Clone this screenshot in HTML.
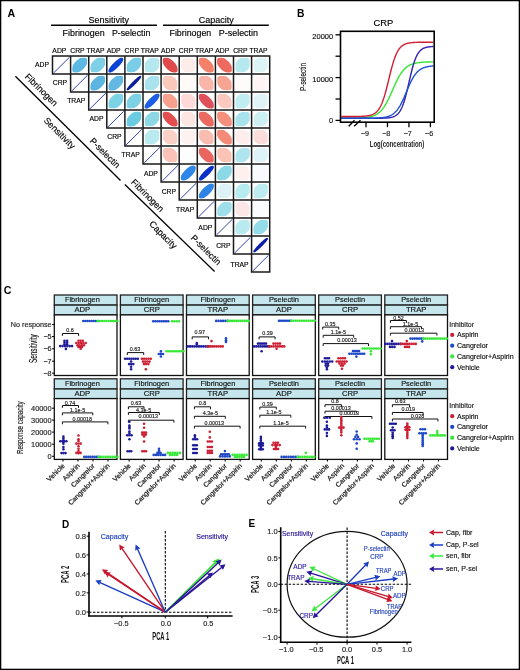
<!DOCTYPE html>
<html><head><meta charset="utf-8"><style>
html,body{margin:0;padding:0;background:#fff;}
svg{display:block;will-change:transform;}
text{font-family:"Liberation Sans", sans-serif;}
</style></head><body>
<svg width="520" height="670" viewBox="0 0 520 670">
<rect x="0" y="0" width="520" height="670" fill="#fff"/>
<text x="7.40" y="16.55" font-size="10.6" text-anchor="start" fill="#000" font-weight="bold">A</text>
<text x="88.50" y="22.80" font-size="9" text-anchor="start" fill="#000" stroke="#000" stroke-width="0.15" textLength="40.40" lengthAdjust="spacingAndGlyphs">Sensitivity</text>
<text x="198.75" y="22.50" font-size="9" text-anchor="start" fill="#000" stroke="#000" stroke-width="0.15" textLength="35.00" lengthAdjust="spacingAndGlyphs">Capacity</text>
<line x1="51.10" y1="25.30" x2="157.00" y2="25.30" stroke="#000" stroke-width="1.4"/>
<line x1="163.00" y1="25.20" x2="268.80" y2="25.20" stroke="#000" stroke-width="1.4"/>
<text x="62.60" y="36.20" font-size="9" text-anchor="start" fill="#000" stroke="#000" stroke-width="0.15" textLength="42.00" lengthAdjust="spacingAndGlyphs">Fibrinogen</text>
<text x="112.00" y="36.20" font-size="9" text-anchor="start" fill="#000" stroke="#000" stroke-width="0.15" textLength="38.30" lengthAdjust="spacingAndGlyphs">P-selectin</text>
<text x="169.50" y="36.20" font-size="9" text-anchor="start" fill="#000" stroke="#000" stroke-width="0.15" textLength="41.70" lengthAdjust="spacingAndGlyphs">Fibrinogen</text>
<text x="218.80" y="36.20" font-size="9" text-anchor="start" fill="#000" stroke="#000" stroke-width="0.15" textLength="39.20" lengthAdjust="spacingAndGlyphs">P-selectin</text>
<text x="59.35" y="53.10" font-size="6.8" text-anchor="middle" fill="#000" stroke="#000" stroke-width="0.15">ADP</text>
<text x="77.45" y="53.10" font-size="6.8" text-anchor="middle" fill="#000" stroke="#000" stroke-width="0.15">CRP</text>
<text x="95.55" y="53.10" font-size="6.8" text-anchor="middle" fill="#000" stroke="#000" stroke-width="0.15">TRAP</text>
<text x="113.65" y="53.10" font-size="6.8" text-anchor="middle" fill="#000" stroke="#000" stroke-width="0.15">ADP</text>
<text x="131.75" y="53.10" font-size="6.8" text-anchor="middle" fill="#000" stroke="#000" stroke-width="0.15">CRP</text>
<text x="149.85" y="53.10" font-size="6.8" text-anchor="middle" fill="#000" stroke="#000" stroke-width="0.15">TRAP</text>
<text x="167.95" y="53.10" font-size="6.8" text-anchor="middle" fill="#000" stroke="#000" stroke-width="0.15">ADP</text>
<text x="186.05" y="53.10" font-size="6.8" text-anchor="middle" fill="#000" stroke="#000" stroke-width="0.15">CRP</text>
<text x="204.15" y="53.10" font-size="6.8" text-anchor="middle" fill="#000" stroke="#000" stroke-width="0.15">TRAP</text>
<text x="222.25" y="53.10" font-size="6.8" text-anchor="middle" fill="#000" stroke="#000" stroke-width="0.15">ADP</text>
<text x="240.35" y="53.10" font-size="6.8" text-anchor="middle" fill="#000" stroke="#000" stroke-width="0.15">CRP</text>
<text x="258.45" y="53.10" font-size="6.8" text-anchor="middle" fill="#000" stroke="#000" stroke-width="0.15">TRAP</text>
<defs>
<clipPath id="cp0_1"><rect x="72.31" y="57.76" width="14.68" height="14.68" rx="2.0"/></clipPath>
<clipPath id="cp0_2"><rect x="90.49" y="57.84" width="14.52" height="14.52" rx="2.0"/></clipPath>
<clipPath id="cp0_3"><rect x="108.26" y="57.51" width="15.18" height="15.18" rx="2.0"/></clipPath>
<clipPath id="cp0_4"><rect x="126.69" y="57.84" width="14.52" height="14.52" rx="2.0"/></clipPath>
<clipPath id="cp0_5"><rect x="144.95" y="58.00" width="14.20" height="14.20" rx="2.0"/></clipPath>
<clipPath id="cp0_6"><rect x="162.75" y="57.70" width="14.79" height="14.79" rx="2.0"/></clipPath>
<clipPath id="cp0_7"><rect x="181.30" y="58.15" width="13.90" height="13.90" rx="2.0"/></clipPath>
<clipPath id="cp0_8"><rect x="199.01" y="57.76" width="14.68" height="14.68" rx="2.0"/></clipPath>
<clipPath id="cp0_9"><rect x="217.11" y="57.76" width="14.68" height="14.68" rx="2.0"/></clipPath>
<clipPath id="cp0_10"><rect x="235.45" y="58.00" width="14.20" height="14.20" rx="2.0"/></clipPath>
<clipPath id="cp0_11"><rect x="253.65" y="58.10" width="13.99" height="13.99" rx="2.0"/></clipPath>
<clipPath id="cp1_2"><rect x="90.41" y="75.76" width="14.68" height="14.68" rx="2.0"/></clipPath>
<clipPath id="cp1_3"><rect x="108.51" y="75.76" width="14.68" height="14.68" rx="2.0"/></clipPath>
<clipPath id="cp1_4"><rect x="126.29" y="75.44" width="15.32" height="15.32" rx="2.0"/></clipPath>
<clipPath id="cp1_5"><rect x="144.91" y="75.96" width="14.28" height="14.28" rx="2.0"/></clipPath>
<clipPath id="cp1_6"><rect x="163.05" y="76.00" width="14.20" height="14.20" rx="2.0"/></clipPath>
<clipPath id="cp1_7"><rect x="181.33" y="76.18" width="13.83" height="13.83" rx="2.0"/></clipPath>
<clipPath id="cp1_8"><rect x="199.21" y="75.96" width="14.28" height="14.28" rx="2.0"/></clipPath>
<clipPath id="cp1_9"><rect x="217.27" y="75.92" width="14.36" height="14.36" rx="2.0"/></clipPath>
<clipPath id="cp1_10"><rect x="235.64" y="76.19" width="13.82" height="13.82" rx="2.0"/></clipPath>
<clipPath id="cp1_11"><rect x="253.71" y="76.16" width="13.88" height="13.88" rx="2.0"/></clipPath>
<clipPath id="cp2_3"><rect x="108.59" y="93.84" width="14.52" height="14.52" rx="2.0"/></clipPath>
<clipPath id="cp2_4"><rect x="126.69" y="93.84" width="14.52" height="14.52" rx="2.0"/></clipPath>
<clipPath id="cp2_5"><rect x="144.49" y="93.54" width="15.13" height="15.13" rx="2.0"/></clipPath>
<clipPath id="cp2_6"><rect x="162.93" y="93.88" width="14.44" height="14.44" rx="2.0"/></clipPath>
<clipPath id="cp2_7"><rect x="181.23" y="94.08" width="14.04" height="14.04" rx="2.0"/></clipPath>
<clipPath id="cp2_8"><rect x="198.93" y="93.68" width="14.84" height="14.84" rx="2.0"/></clipPath>
<clipPath id="cp2_9"><rect x="217.35" y="94.00" width="14.20" height="14.20" rx="2.0"/></clipPath>
<clipPath id="cp2_10"><rect x="235.47" y="94.02" width="14.15" height="14.15" rx="2.0"/></clipPath>
<clipPath id="cp2_11"><rect x="253.67" y="94.12" width="13.96" height="13.96" rx="2.0"/></clipPath>
<clipPath id="cp3_4"><rect x="126.67" y="111.82" width="14.57" height="14.57" rx="2.0"/></clipPath>
<clipPath id="cp3_5"><rect x="144.83" y="111.88" width="14.44" height="14.44" rx="2.0"/></clipPath>
<clipPath id="cp3_6"><rect x="162.73" y="111.68" width="14.84" height="14.84" rx="2.0"/></clipPath>
<clipPath id="cp3_7"><rect x="181.27" y="112.12" width="13.96" height="13.96" rx="2.0"/></clipPath>
<clipPath id="cp3_8"><rect x="199.00" y="111.75" width="14.70" height="14.70" rx="2.0"/></clipPath>
<clipPath id="cp3_9"><rect x="217.15" y="111.80" width="14.60" height="14.60" rx="2.0"/></clipPath>
<clipPath id="cp3_10"><rect x="235.41" y="111.96" width="14.28" height="14.28" rx="2.0"/></clipPath>
<clipPath id="cp3_11"><rect x="253.61" y="112.06" width="14.09" height="14.09" rx="2.0"/></clipPath>
<clipPath id="cp4_5"><rect x="144.95" y="130.00" width="14.20" height="14.20" rx="2.0"/></clipPath>
<clipPath id="cp4_6"><rect x="163.09" y="130.04" width="14.12" height="14.12" rx="2.0"/></clipPath>
<clipPath id="cp4_7"><rect x="181.30" y="130.15" width="13.90" height="13.90" rx="2.0"/></clipPath>
<clipPath id="cp4_8"><rect x="199.21" y="129.96" width="14.28" height="14.28" rx="2.0"/></clipPath>
<clipPath id="cp4_9"><rect x="217.11" y="129.76" width="14.68" height="14.68" rx="2.0"/></clipPath>
<clipPath id="cp4_10"><rect x="235.59" y="130.14" width="13.91" height="13.91" rx="2.0"/></clipPath>
<clipPath id="cp4_11"><rect x="253.65" y="130.10" width="14.01" height="14.01" rx="2.0"/></clipPath>
<clipPath id="cp5_6"><rect x="163.03" y="147.98" width="14.23" height="14.23" rx="2.0"/></clipPath>
<clipPath id="cp5_7"><rect x="181.35" y="148.20" width="13.80" height="13.80" rx="2.0"/></clipPath>
<clipPath id="cp5_8"><rect x="198.99" y="147.74" width="14.73" height="14.73" rx="2.0"/></clipPath>
<clipPath id="cp5_9"><rect x="217.33" y="147.98" width="14.23" height="14.23" rx="2.0"/></clipPath>
<clipPath id="cp5_10"><rect x="235.41" y="147.96" width="14.28" height="14.28" rx="2.0"/></clipPath>
<clipPath id="cp5_11"><rect x="253.65" y="148.10" width="13.99" height="13.99" rx="2.0"/></clipPath>
<clipPath id="cp6_7"><rect x="180.77" y="165.62" width="14.95" height="14.95" rx="2.0"/></clipPath>
<clipPath id="cp6_8"><rect x="198.75" y="165.50" width="15.21" height="15.21" rx="2.0"/></clipPath>
<clipPath id="cp6_9"><rect x="217.21" y="165.86" width="14.47" height="14.47" rx="2.0"/></clipPath>
<clipPath id="cp6_10"><rect x="235.60" y="166.15" width="13.90" height="13.90" rx="2.0"/></clipPath>
<clipPath id="cp6_11"><rect x="253.73" y="166.18" width="13.85" height="13.85" rx="2.0"/></clipPath>
<clipPath id="cp7_8"><rect x="198.85" y="183.60" width="15.00" height="15.00" rx="2.0"/></clipPath>
<clipPath id="cp7_9"><rect x="217.45" y="184.10" width="14.01" height="14.01" rx="2.0"/></clipPath>
<clipPath id="cp7_10"><rect x="235.43" y="183.98" width="14.23" height="14.23" rx="2.0"/></clipPath>
<clipPath id="cp7_11"><rect x="253.54" y="183.99" width="14.22" height="14.22" rx="2.0"/></clipPath>
<clipPath id="cp8_9"><rect x="217.25" y="201.90" width="14.41" height="14.41" rx="2.0"/></clipPath>
<clipPath id="cp8_10"><rect x="235.57" y="202.12" width="13.96" height="13.96" rx="2.0"/></clipPath>
<clipPath id="cp8_11"><rect x="253.73" y="202.18" width="13.85" height="13.85" rx="2.0"/></clipPath>
<clipPath id="cp9_10"><rect x="235.43" y="219.98" width="14.23" height="14.23" rx="2.0"/></clipPath>
<clipPath id="cp9_11"><rect x="253.43" y="219.88" width="14.44" height="14.44" rx="2.0"/></clipPath>
<clipPath id="cp10_11"><rect x="252.99" y="237.44" width="15.32" height="15.32" rx="2.0"/></clipPath>
</defs>
<polygon points="86.65,58.10 86.95,58.46 87.20,58.86 87.39,59.32 87.52,59.81 87.59,60.35 87.60,60.92 87.55,61.53 87.44,62.16 87.27,62.82 87.04,63.49 86.75,64.17 86.42,64.87 86.03,65.56 85.59,66.25 85.10,66.93 84.58,67.60 84.02,68.25 83.42,68.87 82.80,69.47 82.15,70.03 81.48,70.55 80.80,71.04 80.11,71.48 79.42,71.87 78.72,72.20 78.04,72.49 77.37,72.72 76.71,72.89 76.08,73.00 75.47,73.05 74.90,73.04 74.36,72.97 73.87,72.84 73.41,72.65 73.01,72.40 72.65,72.10 72.35,71.74 72.10,71.34 71.91,70.88 71.78,70.39 71.71,69.85 71.70,69.28 71.75,68.67 71.86,68.04 72.03,67.38 72.26,66.71 72.55,66.03 72.88,65.33 73.27,64.64 73.71,63.95 74.20,63.27 74.72,62.60 75.28,61.95 75.88,61.33 76.50,60.73 77.15,60.17 77.82,59.65 78.50,59.16 79.19,58.72 79.88,58.33 80.58,58.00 81.26,57.71 81.93,57.48 82.59,57.31 83.22,57.20 83.83,57.15 84.40,57.16 84.94,57.23 85.43,57.36 85.89,57.55 86.29,57.80" fill="#5bb9e3" clip-path="url(#cp0_1)"/>
<polygon points="104.52,58.33 104.86,58.72 105.14,59.16 105.37,59.64 105.54,60.16 105.65,60.73 105.70,61.32 105.69,61.95 105.62,62.59 105.48,63.26 105.29,63.94 105.05,64.63 104.75,65.33 104.39,66.02 103.98,66.70 103.53,67.37 103.03,68.03 102.49,68.66 101.92,69.27 101.31,69.84 100.68,70.38 100.02,70.88 99.35,71.33 98.67,71.74 97.98,72.10 97.28,72.40 96.59,72.64 95.91,72.83 95.24,72.97 94.60,73.04 93.97,73.05 93.38,73.00 92.81,72.89 92.29,72.72 91.81,72.49 91.37,72.21 90.98,71.87 90.64,71.48 90.36,71.04 90.13,70.56 89.96,70.04 89.85,69.47 89.80,68.88 89.81,68.25 89.88,67.61 90.02,66.94 90.21,66.26 90.45,65.57 90.75,64.87 91.11,64.18 91.52,63.50 91.97,62.83 92.47,62.17 93.01,61.54 93.58,60.93 94.19,60.36 94.82,59.82 95.48,59.32 96.15,58.87 96.83,58.46 97.52,58.10 98.22,57.80 98.91,57.56 99.59,57.37 100.26,57.23 100.90,57.16 101.53,57.15 102.12,57.20 102.69,57.31 103.21,57.48 103.69,57.71 104.13,57.99" fill="#7dd0e6" clip-path="url(#cp0_2)"/>
<polygon points="123.52,57.43 123.67,57.65 123.77,57.92 123.80,58.24 123.77,58.62 123.69,59.04 123.54,59.51 123.34,60.03 123.08,60.58 122.76,61.17 122.39,61.78 121.97,62.43 121.50,63.09 121.00,63.77 120.45,64.45 119.87,65.15 119.25,65.84 118.61,66.53 117.95,67.20 117.28,67.86 116.59,68.50 115.90,69.12 115.20,69.70 114.52,70.25 113.84,70.75 113.18,71.22 112.53,71.64 111.92,72.01 111.33,72.33 110.78,72.59 110.26,72.79 109.79,72.94 109.37,73.02 108.99,73.05 108.67,73.02 108.40,72.92 108.18,72.77 108.03,72.55 107.93,72.28 107.90,71.96 107.93,71.58 108.01,71.16 108.16,70.69 108.36,70.17 108.62,69.62 108.94,69.03 109.31,68.42 109.73,67.77 110.20,67.11 110.70,66.43 111.25,65.75 111.83,65.05 112.45,64.36 113.09,63.67 113.75,63.00 114.42,62.34 115.11,61.70 115.80,61.08 116.50,60.50 117.18,59.95 117.86,59.45 118.52,58.98 119.17,58.56 119.78,58.19 120.37,57.87 120.92,57.61 121.44,57.41 121.91,57.26 122.33,57.18 122.71,57.15 123.03,57.18 123.30,57.28" fill="#0b43d6" clip-path="url(#cp0_3)"/>
<polygon points="140.72,58.33 141.06,58.72 141.34,59.16 141.57,59.64 141.74,60.16 141.85,60.73 141.90,61.32 141.89,61.95 141.82,62.59 141.68,63.26 141.49,63.94 141.25,64.63 140.95,65.33 140.59,66.02 140.18,66.70 139.73,67.37 139.23,68.03 138.69,68.66 138.12,69.27 137.51,69.84 136.88,70.38 136.22,70.88 135.55,71.33 134.87,71.74 134.18,72.10 133.48,72.40 132.79,72.64 132.11,72.83 131.44,72.97 130.80,73.04 130.17,73.05 129.58,73.00 129.01,72.89 128.49,72.72 128.01,72.49 127.57,72.21 127.18,71.87 126.84,71.48 126.56,71.04 126.33,70.56 126.16,70.04 126.05,69.47 126.00,68.88 126.01,68.25 126.08,67.61 126.22,66.94 126.41,66.26 126.65,65.57 126.95,64.87 127.31,64.18 127.72,63.50 128.17,62.83 128.67,62.17 129.21,61.54 129.78,60.93 130.39,60.36 131.02,59.82 131.68,59.32 132.35,58.87 133.03,58.46 133.72,58.10 134.42,57.80 135.11,57.56 135.79,57.37 136.46,57.23 137.10,57.16 137.73,57.15 138.32,57.20 138.89,57.31 139.41,57.48 139.89,57.71 140.33,57.99" fill="#79cde6" clip-path="url(#cp0_4)"/>
<polygon points="158.34,58.81 158.74,59.26 159.08,59.76 159.38,60.29 159.62,60.86 159.80,61.46 159.93,62.09 159.99,62.74 159.99,63.41 159.94,64.10 159.82,64.79 159.64,65.48 159.41,66.17 159.12,66.86 158.77,67.53 158.38,68.18 157.94,68.80 157.45,69.40 156.92,69.97 156.35,70.50 155.75,70.99 155.13,71.43 154.48,71.82 153.81,72.17 153.12,72.46 152.43,72.69 151.74,72.87 151.05,72.99 150.36,73.04 149.69,73.04 149.04,72.98 148.41,72.85 147.81,72.67 147.24,72.43 146.71,72.13 146.21,71.79 145.76,71.39 145.36,70.94 145.02,70.44 144.72,69.91 144.48,69.34 144.30,68.74 144.17,68.11 144.11,67.46 144.11,66.79 144.16,66.10 144.28,65.41 144.46,64.72 144.69,64.03 144.98,63.34 145.33,62.67 145.72,62.02 146.16,61.40 146.65,60.80 147.18,60.23 147.75,59.70 148.35,59.21 148.97,58.77 149.62,58.38 150.29,58.03 150.98,57.74 151.67,57.51 152.36,57.33 153.05,57.21 153.74,57.16 154.41,57.16 155.06,57.22 155.69,57.35 156.29,57.53 156.86,57.77 157.39,58.07 157.89,58.41" fill="#b5e8ee" clip-path="url(#cp0_5)"/>
<polygon points="173.62,61.63 174.23,62.27 174.81,62.93 175.35,63.60 175.85,64.29 176.31,64.98 176.73,65.68 177.09,66.37 177.40,67.04 177.66,67.71 177.86,68.35 178.00,68.97 178.08,69.56 178.10,70.12 178.06,70.64 177.96,71.11 177.80,71.54 177.58,71.93 177.31,72.25 176.98,72.53 176.59,72.75 176.16,72.91 175.69,73.01 175.17,73.05 174.61,73.03 174.02,72.95 173.40,72.81 172.76,72.61 172.09,72.35 171.42,72.04 170.73,71.68 170.03,71.26 169.34,70.80 168.65,70.30 167.98,69.76 167.32,69.18 166.68,68.57 166.07,67.93 165.49,67.27 164.95,66.60 164.45,65.91 163.99,65.22 163.57,64.52 163.21,63.83 162.90,63.16 162.64,62.49 162.44,61.85 162.30,61.23 162.22,60.64 162.20,60.08 162.24,59.56 162.34,59.09 162.50,58.66 162.72,58.27 163.00,57.94 163.32,57.67 163.71,57.45 164.14,57.29 164.61,57.19 165.13,57.15 165.69,57.17 166.28,57.25 166.90,57.39 167.54,57.59 168.21,57.85 168.88,58.16 169.57,58.52 170.27,58.94 170.96,59.40 171.65,59.90 172.32,60.44 172.98,61.02" fill="#e04a4a" clip-path="url(#cp0_6)"/>
<polygon points="193.70,59.65 194.18,60.17 194.62,60.74 195.01,61.33 195.35,61.96 195.64,62.61 195.86,63.27 196.03,63.96 196.15,64.65 196.20,65.34 196.19,66.03 196.12,66.71 195.99,67.39 195.80,68.04 195.55,68.67 195.25,69.28 194.90,69.85 194.49,70.39 194.04,70.89 193.54,71.34 193.00,71.75 192.43,72.10 191.82,72.40 191.19,72.65 190.54,72.84 189.86,72.97 189.18,73.04 188.49,73.05 187.80,73.00 187.11,72.88 186.42,72.71 185.76,72.49 185.11,72.20 184.48,71.86 183.89,71.47 183.32,71.03 182.80,70.55 182.32,70.03 181.88,69.46 181.49,68.87 181.15,68.24 180.86,67.59 180.64,66.93 180.47,66.24 180.35,65.55 180.30,64.86 180.31,64.17 180.38,63.49 180.51,62.81 180.70,62.16 180.95,61.53 181.25,60.92 181.60,60.35 182.01,59.81 182.46,59.31 182.96,58.86 183.50,58.45 184.07,58.10 184.68,57.80 185.31,57.55 185.96,57.36 186.64,57.23 187.32,57.16 188.01,57.15 188.70,57.20 189.39,57.32 190.08,57.49 190.74,57.71 191.39,58.00 192.02,58.34 192.61,58.73 193.18,59.17" fill="#fdecea" clip-path="url(#cp0_7)"/>
<polygon points="210.12,61.33 210.72,61.95 211.28,62.60 211.80,63.27 212.29,63.95 212.73,64.64 213.12,65.33 213.45,66.03 213.74,66.71 213.97,67.38 214.14,68.04 214.25,68.67 214.30,69.28 214.29,69.85 214.22,70.39 214.09,70.88 213.90,71.34 213.65,71.74 213.35,72.10 212.99,72.40 212.59,72.65 212.13,72.84 211.64,72.97 211.10,73.04 210.53,73.05 209.92,73.00 209.29,72.89 208.63,72.72 207.96,72.49 207.28,72.20 206.58,71.87 205.89,71.48 205.20,71.04 204.52,70.55 203.85,70.03 203.20,69.47 202.58,68.87 201.98,68.25 201.42,67.60 200.90,66.93 200.41,66.25 199.97,65.56 199.58,64.87 199.25,64.17 198.96,63.49 198.73,62.82 198.56,62.16 198.45,61.53 198.40,60.92 198.41,60.35 198.48,59.81 198.61,59.32 198.80,58.86 199.05,58.46 199.35,58.10 199.71,57.80 200.11,57.55 200.57,57.36 201.06,57.23 201.60,57.16 202.17,57.15 202.78,57.20 203.41,57.31 204.07,57.48 204.74,57.71 205.42,58.00 206.12,58.33 206.81,58.72 207.50,59.16 208.18,59.65 208.85,60.17 209.50,60.73" fill="#f4806a" clip-path="url(#cp0_8)"/>
<polygon points="228.22,61.33 228.82,61.95 229.38,62.60 229.90,63.27 230.39,63.95 230.83,64.64 231.22,65.33 231.55,66.03 231.84,66.71 232.07,67.38 232.24,68.04 232.35,68.67 232.40,69.28 232.39,69.85 232.32,70.39 232.19,70.88 232.00,71.34 231.75,71.74 231.45,72.10 231.09,72.40 230.69,72.65 230.23,72.84 229.74,72.97 229.20,73.04 228.63,73.05 228.02,73.00 227.39,72.89 226.73,72.72 226.06,72.49 225.38,72.20 224.68,71.87 223.99,71.48 223.30,71.04 222.62,70.55 221.95,70.03 221.30,69.47 220.68,68.87 220.08,68.25 219.52,67.60 219.00,66.93 218.51,66.25 218.07,65.56 217.68,64.87 217.35,64.17 217.06,63.49 216.83,62.82 216.66,62.16 216.55,61.53 216.50,60.92 216.51,60.35 216.58,59.81 216.71,59.32 216.90,58.86 217.15,58.46 217.45,58.10 217.81,57.80 218.21,57.55 218.67,57.36 219.16,57.23 219.70,57.16 220.27,57.15 220.88,57.20 221.51,57.31 222.17,57.48 222.84,57.71 223.52,58.00 224.22,58.33 224.91,58.72 225.60,59.16 226.28,59.65 226.95,60.17 227.60,60.73" fill="#ee6a5e" clip-path="url(#cp0_9)"/>
<polygon points="248.84,58.81 249.24,59.26 249.58,59.76 249.88,60.29 250.12,60.86 250.30,61.46 250.43,62.09 250.49,62.74 250.49,63.41 250.44,64.10 250.32,64.79 250.14,65.48 249.91,66.17 249.62,66.86 249.27,67.53 248.88,68.18 248.44,68.80 247.95,69.40 247.42,69.97 246.85,70.50 246.25,70.99 245.63,71.43 244.98,71.82 244.31,72.17 243.62,72.46 242.93,72.69 242.24,72.87 241.55,72.99 240.86,73.04 240.19,73.04 239.54,72.98 238.91,72.85 238.31,72.67 237.74,72.43 237.21,72.13 236.71,71.79 236.26,71.39 235.86,70.94 235.52,70.44 235.22,69.91 234.98,69.34 234.80,68.74 234.67,68.11 234.61,67.46 234.61,66.79 234.66,66.10 234.78,65.41 234.96,64.72 235.19,64.03 235.48,63.34 235.83,62.67 236.22,62.02 236.66,61.40 237.15,60.80 237.68,60.23 238.25,59.70 238.85,59.21 239.47,58.77 240.12,58.38 240.79,58.03 241.48,57.74 242.17,57.51 242.86,57.33 243.55,57.21 244.24,57.16 244.91,57.16 245.56,57.22 246.19,57.35 246.79,57.53 247.36,57.77 247.89,58.07 248.39,58.41" fill="#b6e8f0" clip-path="url(#cp0_10)"/>
<polygon points="266.60,59.15 267.04,59.63 267.42,60.16 267.76,60.72 268.04,61.31 268.27,61.94 268.44,62.58 268.55,63.25 268.60,63.93 268.59,64.62 268.51,65.32 268.38,66.01 268.19,66.69 267.94,67.37 267.64,68.02 267.28,68.65 266.88,69.26 266.42,69.83 265.92,70.37 265.38,70.87 264.81,71.33 264.20,71.73 263.57,72.09 262.92,72.39 262.24,72.64 261.56,72.83 260.87,72.96 260.17,73.04 259.48,73.05 258.80,73.00 258.13,72.89 257.49,72.72 256.86,72.49 256.27,72.21 255.71,71.87 255.18,71.49 254.70,71.05 254.26,70.57 253.88,70.04 253.54,69.48 253.26,68.89 253.03,68.26 252.86,67.62 252.75,66.95 252.70,66.27 252.71,65.58 252.79,64.88 252.92,64.19 253.11,63.51 253.36,62.83 253.66,62.18 254.02,61.55 254.42,60.94 254.88,60.37 255.38,59.83 255.92,59.33 256.49,58.87 257.10,58.47 257.73,58.11 258.38,57.81 259.06,57.56 259.74,57.37 260.43,57.24 261.13,57.16 261.82,57.15 262.50,57.20 263.17,57.31 263.81,57.48 264.44,57.71 265.03,57.99 265.59,58.33 266.12,58.71" fill="#ddf4f7" clip-path="url(#cp0_11)"/>
<polygon points="104.75,76.10 105.05,76.46 105.30,76.86 105.49,77.32 105.62,77.81 105.69,78.35 105.70,78.92 105.65,79.53 105.54,80.16 105.37,80.82 105.14,81.49 104.85,82.17 104.52,82.87 104.13,83.56 103.69,84.25 103.20,84.93 102.68,85.60 102.12,86.25 101.52,86.87 100.90,87.47 100.25,88.03 99.58,88.55 98.90,89.04 98.21,89.48 97.52,89.87 96.82,90.20 96.14,90.49 95.47,90.72 94.81,90.89 94.18,91.00 93.57,91.05 93.00,91.04 92.46,90.97 91.97,90.84 91.51,90.65 91.11,90.40 90.75,90.10 90.45,89.74 90.20,89.34 90.01,88.88 89.88,88.39 89.81,87.85 89.80,87.28 89.85,86.67 89.96,86.04 90.13,85.38 90.36,84.71 90.65,84.03 90.98,83.33 91.37,82.64 91.81,81.95 92.30,81.27 92.82,80.60 93.38,79.95 93.98,79.33 94.60,78.73 95.25,78.17 95.92,77.65 96.60,77.16 97.29,76.72 97.98,76.33 98.68,76.00 99.36,75.71 100.03,75.48 100.69,75.31 101.32,75.20 101.93,75.15 102.50,75.16 103.04,75.23 103.53,75.36 103.99,75.55 104.39,75.80" fill="#5bb5e0" clip-path="url(#cp1_2)"/>
<polygon points="122.85,76.10 123.15,76.46 123.40,76.86 123.59,77.32 123.72,77.81 123.79,78.35 123.80,78.92 123.75,79.53 123.64,80.16 123.47,80.82 123.24,81.49 122.95,82.17 122.62,82.87 122.23,83.56 121.79,84.25 121.30,84.93 120.78,85.60 120.22,86.25 119.62,86.87 119.00,87.47 118.35,88.03 117.68,88.55 117.00,89.04 116.31,89.48 115.62,89.87 114.92,90.20 114.24,90.49 113.57,90.72 112.91,90.89 112.28,91.00 111.67,91.05 111.10,91.04 110.56,90.97 110.07,90.84 109.61,90.65 109.21,90.40 108.85,90.10 108.55,89.74 108.30,89.34 108.11,88.88 107.98,88.39 107.91,87.85 107.90,87.28 107.95,86.67 108.06,86.04 108.23,85.38 108.46,84.71 108.75,84.03 109.08,83.33 109.47,82.64 109.91,81.95 110.40,81.27 110.92,80.60 111.48,79.95 112.08,79.33 112.70,78.73 113.35,78.17 114.02,77.65 114.70,77.16 115.39,76.72 116.08,76.33 116.78,76.00 117.46,75.71 118.13,75.48 118.79,75.31 119.42,75.20 120.03,75.15 120.60,75.16 121.14,75.23 121.63,75.36 122.09,75.55 122.49,75.80" fill="#62b8e2" clip-path="url(#cp1_3)"/>
<polygon points="141.80,75.25 141.88,75.39 141.90,75.59 141.86,75.84 141.76,76.15 141.60,76.52 141.38,76.93 141.10,77.39 140.77,77.89 140.39,78.44 139.96,79.02 139.48,79.63 138.96,80.26 138.41,80.92 137.82,81.60 137.20,82.28 136.55,82.97 135.89,83.67 135.21,84.36 134.52,85.04 133.82,85.70 133.13,86.35 132.45,86.97 131.77,87.56 131.11,88.11 130.48,88.63 129.87,89.11 129.29,89.54 128.74,89.92 128.24,90.25 127.78,90.53 127.37,90.75 127.00,90.91 126.69,91.01 126.44,91.05 126.24,91.03 126.10,90.95 126.02,90.81 126.00,90.61 126.04,90.36 126.14,90.05 126.30,89.68 126.52,89.27 126.80,88.81 127.13,88.31 127.51,87.76 127.94,87.18 128.42,86.57 128.94,85.94 129.49,85.28 130.08,84.60 130.70,83.92 131.35,83.23 132.01,82.53 132.69,81.84 133.38,81.16 134.08,80.50 134.77,79.85 135.45,79.23 136.13,78.64 136.79,78.09 137.42,77.57 138.03,77.09 138.61,76.66 139.16,76.28 139.66,75.95 140.12,75.67 140.53,75.45 140.90,75.29 141.21,75.19 141.46,75.15 141.66,75.17" fill="#0a1e9a" clip-path="url(#cp1_4)"/>
<polygon points="158.46,76.69 158.85,77.12 159.18,77.60 159.46,78.13 159.68,78.69 159.85,79.28 159.95,79.90 160.00,80.55 159.98,81.21 159.91,81.89 159.77,82.58 159.58,83.28 159.33,83.97 159.02,84.65 158.66,85.33 158.25,85.98 157.79,86.62 157.29,87.23 156.75,87.80 156.18,88.34 155.57,88.84 154.93,89.30 154.28,89.71 153.60,90.07 152.92,90.38 152.23,90.63 151.53,90.82 150.84,90.96 150.16,91.03 149.50,91.05 148.85,91.00 148.23,90.90 147.64,90.73 147.08,90.51 146.55,90.23 146.07,89.90 145.64,89.51 145.25,89.08 144.92,88.60 144.64,88.07 144.42,87.51 144.25,86.92 144.15,86.30 144.10,85.65 144.12,84.99 144.19,84.31 144.33,83.62 144.52,82.92 144.77,82.23 145.08,81.55 145.44,80.87 145.85,80.22 146.31,79.58 146.81,78.97 147.35,78.40 147.92,77.86 148.53,77.36 149.17,76.90 149.82,76.49 150.50,76.13 151.18,75.82 151.87,75.57 152.57,75.38 153.26,75.24 153.94,75.17 154.60,75.15 155.25,75.20 155.87,75.30 156.46,75.47 157.02,75.69 157.55,75.97 158.03,76.30" fill="#a8e2ec" clip-path="url(#cp1_5)"/>
<polygon points="175.02,78.23 175.55,78.80 176.04,79.40 176.48,80.02 176.87,80.67 177.22,81.34 177.51,82.03 177.74,82.72 177.92,83.41 178.04,84.10 178.09,84.79 178.09,85.46 178.03,86.11 177.90,86.74 177.72,87.34 177.48,87.91 177.18,88.44 176.84,88.94 176.44,89.39 175.99,89.79 175.49,90.13 174.96,90.43 174.39,90.67 173.79,90.85 173.16,90.98 172.51,91.04 171.84,91.04 171.15,90.99 170.46,90.87 169.77,90.69 169.08,90.46 168.39,90.17 167.72,89.82 167.07,89.43 166.45,88.99 165.85,88.50 165.28,87.97 164.75,87.40 164.26,86.80 163.82,86.18 163.43,85.53 163.08,84.86 162.79,84.17 162.56,83.48 162.38,82.79 162.26,82.10 162.21,81.41 162.21,80.74 162.27,80.09 162.40,79.46 162.58,78.86 162.82,78.29 163.12,77.76 163.46,77.26 163.86,76.81 164.31,76.41 164.81,76.07 165.34,75.77 165.91,75.53 166.51,75.35 167.14,75.22 167.79,75.16 168.46,75.16 169.15,75.21 169.84,75.33 170.53,75.51 171.22,75.74 171.91,76.03 172.58,76.38 173.23,76.77 173.85,77.21 174.45,77.70" fill="#fbc8bc" clip-path="url(#cp1_6)"/>
<polygon points="193.81,77.53 194.29,78.05 194.72,78.61 195.09,79.19 195.42,79.81 195.69,80.46 195.91,81.12 196.07,81.80 196.16,82.49 196.20,83.18 196.18,83.87 196.09,84.56 195.95,85.23 195.75,85.89 195.49,86.53 195.17,87.14 194.81,87.72 194.39,88.27 193.93,88.78 193.42,89.24 192.87,89.66 192.29,90.02 191.68,90.34 191.04,90.60 190.38,90.80 189.71,90.94 189.02,91.03 188.33,91.05 187.64,91.01 186.95,90.92 186.27,90.76 185.61,90.54 184.96,90.27 184.34,89.94 183.76,89.57 183.20,89.14 182.69,88.66 182.21,88.15 181.78,87.59 181.41,87.01 181.08,86.39 180.81,85.74 180.59,85.08 180.43,84.40 180.34,83.71 180.30,83.02 180.32,82.33 180.41,81.64 180.55,80.97 180.75,80.31 181.01,79.67 181.33,79.06 181.69,78.48 182.11,77.93 182.57,77.42 183.08,76.96 183.63,76.54 184.21,76.18 184.82,75.86 185.46,75.60 186.12,75.40 186.79,75.26 187.48,75.17 188.17,75.15 188.86,75.19 189.55,75.28 190.23,75.44 190.89,75.66 191.54,75.93 192.16,76.26 192.74,76.63 193.30,77.06" fill="#fefaf8" clip-path="url(#cp1_7)"/>
<polygon points="211.05,78.40 211.59,78.97 212.09,79.58 212.55,80.22 212.96,80.87 213.32,81.55 213.63,82.23 213.88,82.92 214.07,83.62 214.21,84.31 214.28,84.99 214.30,85.65 214.25,86.30 214.15,86.92 213.98,87.51 213.76,88.07 213.48,88.60 213.15,89.08 212.76,89.51 212.33,89.90 211.85,90.23 211.32,90.51 210.76,90.73 210.17,90.90 209.55,91.00 208.90,91.05 208.24,91.03 207.56,90.96 206.87,90.82 206.17,90.63 205.48,90.38 204.80,90.07 204.12,89.71 203.47,89.30 202.83,88.84 202.22,88.34 201.65,87.80 201.11,87.23 200.61,86.62 200.15,85.98 199.74,85.33 199.38,84.65 199.07,83.97 198.82,83.28 198.63,82.58 198.49,81.89 198.42,81.21 198.40,80.55 198.45,79.90 198.55,79.28 198.72,78.69 198.94,78.13 199.22,77.60 199.55,77.12 199.94,76.69 200.37,76.30 200.85,75.97 201.38,75.69 201.94,75.47 202.53,75.30 203.15,75.20 203.80,75.15 204.46,75.17 205.14,75.24 205.83,75.38 206.53,75.57 207.22,75.82 207.90,76.13 208.58,76.49 209.23,76.90 209.87,77.36 210.48,77.86" fill="#f9b5a8" clip-path="url(#cp1_8)"/>
<polygon points="228.98,78.57 229.53,79.15 230.05,79.77 230.52,80.41 230.94,81.08 231.32,81.75 231.64,82.44 231.91,83.13 232.12,83.83 232.27,84.51 232.37,85.19 232.40,85.85 232.37,86.49 232.29,87.10 232.14,87.69 231.93,88.24 231.67,88.75 231.35,89.21 230.98,89.63 230.56,90.00 230.10,90.32 229.59,90.58 229.04,90.79 228.45,90.94 227.84,91.02 227.20,91.05 226.54,91.02 225.86,90.92 225.18,90.77 224.48,90.56 223.79,90.29 223.10,89.97 222.43,89.59 221.76,89.17 221.12,88.70 220.50,88.18 219.92,87.63 219.37,87.05 218.85,86.43 218.38,85.79 217.96,85.12 217.58,84.45 217.26,83.76 216.99,83.07 216.78,82.37 216.63,81.69 216.53,81.01 216.50,80.35 216.53,79.71 216.61,79.10 216.76,78.51 216.97,77.96 217.23,77.45 217.55,76.99 217.92,76.57 218.34,76.20 218.80,75.88 219.31,75.62 219.86,75.41 220.45,75.26 221.06,75.18 221.70,75.15 222.36,75.18 223.04,75.28 223.72,75.43 224.42,75.64 225.11,75.91 225.80,76.23 226.47,76.61 227.14,77.03 227.78,77.50 228.40,78.02" fill="#f7a593" clip-path="url(#cp1_9)"/>
<polygon points="248.14,77.51 248.61,78.02 249.04,78.57 249.41,79.16 249.74,79.78 250.01,80.42 250.22,81.08 250.37,81.76 250.47,82.45 250.50,83.14 250.47,83.83 250.39,84.52 250.24,85.20 250.03,85.86 249.77,86.50 249.45,87.11 249.08,87.69 248.67,88.24 248.20,88.75 247.69,89.22 247.14,89.63 246.56,90.00 245.95,90.32 245.31,90.58 244.65,90.79 243.97,90.94 243.28,91.02 242.59,91.05 241.90,91.02 241.21,90.92 240.53,90.77 239.87,90.56 239.23,90.29 238.61,89.96 238.02,89.59 237.47,89.16 236.96,88.69 236.49,88.18 236.06,87.63 235.69,87.04 235.36,86.42 235.09,85.78 234.88,85.12 234.73,84.44 234.63,83.75 234.60,83.06 234.63,82.37 234.71,81.68 234.86,81.00 235.07,80.34 235.33,79.70 235.65,79.09 236.02,78.51 236.43,77.96 236.90,77.45 237.41,76.98 237.96,76.57 238.54,76.20 239.15,75.88 239.79,75.62 240.45,75.41 241.13,75.26 241.82,75.18 242.51,75.15 243.20,75.18 243.89,75.28 244.57,75.43 245.23,75.64 245.87,75.91 246.49,76.24 247.08,76.61 247.63,77.04" fill="#fefcfb" clip-path="url(#cp1_10)"/>
<polygon points="266.13,77.62 266.61,78.14 267.05,78.70 267.43,79.30 267.77,79.92 268.05,80.57 268.28,81.24 268.44,81.92 268.55,82.61 268.60,83.30 268.58,83.99 268.51,84.68 268.38,85.35 268.19,86.01 267.94,86.64 267.63,87.25 267.27,87.82 266.87,88.36 266.41,88.86 265.91,89.32 265.37,89.72 264.80,90.08 264.19,90.39 263.56,90.64 262.90,90.83 262.23,90.96 261.54,91.03 260.85,91.05 260.16,91.00 259.47,90.89 258.79,90.73 258.12,90.50 257.47,90.22 256.85,89.88 256.25,89.50 255.69,89.06 255.17,88.58 254.69,88.06 254.25,87.50 253.87,86.90 253.53,86.28 253.25,85.63 253.02,84.96 252.86,84.28 252.75,83.59 252.70,82.90 252.72,82.21 252.79,81.52 252.92,80.85 253.11,80.19 253.36,79.56 253.67,78.95 254.03,78.38 254.43,77.84 254.89,77.34 255.39,76.88 255.93,76.48 256.50,76.12 257.11,75.81 257.74,75.56 258.40,75.37 259.07,75.24 259.76,75.17 260.45,75.15 261.14,75.20 261.83,75.31 262.51,75.47 263.18,75.70 263.83,75.98 264.45,76.32 265.05,76.70 265.61,77.14" fill="#fdf5f5" clip-path="url(#cp1_11)"/>
<polygon points="122.62,94.33 122.96,94.72 123.24,95.16 123.47,95.64 123.64,96.16 123.75,96.73 123.80,97.32 123.79,97.95 123.72,98.59 123.58,99.26 123.39,99.94 123.15,100.63 122.85,101.33 122.49,102.02 122.08,102.70 121.63,103.37 121.13,104.03 120.59,104.66 120.02,105.27 119.41,105.84 118.78,106.38 118.12,106.88 117.45,107.33 116.77,107.74 116.08,108.10 115.38,108.40 114.69,108.64 114.01,108.83 113.34,108.97 112.70,109.04 112.07,109.05 111.48,109.00 110.91,108.89 110.39,108.72 109.91,108.49 109.47,108.21 109.08,107.87 108.74,107.48 108.46,107.04 108.23,106.56 108.06,106.04 107.95,105.47 107.90,104.88 107.91,104.25 107.98,103.61 108.12,102.94 108.31,102.26 108.55,101.57 108.85,100.87 109.21,100.18 109.62,99.50 110.07,98.83 110.57,98.17 111.11,97.54 111.68,96.93 112.29,96.36 112.92,95.82 113.58,95.32 114.25,94.87 114.93,94.46 115.62,94.10 116.32,93.80 117.01,93.56 117.69,93.37 118.36,93.23 119.00,93.16 119.63,93.15 120.22,93.20 120.79,93.31 121.31,93.48 121.79,93.71 122.23,93.99" fill="#7dd3e6" clip-path="url(#cp2_3)"/>
<polygon points="140.72,94.33 141.06,94.72 141.34,95.16 141.57,95.64 141.74,96.16 141.85,96.73 141.90,97.32 141.89,97.95 141.82,98.59 141.68,99.26 141.49,99.94 141.25,100.63 140.95,101.33 140.59,102.02 140.18,102.70 139.73,103.37 139.23,104.03 138.69,104.66 138.12,105.27 137.51,105.84 136.88,106.38 136.22,106.88 135.55,107.33 134.87,107.74 134.18,108.10 133.48,108.40 132.79,108.64 132.11,108.83 131.44,108.97 130.80,109.04 130.17,109.05 129.58,109.00 129.01,108.89 128.49,108.72 128.01,108.49 127.57,108.21 127.18,107.87 126.84,107.48 126.56,107.04 126.33,106.56 126.16,106.04 126.05,105.47 126.00,104.88 126.01,104.25 126.08,103.61 126.22,102.94 126.41,102.26 126.65,101.57 126.95,100.87 127.31,100.18 127.72,99.50 128.17,98.83 128.67,98.17 129.21,97.54 129.78,96.93 130.39,96.36 131.02,95.82 131.68,95.32 132.35,94.87 133.03,94.46 133.72,94.10 134.42,93.80 135.11,93.56 135.79,93.37 136.46,93.23 137.10,93.16 137.73,93.15 138.32,93.20 138.89,93.31 139.41,93.48 139.89,93.71 140.33,93.99" fill="#7ed0e5" clip-path="url(#cp2_4)"/>
<polygon points="159.65,93.50 159.83,93.73 159.94,94.01 160.00,94.35 159.99,94.75 159.92,95.19 159.79,95.67 159.61,96.20 159.37,96.76 159.07,97.36 158.71,97.99 158.31,98.64 157.86,99.30 157.36,99.99 156.83,100.68 156.26,101.37 155.65,102.06 155.02,102.75 154.37,103.42 153.70,104.07 153.01,104.70 152.32,105.31 151.63,105.88 150.94,106.41 150.25,106.91 149.59,107.36 148.94,107.76 148.31,108.12 147.71,108.42 147.15,108.66 146.62,108.84 146.14,108.97 145.70,109.04 145.30,109.05 144.96,108.99 144.68,108.88 144.45,108.70 144.27,108.47 144.16,108.19 144.10,107.85 144.11,107.45 144.18,107.01 144.31,106.53 144.49,106.00 144.73,105.44 145.03,104.84 145.39,104.21 145.79,103.56 146.24,102.90 146.74,102.21 147.27,101.52 147.84,100.83 148.45,100.14 149.08,99.45 149.73,98.78 150.40,98.13 151.09,97.50 151.78,96.89 152.47,96.32 153.16,95.79 153.85,95.29 154.51,94.84 155.16,94.44 155.79,94.08 156.39,93.78 156.95,93.54 157.48,93.36 157.96,93.23 158.40,93.16 158.80,93.15 159.14,93.21 159.42,93.32" fill="#1e5ee6" clip-path="url(#cp2_5)"/>
<polygon points="174.50,96.75 175.07,97.34 175.59,97.97 176.08,98.62 176.52,99.28 176.91,99.96 177.25,100.65 177.53,101.35 177.76,102.04 177.93,102.72 178.04,103.40 178.10,104.05 178.09,104.68 178.02,105.29 177.89,105.86 177.70,106.40 177.46,106.89 177.16,107.35 176.80,107.75 176.40,108.11 175.94,108.41 175.45,108.65 174.91,108.84 174.34,108.97 173.73,109.04 173.10,109.05 172.45,108.99 171.77,108.88 171.09,108.71 170.40,108.48 169.70,108.20 169.01,107.86 168.33,107.47 167.67,107.03 167.02,106.54 166.39,106.02 165.80,105.45 165.23,104.86 164.71,104.23 164.22,103.58 163.78,102.92 163.39,102.24 163.05,101.55 162.77,100.85 162.54,100.16 162.37,99.48 162.26,98.80 162.20,98.15 162.21,97.52 162.28,96.91 162.41,96.34 162.60,95.80 162.84,95.31 163.14,94.85 163.50,94.45 163.90,94.09 164.36,93.79 164.85,93.55 165.39,93.36 165.96,93.23 166.57,93.16 167.20,93.15 167.85,93.21 168.53,93.32 169.21,93.49 169.90,93.72 170.60,94.00 171.29,94.34 171.97,94.73 172.63,95.17 173.28,95.66 173.91,96.18" fill="#f7a08e" clip-path="url(#cp2_6)"/>
<polygon points="193.43,95.92 193.94,96.46 194.40,97.04 194.82,97.65 195.18,98.29 195.49,98.95 195.75,99.63 195.95,100.31 196.10,101.00 196.18,101.70 196.20,102.39 196.16,103.07 196.06,103.73 195.90,104.37 195.69,104.99 195.41,105.58 195.09,106.14 194.71,106.65 194.28,107.13 193.80,107.56 193.29,107.94 192.73,108.26 192.14,108.54 191.52,108.75 190.88,108.91 190.22,109.01 189.54,109.05 188.85,109.03 188.15,108.95 187.46,108.80 186.78,108.60 186.10,108.34 185.44,108.03 184.80,107.67 184.19,107.25 183.61,106.79 183.07,106.28 182.56,105.74 182.10,105.16 181.68,104.55 181.32,103.91 181.01,103.25 180.75,102.57 180.55,101.89 180.40,101.20 180.32,100.50 180.30,99.81 180.34,99.13 180.44,98.47 180.60,97.83 180.81,97.21 181.09,96.62 181.41,96.06 181.79,95.55 182.22,95.07 182.70,94.64 183.21,94.26 183.77,93.94 184.36,93.66 184.98,93.45 185.62,93.29 186.28,93.19 186.96,93.15 187.65,93.17 188.35,93.25 189.04,93.40 189.72,93.60 190.40,93.86 191.06,94.17 191.70,94.53 192.31,94.95 192.89,95.41" fill="#fddad8" clip-path="url(#cp2_7)"/>
<polygon points="209.68,97.77 210.29,98.42 210.88,99.08 211.43,99.76 211.94,100.44 212.42,101.14 212.84,101.83 213.22,102.52 213.54,103.19 213.81,103.85 214.02,104.49 214.17,105.11 214.27,105.69 214.30,106.24 214.27,106.75 214.19,107.21 214.04,107.63 213.83,108.00 213.57,108.32 213.25,108.58 212.88,108.79 212.46,108.94 212.00,109.02 211.49,109.05 210.94,109.02 210.36,108.92 209.74,108.77 209.10,108.56 208.44,108.29 207.77,107.97 207.08,107.59 206.39,107.17 205.69,106.69 205.01,106.18 204.33,105.63 203.67,105.04 203.02,104.43 202.41,103.78 201.82,103.12 201.27,102.44 200.76,101.76 200.28,101.06 199.86,100.37 199.48,99.68 199.16,99.01 198.89,98.35 198.68,97.71 198.53,97.09 198.43,96.51 198.40,95.96 198.43,95.45 198.51,94.99 198.66,94.57 198.87,94.20 199.13,93.88 199.45,93.62 199.82,93.41 200.24,93.26 200.70,93.18 201.21,93.15 201.76,93.18 202.34,93.28 202.96,93.43 203.60,93.64 204.26,93.91 204.93,94.23 205.62,94.61 206.31,95.03 207.01,95.51 207.69,96.02 208.37,96.57 209.03,97.16" fill="#e0505a" clip-path="url(#cp2_8)"/>
<polygon points="229.32,96.23 229.85,96.80 230.34,97.40 230.78,98.02 231.17,98.67 231.52,99.34 231.81,100.03 232.04,100.72 232.22,101.41 232.34,102.10 232.39,102.79 232.39,103.46 232.33,104.11 232.20,104.74 232.02,105.34 231.78,105.91 231.48,106.44 231.14,106.94 230.74,107.39 230.29,107.79 229.79,108.13 229.26,108.43 228.69,108.67 228.09,108.85 227.46,108.98 226.81,109.04 226.14,109.04 225.45,108.99 224.76,108.87 224.07,108.69 223.38,108.46 222.69,108.17 222.02,107.82 221.37,107.43 220.75,106.99 220.15,106.50 219.58,105.97 219.05,105.40 218.56,104.80 218.12,104.18 217.73,103.53 217.38,102.86 217.09,102.17 216.86,101.48 216.68,100.79 216.56,100.10 216.51,99.41 216.51,98.74 216.57,98.09 216.70,97.46 216.88,96.86 217.12,96.29 217.42,95.76 217.76,95.26 218.16,94.81 218.61,94.41 219.11,94.07 219.64,93.77 220.21,93.53 220.81,93.35 221.44,93.22 222.09,93.16 222.76,93.16 223.45,93.21 224.14,93.33 224.83,93.51 225.52,93.74 226.21,94.03 226.88,94.38 227.53,94.77 228.15,95.21 228.75,95.70" fill="#fbc9bf" clip-path="url(#cp2_9)"/>
<polygon points="248.76,94.89 249.17,95.35 249.53,95.85 249.83,96.39 250.08,96.96 250.28,97.57 250.41,98.21 250.48,98.86 250.50,99.53 250.45,100.22 250.34,100.91 250.18,101.61 249.95,102.30 249.67,102.98 249.34,103.64 248.95,104.29 248.52,104.91 248.04,105.50 247.51,106.06 246.95,106.59 246.36,107.07 245.74,107.50 245.09,107.89 244.43,108.22 243.75,108.50 243.06,108.73 242.36,108.89 241.67,109.00 240.98,109.05 240.31,109.03 239.66,108.96 239.02,108.83 238.41,108.63 237.84,108.38 237.30,108.08 236.80,107.72 236.34,107.31 235.93,106.85 235.57,106.35 235.27,105.81 235.02,105.24 234.82,104.63 234.69,103.99 234.62,103.34 234.60,102.67 234.65,101.98 234.76,101.29 234.92,100.59 235.15,99.90 235.43,99.22 235.76,98.56 236.15,97.91 236.58,97.29 237.06,96.70 237.59,96.14 238.15,95.61 238.74,95.13 239.36,94.70 240.01,94.31 240.67,93.98 241.35,93.70 242.04,93.47 242.74,93.31 243.43,93.20 244.12,93.15 244.79,93.17 245.44,93.24 246.08,93.37 246.69,93.57 247.26,93.82 247.80,94.12 248.30,94.48" fill="#c0edf2" clip-path="url(#cp2_10)"/>
<polygon points="266.55,95.20 266.99,95.69 267.38,96.22 267.73,96.79 268.01,97.38 268.25,98.01 268.42,98.66 268.54,99.33 268.59,100.01 268.59,100.70 268.53,101.40 268.40,102.09 268.22,102.77 267.98,103.44 267.68,104.09 267.33,104.73 266.93,105.33 266.48,105.90 265.98,106.43 265.45,106.93 264.88,107.38 264.28,107.78 263.64,108.13 262.99,108.43 262.32,108.67 261.64,108.85 260.95,108.98 260.25,109.04 259.56,109.04 258.88,108.99 258.21,108.87 257.56,108.70 256.93,108.46 256.34,108.18 255.77,107.83 255.24,107.44 254.75,107.00 254.31,106.51 253.92,105.98 253.57,105.41 253.29,104.82 253.05,104.19 252.88,103.54 252.76,102.87 252.71,102.19 252.71,101.50 252.77,100.80 252.90,100.11 253.08,99.43 253.32,98.76 253.62,98.11 253.97,97.47 254.37,96.87 254.82,96.30 255.32,95.77 255.85,95.27 256.42,94.82 257.02,94.42 257.66,94.07 258.31,93.77 258.98,93.53 259.66,93.35 260.35,93.22 261.05,93.16 261.74,93.16 262.42,93.21 263.09,93.33 263.74,93.50 264.37,93.74 264.96,94.02 265.53,94.37 266.06,94.76" fill="#e0f4f8" clip-path="url(#cp2_11)"/>
<polygon points="140.79,112.26 141.12,112.64 141.39,113.07 141.61,113.54 141.76,114.06 141.86,114.62 141.90,115.20 141.88,115.82 141.79,116.47 141.65,117.13 141.45,117.81 141.19,118.50 140.88,119.19 140.51,119.88 140.10,120.57 139.64,121.25 139.13,121.90 138.58,122.54 138.00,123.15 137.39,123.73 136.75,124.28 136.10,124.79 135.42,125.25 134.73,125.66 134.04,126.03 133.35,126.34 132.66,126.60 131.98,126.80 131.32,126.94 130.67,127.03 130.05,127.05 129.47,127.01 128.91,126.91 128.39,126.76 127.92,126.54 127.49,126.27 127.11,125.94 126.78,125.56 126.51,125.13 126.29,124.66 126.14,124.14 126.04,123.58 126.00,123.00 126.02,122.38 126.11,121.73 126.25,121.07 126.45,120.39 126.71,119.70 127.02,119.01 127.39,118.32 127.80,117.63 128.26,116.95 128.77,116.30 129.32,115.66 129.90,115.05 130.51,114.47 131.15,113.92 131.80,113.41 132.48,112.95 133.17,112.54 133.86,112.17 134.55,111.86 135.24,111.60 135.92,111.40 136.58,111.26 137.23,111.17 137.85,111.15 138.43,111.19 138.99,111.29 139.51,111.44 139.98,111.66 140.41,111.93" fill="#6bcbe0" clip-path="url(#cp3_4)"/>
<polygon points="158.70,112.45 159.06,112.85 159.36,113.31 159.60,113.80 159.79,114.34 159.92,114.91 159.99,115.52 160.00,116.15 159.94,116.80 159.83,117.48 159.66,118.16 159.43,118.85 159.15,119.55 158.81,120.24 158.42,120.92 157.98,121.58 157.49,122.23 156.97,122.86 156.40,123.45 155.81,124.02 155.18,124.54 154.53,125.03 153.87,125.47 153.19,125.86 152.50,126.20 151.80,126.48 151.11,126.71 150.43,126.88 149.75,126.99 149.10,127.05 148.47,127.04 147.86,126.97 147.29,126.84 146.75,126.65 146.26,126.41 145.80,126.11 145.40,125.75 145.04,125.35 144.74,124.89 144.50,124.40 144.31,123.86 144.18,123.29 144.11,122.68 144.10,122.05 144.16,121.40 144.27,120.72 144.44,120.04 144.67,119.35 144.95,118.65 145.29,117.96 145.68,117.28 146.12,116.62 146.61,115.97 147.13,115.34 147.70,114.75 148.29,114.18 148.92,113.66 149.57,113.17 150.23,112.73 150.91,112.34 151.60,112.00 152.30,111.72 152.99,111.49 153.67,111.32 154.35,111.21 155.00,111.15 155.63,111.16 156.24,111.23 156.81,111.36 157.35,111.55 157.84,111.79 158.30,112.09" fill="#8ed8e6" clip-path="url(#cp3_5)"/>
<polygon points="173.48,115.77 174.09,116.42 174.68,117.08 175.23,117.76 175.74,118.44 176.22,119.14 176.64,119.83 177.02,120.52 177.34,121.19 177.61,121.85 177.82,122.49 177.97,123.11 178.07,123.69 178.10,124.24 178.07,124.75 177.99,125.21 177.84,125.63 177.63,126.00 177.37,126.32 177.05,126.58 176.68,126.79 176.26,126.94 175.80,127.02 175.29,127.05 174.74,127.02 174.16,126.92 173.54,126.77 172.90,126.56 172.24,126.29 171.57,125.97 170.88,125.59 170.19,125.17 169.49,124.69 168.81,124.18 168.13,123.63 167.47,123.04 166.82,122.43 166.21,121.78 165.62,121.12 165.07,120.44 164.56,119.76 164.08,119.06 163.66,118.37 163.28,117.68 162.96,117.01 162.69,116.35 162.48,115.71 162.33,115.09 162.23,114.51 162.20,113.96 162.23,113.45 162.31,112.99 162.46,112.57 162.67,112.20 162.93,111.88 163.25,111.62 163.62,111.41 164.04,111.26 164.50,111.18 165.01,111.15 165.56,111.18 166.14,111.28 166.76,111.43 167.40,111.64 168.06,111.91 168.73,112.23 169.42,112.61 170.11,113.03 170.81,113.51 171.49,114.02 172.17,114.57 172.83,115.16" fill="#e34e4e" clip-path="url(#cp3_6)"/>
<polygon points="193.58,113.77 194.08,114.30 194.53,114.87 194.93,115.47 195.28,116.11 195.58,116.76 195.82,117.43 196.00,118.11 196.13,118.80 196.19,119.50 196.19,120.19 196.14,120.87 196.02,121.54 195.85,122.19 195.61,122.82 195.33,123.41 194.98,123.98 194.59,124.51 194.15,125.00 193.66,125.44 193.13,125.83 192.56,126.18 191.97,126.46 191.34,126.70 190.69,126.87 190.02,126.99 189.34,127.04 188.65,127.04 187.95,126.98 187.26,126.85 186.58,126.67 185.91,126.43 185.26,126.13 184.62,125.78 184.02,125.38 183.45,124.93 182.92,124.43 182.42,123.90 181.97,123.33 181.57,122.73 181.22,122.09 180.92,121.44 180.68,120.77 180.50,120.09 180.37,119.40 180.31,118.70 180.31,118.01 180.36,117.33 180.48,116.66 180.65,116.01 180.89,115.38 181.17,114.79 181.52,114.22 181.91,113.69 182.35,113.20 182.84,112.76 183.37,112.37 183.94,112.02 184.53,111.74 185.16,111.50 185.81,111.33 186.48,111.21 187.16,111.16 187.85,111.16 188.55,111.22 189.24,111.35 189.92,111.53 190.59,111.77 191.24,112.07 191.88,112.42 192.48,112.82 193.05,113.27" fill="#fde6e2" clip-path="url(#cp3_7)"/>
<polygon points="210.08,115.37 210.68,116.00 211.24,116.65 211.77,117.32 212.26,118.00 212.70,118.69 213.09,119.38 213.43,120.07 213.72,120.76 213.95,121.43 214.13,122.08 214.24,122.71 214.30,123.32 214.29,123.89 214.22,124.42 214.10,124.92 213.91,125.37 213.67,125.77 213.37,126.12 213.02,126.42 212.62,126.66 212.17,126.85 211.67,126.97 211.14,127.04 210.57,127.05 209.96,126.99 209.33,126.88 208.68,126.70 208.01,126.47 207.32,126.18 206.63,125.84 205.94,125.45 205.25,125.01 204.57,124.52 203.90,123.99 203.25,123.43 202.62,122.83 202.02,122.20 201.46,121.55 200.93,120.88 200.44,120.20 200.00,119.51 199.61,118.82 199.27,118.13 198.98,117.44 198.75,116.77 198.57,116.12 198.46,115.49 198.40,114.88 198.41,114.31 198.48,113.78 198.60,113.28 198.79,112.83 199.03,112.43 199.33,112.08 199.68,111.78 200.08,111.54 200.53,111.35 201.03,111.23 201.56,111.16 202.13,111.15 202.74,111.21 203.37,111.32 204.02,111.50 204.69,111.73 205.38,112.02 206.07,112.36 206.76,112.75 207.45,113.19 208.13,113.68 208.80,114.21 209.45,114.77" fill="#eb6a60" clip-path="url(#cp3_8)"/>
<polygon points="228.43,115.12 229.01,115.74 229.56,116.38 230.07,117.04 230.54,117.72 230.96,118.41 231.33,119.10 231.66,119.79 231.92,120.48 232.13,121.16 232.28,121.82 232.37,122.46 232.40,123.07 232.37,123.66 232.28,124.21 232.13,124.72 231.92,125.19 231.66,125.61 231.33,125.98 230.96,126.31 230.54,126.57 230.07,126.78 229.56,126.93 229.01,127.02 228.43,127.05 227.81,127.02 227.17,126.93 226.51,126.78 225.83,126.57 225.14,126.31 224.45,125.98 223.76,125.61 223.07,125.19 222.39,124.72 221.73,124.21 221.09,123.66 220.48,123.07 219.89,122.46 219.34,121.82 218.83,121.16 218.36,120.48 217.94,119.79 217.57,119.10 217.24,118.41 216.98,117.72 216.77,117.04 216.62,116.38 216.53,115.74 216.50,115.12 216.53,114.54 216.62,113.99 216.77,113.48 216.98,113.01 217.24,112.59 217.57,112.22 217.94,111.89 218.36,111.63 218.83,111.42 219.34,111.27 219.89,111.18 220.48,111.15 221.09,111.18 221.73,111.27 222.39,111.42 223.07,111.63 223.76,111.89 224.45,112.22 225.14,112.59 225.83,113.01 226.51,113.48 227.17,113.99 227.81,114.54" fill="#f4907c" clip-path="url(#cp3_9)"/>
<polygon points="248.96,112.69 249.35,113.12 249.68,113.60 249.96,114.13 250.18,114.69 250.35,115.28 250.45,115.90 250.50,116.55 250.48,117.21 250.41,117.89 250.27,118.58 250.08,119.28 249.83,119.97 249.52,120.65 249.16,121.33 248.75,121.98 248.29,122.62 247.79,123.23 247.25,123.80 246.68,124.34 246.07,124.84 245.43,125.30 244.78,125.71 244.10,126.07 243.42,126.38 242.73,126.63 242.03,126.82 241.34,126.96 240.66,127.03 240.00,127.05 239.35,127.00 238.73,126.90 238.14,126.73 237.58,126.51 237.05,126.23 236.57,125.90 236.14,125.51 235.75,125.08 235.42,124.60 235.14,124.07 234.92,123.51 234.75,122.92 234.65,122.30 234.60,121.65 234.62,120.99 234.69,120.31 234.83,119.62 235.02,118.92 235.27,118.23 235.58,117.55 235.94,116.87 236.35,116.22 236.81,115.58 237.31,114.97 237.85,114.40 238.42,113.86 239.03,113.36 239.67,112.90 240.32,112.49 241.00,112.13 241.68,111.82 242.37,111.57 243.07,111.38 243.76,111.24 244.44,111.17 245.10,111.15 245.75,111.20 246.37,111.30 246.96,111.47 247.52,111.69 248.05,111.97 248.53,112.30" fill="#a8e2ec" clip-path="url(#cp3_10)"/>
<polygon points="266.76,112.99 267.18,113.46 267.55,113.97 267.87,114.52 268.13,115.10 268.34,115.72 268.48,116.36 268.57,117.02 268.60,117.69 268.57,118.38 268.47,119.07 268.32,119.77 268.11,120.46 267.84,121.13 267.52,121.79 267.15,122.44 266.72,123.05 266.25,123.64 265.74,124.19 265.19,124.70 264.60,125.17 263.99,125.60 263.34,125.97 262.68,126.29 262.01,126.56 261.32,126.77 260.62,126.92 259.93,127.02 259.24,127.05 258.57,127.02 257.91,126.93 257.27,126.79 256.65,126.58 256.07,126.32 255.52,126.00 255.01,125.63 254.54,125.21 254.12,124.74 253.75,124.23 253.43,123.68 253.17,123.10 252.96,122.48 252.82,121.84 252.73,121.18 252.70,120.51 252.73,119.82 252.83,119.13 252.98,118.43 253.19,117.74 253.46,117.07 253.78,116.41 254.15,115.76 254.58,115.15 255.05,114.56 255.56,114.01 256.11,113.50 256.70,113.03 257.31,112.60 257.96,112.23 258.62,111.91 259.29,111.64 259.98,111.43 260.68,111.28 261.37,111.18 262.06,111.15 262.73,111.18 263.39,111.27 264.03,111.41 264.65,111.62 265.23,111.88 265.78,112.20 266.29,112.57" fill="#cdf0f3" clip-path="url(#cp3_11)"/>
<polygon points="158.34,130.81 158.74,131.26 159.08,131.76 159.38,132.29 159.62,132.86 159.80,133.46 159.93,134.09 159.99,134.74 159.99,135.41 159.94,136.10 159.82,136.79 159.64,137.48 159.41,138.17 159.12,138.86 158.77,139.53 158.38,140.18 157.94,140.80 157.45,141.40 156.92,141.97 156.35,142.50 155.75,142.99 155.13,143.43 154.48,143.82 153.81,144.17 153.12,144.46 152.43,144.69 151.74,144.87 151.05,144.99 150.36,145.04 149.69,145.04 149.04,144.98 148.41,144.85 147.81,144.67 147.24,144.43 146.71,144.13 146.21,143.79 145.76,143.39 145.36,142.94 145.02,142.44 144.72,141.91 144.48,141.34 144.30,140.74 144.17,140.11 144.11,139.46 144.11,138.79 144.16,138.10 144.28,137.41 144.46,136.72 144.69,136.03 144.98,135.34 145.33,134.67 145.72,134.02 146.16,133.40 146.65,132.80 147.18,132.23 147.75,131.70 148.35,131.21 148.97,130.77 149.62,130.38 150.29,130.03 150.98,129.74 151.67,129.51 152.36,129.33 153.05,129.21 153.74,129.16 154.41,129.16 155.06,129.22 155.69,129.35 156.29,129.53 156.86,129.77 157.39,130.07 157.89,130.41" fill="#b8eaf0" clip-path="url(#cp4_5)"/>
<polygon points="175.18,132.07 175.70,132.63 176.17,133.22 176.60,133.84 176.98,134.48 177.31,135.15 177.58,135.82 177.80,136.51 177.96,137.21 178.06,137.90 178.10,138.59 178.08,139.26 178.00,139.92 177.86,140.56 177.66,141.17 177.40,141.75 177.09,142.29 176.72,142.80 176.31,143.26 175.85,143.67 175.34,144.04 174.80,144.35 174.22,144.61 173.61,144.81 172.97,144.95 172.31,145.03 171.64,145.05 170.95,145.01 170.26,144.91 169.56,144.75 168.87,144.53 168.20,144.26 167.53,143.93 166.89,143.55 166.27,143.12 165.68,142.65 165.12,142.13 164.60,141.57 164.13,140.98 163.70,140.36 163.32,139.72 162.99,139.05 162.72,138.38 162.50,137.69 162.34,136.99 162.24,136.30 162.20,135.61 162.22,134.94 162.30,134.28 162.44,133.64 162.64,133.03 162.90,132.45 163.21,131.91 163.58,131.40 163.99,130.94 164.45,130.53 164.96,130.16 165.50,129.85 166.08,129.59 166.69,129.39 167.33,129.25 167.99,129.17 168.66,129.15 169.35,129.19 170.04,129.29 170.74,129.45 171.43,129.67 172.10,129.94 172.77,130.27 173.41,130.65 174.03,131.08 174.62,131.55" fill="#fbd0c6" clip-path="url(#cp4_6)"/>
<polygon points="193.70,131.65 194.18,132.17 194.62,132.74 195.01,133.33 195.35,133.96 195.64,134.61 195.86,135.27 196.03,135.96 196.15,136.65 196.20,137.34 196.19,138.03 196.12,138.71 195.99,139.39 195.80,140.04 195.55,140.67 195.25,141.28 194.90,141.85 194.49,142.39 194.04,142.89 193.54,143.34 193.00,143.75 192.43,144.10 191.82,144.40 191.19,144.65 190.54,144.84 189.86,144.97 189.18,145.04 188.49,145.05 187.80,145.00 187.11,144.88 186.42,144.71 185.76,144.49 185.11,144.20 184.48,143.86 183.89,143.47 183.32,143.03 182.80,142.55 182.32,142.03 181.88,141.46 181.49,140.87 181.15,140.24 180.86,139.59 180.64,138.93 180.47,138.24 180.35,137.55 180.30,136.86 180.31,136.17 180.38,135.49 180.51,134.81 180.70,134.16 180.95,133.53 181.25,132.92 181.60,132.35 182.01,131.81 182.46,131.31 182.96,130.86 183.50,130.45 184.07,130.10 184.68,129.80 185.31,129.55 185.96,129.36 186.64,129.23 187.32,129.16 188.01,129.15 188.70,129.20 189.39,129.32 190.08,129.49 190.74,129.71 191.39,130.00 192.02,130.34 192.61,130.73 193.18,131.17" fill="#fef2f0" clip-path="url(#cp4_7)"/>
<polygon points="211.05,132.40 211.59,132.97 212.09,133.58 212.55,134.22 212.96,134.87 213.32,135.55 213.63,136.23 213.88,136.92 214.07,137.62 214.21,138.31 214.28,138.99 214.30,139.65 214.25,140.30 214.15,140.92 213.98,141.51 213.76,142.07 213.48,142.60 213.15,143.08 212.76,143.51 212.33,143.90 211.85,144.23 211.32,144.51 210.76,144.73 210.17,144.90 209.55,145.00 208.90,145.05 208.24,145.03 207.56,144.96 206.87,144.82 206.17,144.63 205.48,144.38 204.80,144.07 204.12,143.71 203.47,143.30 202.83,142.84 202.22,142.34 201.65,141.80 201.11,141.23 200.61,140.62 200.15,139.98 199.74,139.33 199.38,138.65 199.07,137.97 198.82,137.28 198.63,136.58 198.49,135.89 198.42,135.21 198.40,134.55 198.45,133.90 198.55,133.28 198.72,132.69 198.94,132.13 199.22,131.60 199.55,131.12 199.94,130.69 200.37,130.30 200.85,129.97 201.38,129.69 201.94,129.47 202.53,129.30 203.15,129.20 203.80,129.15 204.46,129.17 205.14,129.24 205.83,129.38 206.53,129.57 207.22,129.82 207.90,130.13 208.58,130.49 209.23,130.90 209.87,131.36 210.48,131.86" fill="#f9bcb0" clip-path="url(#cp4_8)"/>
<polygon points="228.22,133.33 228.82,133.95 229.38,134.60 229.90,135.27 230.39,135.95 230.83,136.64 231.22,137.33 231.55,138.03 231.84,138.71 232.07,139.38 232.24,140.04 232.35,140.67 232.40,141.28 232.39,141.85 232.32,142.39 232.19,142.88 232.00,143.34 231.75,143.74 231.45,144.10 231.09,144.40 230.69,144.65 230.23,144.84 229.74,144.97 229.20,145.04 228.63,145.05 228.02,145.00 227.39,144.89 226.73,144.72 226.06,144.49 225.38,144.20 224.68,143.87 223.99,143.48 223.30,143.04 222.62,142.55 221.95,142.03 221.30,141.47 220.68,140.87 220.08,140.25 219.52,139.60 219.00,138.93 218.51,138.25 218.07,137.56 217.68,136.87 217.35,136.17 217.06,135.49 216.83,134.82 216.66,134.16 216.55,133.53 216.50,132.92 216.51,132.35 216.58,131.81 216.71,131.32 216.90,130.86 217.15,130.46 217.45,130.10 217.81,129.80 218.21,129.55 218.67,129.36 219.16,129.23 219.70,129.16 220.27,129.15 220.88,129.20 221.51,129.31 222.17,129.48 222.84,129.71 223.52,130.00 224.22,130.33 224.91,130.72 225.60,131.16 226.28,131.65 226.95,132.17 227.60,132.73" fill="#f58a78" clip-path="url(#cp4_9)"/>
<polygon points="247.97,131.68 248.46,132.21 248.90,132.77 249.29,133.37 249.63,133.99 249.92,134.64 250.15,135.31 250.33,135.99 250.44,136.68 250.50,137.38 250.49,138.07 250.42,138.75 250.30,139.43 250.11,140.08 249.87,140.71 249.57,141.31 249.22,141.89 248.82,142.42 248.36,142.91 247.87,143.37 247.34,143.77 246.76,144.12 246.16,144.42 245.53,144.66 244.88,144.85 244.20,144.97 243.52,145.04 242.83,145.05 242.13,144.99 241.44,144.88 240.76,144.70 240.09,144.47 239.44,144.18 238.82,143.84 238.22,143.45 237.66,143.01 237.13,142.52 236.64,141.99 236.20,141.43 235.81,140.83 235.47,140.21 235.18,139.56 234.95,138.89 234.77,138.21 234.66,137.52 234.60,136.82 234.61,136.13 234.68,135.45 234.80,134.77 234.99,134.12 235.23,133.49 235.53,132.89 235.88,132.31 236.28,131.78 236.74,131.29 237.23,130.83 237.76,130.43 238.34,130.08 238.94,129.78 239.57,129.54 240.22,129.35 240.90,129.23 241.58,129.16 242.27,129.15 242.97,129.21 243.66,129.32 244.34,129.50 245.01,129.73 245.66,130.02 246.28,130.36 246.88,130.75 247.44,131.19" fill="#fdeded" clip-path="url(#cp4_10)"/>
<polygon points="265.89,131.86 266.39,132.40 266.85,132.97 267.26,133.58 267.62,134.22 267.93,134.87 268.18,135.55 268.37,136.23 268.51,136.92 268.58,137.62 268.60,138.31 268.55,138.99 268.45,139.65 268.28,140.30 268.06,140.92 267.78,141.52 267.45,142.07 267.06,142.60 266.63,143.08 266.15,143.51 265.62,143.90 265.07,144.23 264.47,144.51 263.85,144.73 263.20,144.90 262.54,145.00 261.86,145.05 261.17,145.03 260.47,144.96 259.78,144.82 259.10,144.63 258.42,144.38 257.77,144.07 257.13,143.71 256.52,143.30 255.95,142.84 255.41,142.34 254.91,141.80 254.45,141.23 254.04,140.62 253.68,139.98 253.37,139.33 253.12,138.65 252.93,137.97 252.79,137.28 252.72,136.58 252.70,135.89 252.75,135.21 252.85,134.55 253.02,133.90 253.24,133.28 253.52,132.68 253.85,132.13 254.24,131.60 254.67,131.12 255.15,130.69 255.68,130.30 256.23,129.97 256.83,129.69 257.45,129.47 258.10,129.30 258.76,129.20 259.44,129.15 260.13,129.17 260.83,129.24 261.52,129.38 262.20,129.57 262.88,129.82 263.53,130.13 264.17,130.49 264.78,130.90 265.35,131.36" fill="#fbdedb" clip-path="url(#cp4_11)"/>
<polygon points="174.95,150.30 175.49,150.87 175.98,151.47 176.43,152.10 176.83,152.75 177.18,153.42 177.48,154.11 177.72,154.80 177.90,155.49 178.03,156.18 178.09,156.87 178.09,157.53 178.04,158.18 177.92,158.81 177.75,159.41 177.51,159.98 177.22,160.50 176.88,160.99 176.49,161.44 176.04,161.83 175.55,162.17 175.03,162.46 174.46,162.70 173.86,162.87 173.23,162.99 172.58,163.04 171.92,163.04 171.23,162.98 170.54,162.85 169.85,162.67 169.16,162.43 168.47,162.13 167.80,161.78 167.15,161.38 166.52,160.93 165.92,160.44 165.35,159.90 164.81,159.33 164.32,158.73 163.87,158.10 163.47,157.45 163.12,156.78 162.82,156.09 162.58,155.40 162.40,154.71 162.27,154.02 162.21,153.33 162.21,152.67 162.26,152.02 162.38,151.39 162.55,150.79 162.79,150.22 163.08,149.70 163.42,149.21 163.81,148.76 164.26,148.37 164.75,148.03 165.27,147.74 165.84,147.50 166.44,147.33 167.07,147.21 167.72,147.16 168.38,147.16 169.07,147.22 169.76,147.35 170.45,147.53 171.14,147.77 171.83,148.07 172.50,148.42 173.15,148.82 173.78,149.27 174.38,149.76" fill="#fac2b8" clip-path="url(#cp5_6)"/>
<polygon points="193.87,149.48 194.34,149.99 194.76,150.54 195.13,151.12 195.46,151.74 195.72,152.38 195.93,153.04 196.08,153.72 196.17,154.41 196.20,155.10 196.17,155.79 196.08,156.48 195.93,157.16 195.72,157.82 195.46,158.46 195.13,159.07 194.76,159.66 194.34,160.21 193.87,160.72 193.36,161.19 192.81,161.61 192.22,161.98 191.61,162.31 190.97,162.57 190.31,162.78 189.63,162.93 188.94,163.02 188.25,163.05 187.56,163.02 186.87,162.93 186.19,162.78 185.53,162.57 184.89,162.31 184.28,161.98 183.69,161.61 183.14,161.19 182.63,160.72 182.16,160.21 181.74,159.66 181.37,159.07 181.04,158.46 180.78,157.82 180.57,157.16 180.42,156.48 180.33,155.79 180.30,155.10 180.33,154.41 180.42,153.72 180.57,153.04 180.78,152.38 181.04,151.74 181.37,151.12 181.74,150.54 182.16,149.99 182.63,149.48 183.14,149.01 183.69,148.59 184.28,148.22 184.89,147.89 185.53,147.63 186.19,147.42 186.87,147.27 187.56,147.18 188.25,147.15 188.94,147.18 189.63,147.27 190.31,147.42 190.97,147.63 191.61,147.89 192.22,148.22 192.81,148.59 193.36,149.01" fill="#fefefe" clip-path="url(#cp5_7)"/>
<polygon points="209.99,151.46 210.60,152.09 211.16,152.74 211.70,153.41 212.19,154.09 212.64,154.78 213.04,155.48 213.39,156.17 213.68,156.85 213.92,157.52 214.10,158.17 214.23,158.80 214.29,159.40 214.29,159.96 214.24,160.49 214.12,160.98 213.94,161.43 213.71,161.82 213.42,162.17 213.07,162.46 212.68,162.69 212.23,162.87 211.74,162.99 211.21,163.04 210.65,163.04 210.05,162.98 209.42,162.85 208.77,162.67 208.10,162.43 207.42,162.14 206.73,161.79 206.03,161.39 205.34,160.94 204.66,160.45 203.99,159.91 203.34,159.35 202.71,158.74 202.10,158.11 201.54,157.46 201.00,156.79 200.51,156.11 200.06,155.42 199.66,154.72 199.31,154.03 199.02,153.35 198.78,152.68 198.60,152.03 198.47,151.40 198.41,150.80 198.41,150.24 198.46,149.71 198.58,149.22 198.76,148.77 198.99,148.38 199.28,148.03 199.63,147.74 200.02,147.51 200.47,147.33 200.96,147.21 201.49,147.16 202.05,147.16 202.65,147.22 203.28,147.35 203.93,147.53 204.60,147.77 205.28,148.06 205.97,148.41 206.67,148.81 207.36,149.26 208.04,149.75 208.71,150.29 209.36,150.85" fill="#ea6460" clip-path="url(#cp5_8)"/>
<polygon points="229.25,150.30 229.79,150.87 230.28,151.47 230.73,152.10 231.13,152.75 231.48,153.42 231.78,154.11 232.02,154.80 232.20,155.49 232.33,156.18 232.39,156.87 232.39,157.53 232.34,158.18 232.22,158.81 232.05,159.41 231.81,159.98 231.52,160.50 231.18,160.99 230.79,161.44 230.34,161.83 229.85,162.17 229.33,162.46 228.76,162.70 228.16,162.87 227.53,162.99 226.88,163.04 226.22,163.04 225.53,162.98 224.84,162.85 224.15,162.67 223.46,162.43 222.77,162.13 222.10,161.78 221.45,161.38 220.82,160.93 220.22,160.44 219.65,159.90 219.11,159.33 218.62,158.73 218.17,158.10 217.77,157.45 217.42,156.78 217.12,156.09 216.88,155.40 216.70,154.71 216.57,154.02 216.51,153.33 216.51,152.67 216.56,152.02 216.68,151.39 216.85,150.79 217.09,150.22 217.38,149.70 217.72,149.21 218.11,148.76 218.56,148.37 219.05,148.03 219.57,147.74 220.14,147.50 220.74,147.33 221.37,147.21 222.02,147.16 222.68,147.16 223.37,147.22 224.06,147.35 224.75,147.53 225.44,147.77 226.13,148.07 226.80,148.42 227.45,148.82 228.08,149.27 228.68,149.76" fill="#fbc3b6" clip-path="url(#cp5_9)"/>
<polygon points="248.96,148.69 249.35,149.12 249.68,149.60 249.96,150.13 250.18,150.69 250.35,151.28 250.45,151.90 250.50,152.55 250.48,153.21 250.41,153.89 250.27,154.58 250.08,155.28 249.83,155.97 249.52,156.65 249.16,157.33 248.75,157.98 248.29,158.62 247.79,159.23 247.25,159.80 246.68,160.34 246.07,160.84 245.43,161.30 244.78,161.71 244.10,162.07 243.42,162.38 242.73,162.63 242.03,162.82 241.34,162.96 240.66,163.03 240.00,163.05 239.35,163.00 238.73,162.90 238.14,162.73 237.58,162.51 237.05,162.23 236.57,161.90 236.14,161.51 235.75,161.08 235.42,160.60 235.14,160.07 234.92,159.51 234.75,158.92 234.65,158.30 234.60,157.65 234.62,156.99 234.69,156.31 234.83,155.62 235.02,154.92 235.27,154.23 235.58,153.55 235.94,152.87 236.35,152.22 236.81,151.58 237.31,150.97 237.85,150.40 238.42,149.86 239.03,149.36 239.67,148.90 240.32,148.49 241.00,148.13 241.68,147.82 242.37,147.57 243.07,147.38 243.76,147.24 244.44,147.17 245.10,147.15 245.75,147.20 246.37,147.30 246.96,147.47 247.52,147.69 248.05,147.97 248.53,148.30" fill="#aee5ee" clip-path="url(#cp5_10)"/>
<polygon points="266.60,149.15 267.04,149.63 267.42,150.16 267.76,150.72 268.04,151.31 268.27,151.94 268.44,152.58 268.55,153.25 268.60,153.93 268.59,154.62 268.51,155.32 268.38,156.01 268.19,156.69 267.94,157.37 267.64,158.02 267.28,158.65 266.88,159.26 266.42,159.83 265.92,160.37 265.38,160.87 264.81,161.33 264.20,161.73 263.57,162.09 262.92,162.39 262.24,162.64 261.56,162.83 260.87,162.96 260.17,163.04 259.48,163.05 258.80,163.00 258.13,162.89 257.49,162.72 256.86,162.49 256.27,162.21 255.71,161.87 255.18,161.49 254.70,161.05 254.26,160.57 253.88,160.04 253.54,159.48 253.26,158.89 253.03,158.26 252.86,157.62 252.75,156.95 252.70,156.27 252.71,155.58 252.79,154.88 252.92,154.19 253.11,153.51 253.36,152.83 253.66,152.18 254.02,151.55 254.42,150.94 254.88,150.37 255.38,149.83 255.92,149.33 256.49,148.87 257.10,148.47 257.73,148.11 258.38,147.81 259.06,147.56 259.74,147.37 260.43,147.24 261.13,147.16 261.82,147.15 262.50,147.20 263.17,147.31 263.81,147.48 264.44,147.71 265.03,147.99 265.59,148.33 266.12,148.71" fill="#ddf3f8" clip-path="url(#cp5_11)"/>
<polygon points="195.62,165.73 195.85,166.01 196.03,166.36 196.14,166.75 196.20,167.19 196.19,167.68 196.12,168.20 196.00,168.77 195.81,169.36 195.57,169.99 195.27,170.64 194.92,171.31 194.51,171.99 194.06,172.68 193.57,173.37 193.03,174.07 192.46,174.75 191.86,175.42 191.22,176.07 190.57,176.71 189.90,177.31 189.22,177.88 188.52,178.42 187.83,178.91 187.14,179.36 186.46,179.77 185.79,180.12 185.14,180.42 184.51,180.66 183.92,180.85 183.35,180.97 182.83,181.04 182.34,181.05 181.90,180.99 181.51,180.88 181.16,180.70 180.88,180.47 180.65,180.19 180.47,179.84 180.36,179.45 180.30,179.01 180.31,178.52 180.38,178.00 180.50,177.43 180.69,176.84 180.93,176.21 181.23,175.56 181.58,174.89 181.99,174.21 182.44,173.52 182.93,172.83 183.47,172.13 184.04,171.45 184.64,170.78 185.28,170.13 185.93,169.49 186.60,168.89 187.28,168.32 187.98,167.78 188.67,167.29 189.36,166.84 190.04,166.43 190.71,166.08 191.36,165.78 191.99,165.54 192.58,165.35 193.15,165.23 193.67,165.16 194.16,165.15 194.60,165.21 194.99,165.32 195.34,165.50" fill="#2e86e8" clip-path="url(#cp6_7)"/>
<polygon points="214.06,165.39 214.20,165.59 214.28,165.85 214.30,166.16 214.26,166.52 214.16,166.94 214.00,167.40 213.78,167.90 213.51,168.45 213.18,169.03 212.80,169.64 212.37,170.27 211.89,170.93 211.37,171.61 210.82,172.29 210.23,172.99 209.61,173.68 208.96,174.37 208.30,175.05 207.62,175.71 206.93,176.36 206.24,176.98 205.54,177.57 204.86,178.12 204.18,178.64 203.52,179.12 202.89,179.55 202.28,179.93 201.70,180.26 201.15,180.53 200.65,180.75 200.19,180.91 199.77,181.01 199.41,181.05 199.10,181.03 198.84,180.95 198.64,180.81 198.50,180.61 198.42,180.35 198.40,180.04 198.44,179.68 198.54,179.26 198.70,178.80 198.92,178.30 199.19,177.75 199.52,177.17 199.90,176.56 200.33,175.93 200.81,175.27 201.33,174.59 201.88,173.91 202.47,173.21 203.09,172.52 203.74,171.83 204.40,171.15 205.08,170.49 205.77,169.84 206.46,169.22 207.16,168.63 207.84,168.08 208.52,167.56 209.18,167.08 209.81,166.65 210.42,166.27 211.00,165.94 211.55,165.67 212.05,165.45 212.51,165.29 212.93,165.19 213.29,165.15 213.60,165.17 213.86,165.25" fill="#0a32c8" clip-path="url(#cp6_8)"/>
<polygon points="231.15,166.40 231.50,166.80 231.79,167.25 232.03,167.74 232.21,168.27 232.33,168.84 232.39,169.44 232.39,170.07 232.33,170.72 232.21,171.39 232.04,172.07 231.80,172.76 231.51,173.46 231.16,174.15 230.76,174.83 230.32,175.50 229.83,176.15 229.30,176.78 228.73,177.38 228.13,177.95 227.50,178.48 226.85,178.97 226.18,179.41 225.50,179.81 224.81,180.16 224.11,180.45 223.42,180.69 222.74,180.86 222.07,180.98 221.42,181.04 220.79,181.04 220.19,180.98 219.62,180.86 219.09,180.68 218.60,180.44 218.15,180.15 217.75,179.80 217.40,179.40 217.11,178.95 216.87,178.46 216.69,177.93 216.57,177.36 216.51,176.76 216.51,176.13 216.57,175.48 216.69,174.81 216.86,174.13 217.10,173.44 217.39,172.74 217.74,172.05 218.14,171.37 218.58,170.70 219.07,170.05 219.60,169.42 220.17,168.82 220.77,168.25 221.40,167.72 222.05,167.23 222.72,166.79 223.40,166.39 224.09,166.04 224.79,165.75 225.48,165.51 226.16,165.34 226.83,165.22 227.48,165.16 228.11,165.16 228.71,165.22 229.28,165.34 229.81,165.52 230.30,165.76 230.75,166.05" fill="#8bd9e6" clip-path="url(#cp6_9)"/>
<polygon points="248.00,167.65 248.48,168.17 248.92,168.74 249.31,169.33 249.65,169.96 249.94,170.61 250.16,171.27 250.33,171.96 250.45,172.65 250.50,173.34 250.49,174.03 250.42,174.71 250.29,175.39 250.10,176.04 249.85,176.67 249.55,177.28 249.20,177.85 248.79,178.39 248.34,178.89 247.84,179.34 247.30,179.75 246.73,180.10 246.12,180.40 245.49,180.65 244.84,180.84 244.16,180.97 243.48,181.04 242.79,181.05 242.10,181.00 241.41,180.88 240.72,180.71 240.06,180.49 239.41,180.20 238.78,179.86 238.19,179.47 237.62,179.03 237.10,178.55 236.62,178.03 236.18,177.46 235.79,176.87 235.45,176.24 235.16,175.59 234.94,174.93 234.77,174.24 234.65,173.55 234.60,172.86 234.61,172.17 234.68,171.49 234.81,170.81 235.00,170.16 235.25,169.53 235.55,168.92 235.90,168.35 236.31,167.81 236.76,167.31 237.26,166.86 237.80,166.45 238.37,166.10 238.98,165.80 239.61,165.55 240.26,165.36 240.94,165.23 241.62,165.16 242.31,165.15 243.00,165.20 243.69,165.32 244.38,165.49 245.04,165.71 245.69,166.00 246.32,166.34 246.91,166.73 247.48,167.17" fill="#fdf0ee" clip-path="url(#cp6_10)"/>
<polygon points="266.36,167.39 266.82,167.90 267.23,168.44 267.59,169.02 267.90,169.63 268.16,170.27 268.36,170.93 268.50,171.60 268.58,172.29 268.60,172.98 268.56,173.67 268.46,174.36 268.30,175.04 268.08,175.71 267.80,176.35 267.47,176.97 267.09,177.56 266.66,178.12 266.19,178.64 265.67,179.11 265.11,179.54 264.52,179.92 263.90,180.25 263.26,180.53 262.59,180.75 261.91,180.91 261.22,181.01 260.53,181.05 259.84,181.03 259.15,180.95 258.48,180.81 257.82,180.61 257.18,180.35 256.57,180.04 255.99,179.68 255.45,179.27 254.94,178.81 254.48,178.30 254.07,177.76 253.71,177.18 253.40,176.57 253.14,175.93 252.94,175.27 252.80,174.60 252.72,173.91 252.70,173.22 252.74,172.53 252.84,171.84 253.00,171.16 253.22,170.49 253.50,169.85 253.83,169.23 254.21,168.64 254.64,168.08 255.11,167.56 255.63,167.09 256.19,166.66 256.78,166.28 257.40,165.95 258.04,165.67 258.71,165.45 259.39,165.29 260.08,165.19 260.77,165.15 261.46,165.17 262.15,165.25 262.82,165.39 263.48,165.59 264.12,165.85 264.73,166.16 265.31,166.52 265.85,166.93" fill="#f8fafd" clip-path="url(#cp6_11)"/>
<polygon points="213.79,183.66 214.00,183.94 214.16,184.26 214.26,184.64 214.30,185.07 214.28,185.55 214.20,186.07 214.05,186.62 213.85,187.21 213.60,187.83 213.28,188.47 212.92,189.14 212.50,189.82 212.04,190.50 211.53,191.20 210.99,191.89 210.41,192.58 209.80,193.25 209.16,193.91 208.50,194.55 207.83,195.16 207.14,195.74 206.45,196.28 205.75,196.79 205.07,197.25 204.39,197.67 203.72,198.03 203.08,198.35 202.46,198.60 201.87,198.80 201.32,198.95 200.80,199.03 200.32,199.05 199.89,199.01 199.51,198.91 199.19,198.75 198.91,198.54 198.70,198.26 198.54,197.94 198.44,197.56 198.40,197.13 198.42,196.65 198.50,196.13 198.65,195.58 198.85,194.99 199.10,194.37 199.42,193.73 199.78,193.06 200.20,192.38 200.66,191.70 201.17,191.00 201.71,190.31 202.29,189.62 202.90,188.95 203.54,188.29 204.20,187.65 204.87,187.04 205.56,186.46 206.25,185.92 206.95,185.41 207.63,184.95 208.31,184.53 208.98,184.17 209.62,183.85 210.24,183.60 210.83,183.40 211.38,183.25 211.90,183.17 212.38,183.15 212.81,183.19 213.19,183.29 213.51,183.45" fill="#2e84e6" clip-path="url(#cp7_8)"/>
<polygon points="230.43,185.12 230.86,185.60 231.25,186.13 231.58,186.68 231.86,187.28 232.08,187.90 232.25,188.55 232.35,189.21 232.40,189.89 232.38,190.58 232.31,191.28 232.17,191.97 231.98,192.65 231.73,193.33 231.42,193.98 231.06,194.62 230.65,195.23 230.19,195.80 229.69,196.34 229.15,196.84 228.58,197.30 227.97,197.71 227.33,198.07 226.68,198.38 226.00,198.63 225.32,198.82 224.63,198.96 223.93,199.03 223.24,199.05 222.56,199.00 221.90,198.90 221.25,198.73 220.63,198.51 220.03,198.23 219.48,197.90 218.95,197.51 218.47,197.08 218.04,196.60 217.65,196.07 217.32,195.52 217.04,194.92 216.82,194.30 216.65,193.65 216.55,192.99 216.50,192.31 216.52,191.62 216.59,190.92 216.73,190.23 216.92,189.55 217.17,188.87 217.48,188.22 217.84,187.58 218.25,186.97 218.71,186.40 219.21,185.86 219.75,185.36 220.32,184.90 220.93,184.49 221.57,184.13 222.22,183.82 222.90,183.57 223.58,183.38 224.27,183.24 224.97,183.17 225.66,183.15 226.34,183.20 227.00,183.30 227.65,183.47 228.27,183.69 228.87,183.97 229.42,184.30 229.95,184.69" fill="#dcf2f7" clip-path="url(#cp7_9)"/>
<polygon points="248.89,184.76 249.28,185.21 249.62,185.70 249.91,186.22 250.15,186.79 250.32,187.39 250.44,188.02 250.49,188.67 250.49,189.33 250.43,190.02 250.30,190.71 250.12,191.40 249.88,192.09 249.58,192.78 249.23,193.45 248.83,194.10 248.38,194.73 247.89,195.33 247.35,195.90 246.78,196.44 246.18,196.93 245.55,197.38 244.90,197.78 244.23,198.13 243.54,198.43 242.85,198.67 242.16,198.85 241.47,198.98 240.78,199.04 240.12,199.04 239.47,198.99 238.84,198.87 238.24,198.70 237.67,198.46 237.15,198.17 236.66,197.83 236.21,197.44 235.82,196.99 235.48,196.50 235.19,195.98 234.95,195.41 234.78,194.81 234.66,194.18 234.61,193.53 234.61,192.87 234.67,192.18 234.80,191.49 234.98,190.80 235.22,190.11 235.52,189.42 235.87,188.75 236.27,188.10 236.72,187.47 237.21,186.87 237.75,186.30 238.32,185.76 238.92,185.27 239.55,184.82 240.20,184.42 240.87,184.07 241.56,183.77 242.25,183.53 242.94,183.35 243.63,183.22 244.32,183.16 244.98,183.16 245.63,183.21 246.26,183.33 246.86,183.50 247.43,183.74 247.95,184.03 248.44,184.37" fill="#b6ebf0" clip-path="url(#cp7_10)"/>
<polygon points="266.96,184.79 267.36,185.24 267.70,185.73 268.00,186.26 268.23,186.82 268.41,187.42 268.53,188.05 268.59,188.70 268.59,189.37 268.53,190.06 268.41,190.75 268.23,191.44 267.99,192.13 267.70,192.82 267.35,193.49 266.95,194.14 266.51,194.77 266.02,195.37 265.49,195.94 264.92,196.47 264.32,196.96 263.69,197.40 263.04,197.80 262.37,198.15 261.68,198.44 260.99,198.68 260.30,198.86 259.61,198.98 258.92,199.04 258.25,199.04 257.60,198.98 256.97,198.86 256.37,198.68 255.81,198.45 255.28,198.15 254.79,197.81 254.34,197.41 253.94,196.96 253.60,196.47 253.30,195.94 253.07,195.38 252.89,194.78 252.77,194.15 252.71,193.50 252.71,192.83 252.77,192.14 252.89,191.45 253.07,190.76 253.31,190.07 253.60,189.38 253.95,188.71 254.35,188.06 254.79,187.43 255.28,186.83 255.81,186.26 256.38,185.73 256.98,185.24 257.61,184.80 258.26,184.40 258.93,184.05 259.62,183.76 260.31,183.52 261.00,183.34 261.69,183.22 262.38,183.16 263.05,183.16 263.70,183.22 264.33,183.34 264.93,183.52 265.49,183.75 266.02,184.05 266.51,184.39" fill="#bcebf0" clip-path="url(#cp7_11)"/>
<polygon points="231.05,202.50 231.41,202.91 231.72,203.37 231.97,203.87 232.17,204.41 232.31,204.99 232.38,205.59 232.40,206.23 232.35,206.89 232.25,207.56 232.09,208.25 231.86,208.94 231.59,209.63 231.25,210.32 230.87,211.00 230.43,211.67 229.96,212.31 229.44,212.93 228.88,213.53 228.28,214.09 227.66,214.61 227.02,215.08 226.35,215.52 225.67,215.90 224.98,216.24 224.29,216.51 223.60,216.74 222.91,216.90 222.24,217.00 221.58,217.05 220.94,217.03 220.34,216.96 219.76,216.82 219.22,216.62 218.72,216.37 218.26,216.06 217.85,215.70 217.49,215.29 217.18,214.83 216.93,214.33 216.73,213.79 216.59,213.21 216.52,212.61 216.50,211.97 216.55,211.31 216.65,210.64 216.81,209.95 217.04,209.26 217.31,208.57 217.65,207.88 218.03,207.20 218.47,206.53 218.94,205.89 219.46,205.27 220.02,204.67 220.62,204.11 221.24,203.59 221.88,203.12 222.55,202.68 223.23,202.30 223.92,201.96 224.61,201.69 225.30,201.46 225.99,201.30 226.66,201.20 227.32,201.15 227.96,201.17 228.56,201.24 229.14,201.38 229.68,201.58 230.18,201.83 230.64,202.14" fill="#9edfea" clip-path="url(#cp8_9)"/>
<polygon points="247.88,203.77 248.38,204.30 248.83,204.87 249.23,205.47 249.58,206.11 249.88,206.76 250.12,207.43 250.30,208.11 250.43,208.80 250.49,209.50 250.49,210.19 250.44,210.87 250.32,211.54 250.15,212.19 249.91,212.82 249.63,213.41 249.28,213.98 248.89,214.51 248.45,215.00 247.96,215.44 247.43,215.83 246.86,216.18 246.27,216.46 245.64,216.70 244.99,216.87 244.32,216.99 243.64,217.04 242.95,217.04 242.25,216.98 241.56,216.85 240.88,216.67 240.21,216.43 239.56,216.13 238.92,215.78 238.32,215.38 237.75,214.93 237.22,214.43 236.72,213.90 236.27,213.33 235.87,212.73 235.52,212.09 235.22,211.44 234.98,210.77 234.80,210.09 234.67,209.40 234.61,208.70 234.61,208.01 234.66,207.33 234.78,206.66 234.95,206.01 235.19,205.38 235.47,204.79 235.82,204.22 236.21,203.69 236.65,203.20 237.14,202.76 237.67,202.37 238.24,202.02 238.83,201.74 239.46,201.50 240.11,201.33 240.78,201.21 241.46,201.16 242.15,201.16 242.85,201.22 243.54,201.35 244.22,201.53 244.89,201.77 245.54,202.07 246.18,202.42 246.78,202.82 247.35,203.27" fill="#fde7e6" clip-path="url(#cp8_10)"/>
<polygon points="266.36,203.39 266.82,203.90 267.23,204.44 267.59,205.02 267.90,205.63 268.16,206.27 268.36,206.93 268.50,207.60 268.58,208.29 268.60,208.98 268.56,209.67 268.46,210.36 268.30,211.04 268.08,211.71 267.80,212.35 267.47,212.97 267.09,213.56 266.66,214.12 266.19,214.64 265.67,215.11 265.11,215.54 264.52,215.92 263.90,216.25 263.26,216.53 262.59,216.75 261.91,216.91 261.22,217.01 260.53,217.05 259.84,217.03 259.15,216.95 258.48,216.81 257.82,216.61 257.18,216.35 256.57,216.04 255.99,215.68 255.45,215.27 254.94,214.81 254.48,214.30 254.07,213.76 253.71,213.18 253.40,212.57 253.14,211.93 252.94,211.27 252.80,210.60 252.72,209.91 252.70,209.22 252.74,208.53 252.84,207.84 253.00,207.16 253.22,206.49 253.50,205.85 253.83,205.23 254.21,204.64 254.64,204.08 255.11,203.56 255.63,203.09 256.19,202.66 256.78,202.28 257.40,201.95 258.04,201.67 258.71,201.45 259.39,201.29 260.08,201.19 260.77,201.15 261.46,201.17 262.15,201.25 262.82,201.39 263.48,201.59 264.12,201.85 264.73,202.16 265.31,202.52 265.85,202.93" fill="#fafcfe" clip-path="url(#cp8_11)"/>
<polygon points="248.89,220.76 249.28,221.21 249.62,221.70 249.91,222.22 250.15,222.79 250.32,223.39 250.44,224.02 250.49,224.67 250.49,225.33 250.43,226.02 250.30,226.71 250.12,227.40 249.88,228.09 249.58,228.78 249.23,229.45 248.83,230.10 248.38,230.73 247.89,231.33 247.35,231.90 246.78,232.44 246.18,232.93 245.55,233.38 244.90,233.78 244.23,234.13 243.54,234.43 242.85,234.67 242.16,234.85 241.47,234.98 240.78,235.04 240.12,235.04 239.47,234.99 238.84,234.87 238.24,234.70 237.67,234.46 237.15,234.17 236.66,233.83 236.21,233.44 235.82,232.99 235.48,232.50 235.19,231.98 234.95,231.41 234.78,230.81 234.66,230.18 234.61,229.53 234.61,228.87 234.67,228.18 234.80,227.49 234.98,226.80 235.22,226.11 235.52,225.42 235.87,224.75 236.27,224.10 236.72,223.47 237.21,222.87 237.75,222.30 238.32,221.76 238.92,221.27 239.55,220.82 240.20,220.42 240.87,220.07 241.56,219.77 242.25,219.53 242.94,219.35 243.63,219.22 244.32,219.16 244.98,219.16 245.63,219.21 246.26,219.33 246.86,219.50 247.43,219.74 247.95,220.03 248.44,220.37" fill="#b8eaf0" clip-path="url(#cp9_10)"/>
<polygon points="267.30,220.45 267.66,220.85 267.96,221.31 268.20,221.80 268.39,222.34 268.52,222.91 268.59,223.52 268.60,224.15 268.54,224.80 268.43,225.48 268.26,226.16 268.03,226.85 267.75,227.55 267.41,228.24 267.02,228.92 266.58,229.58 266.09,230.23 265.57,230.86 265.00,231.45 264.41,232.02 263.78,232.54 263.13,233.03 262.47,233.47 261.79,233.86 261.10,234.20 260.40,234.48 259.71,234.71 259.03,234.88 258.35,234.99 257.70,235.05 257.07,235.04 256.46,234.97 255.89,234.84 255.35,234.65 254.86,234.41 254.40,234.11 254.00,233.75 253.64,233.35 253.34,232.89 253.10,232.40 252.91,231.86 252.78,231.29 252.71,230.68 252.70,230.05 252.76,229.40 252.87,228.72 253.04,228.04 253.27,227.35 253.55,226.65 253.89,225.96 254.28,225.28 254.72,224.62 255.21,223.97 255.73,223.34 256.30,222.75 256.89,222.18 257.52,221.66 258.17,221.17 258.83,220.73 259.51,220.34 260.20,220.00 260.90,219.72 261.59,219.49 262.27,219.32 262.95,219.21 263.60,219.15 264.23,219.16 264.84,219.23 265.41,219.36 265.95,219.55 266.44,219.79 266.90,220.09" fill="#94dce8" clip-path="url(#cp9_11)"/>
<polygon points="268.50,237.25 268.58,237.39 268.60,237.59 268.56,237.84 268.46,238.15 268.30,238.52 268.08,238.93 267.80,239.39 267.47,239.89 267.09,240.44 266.66,241.02 266.18,241.63 265.66,242.26 265.11,242.92 264.52,243.60 263.90,244.28 263.25,244.97 262.59,245.67 261.91,246.36 261.22,247.04 260.52,247.70 259.83,248.35 259.15,248.97 258.47,249.56 257.81,250.11 257.18,250.63 256.57,251.11 255.99,251.54 255.44,251.92 254.94,252.25 254.48,252.53 254.07,252.75 253.70,252.91 253.39,253.01 253.14,253.05 252.94,253.03 252.80,252.95 252.72,252.81 252.70,252.61 252.74,252.36 252.84,252.05 253.00,251.68 253.22,251.27 253.50,250.81 253.83,250.31 254.21,249.76 254.64,249.18 255.12,248.57 255.64,247.94 256.19,247.28 256.78,246.60 257.40,245.92 258.05,245.23 258.71,244.53 259.39,243.84 260.08,243.16 260.78,242.50 261.47,241.85 262.15,241.23 262.83,240.64 263.49,240.09 264.12,239.57 264.73,239.09 265.31,238.66 265.86,238.28 266.36,237.95 266.82,237.67 267.23,237.45 267.60,237.29 267.91,237.19 268.16,237.15 268.36,237.17" fill="#0a1ea8" clip-path="url(#cp10_11)"/>
<line x1="53.70" y1="72.90" x2="69.40" y2="57.30" stroke="#3444b0" stroke-width="1.0"/>
<line x1="71.80" y1="90.90" x2="87.50" y2="75.30" stroke="#3444b0" stroke-width="1.0"/>
<line x1="89.90" y1="108.90" x2="105.60" y2="93.30" stroke="#3444b0" stroke-width="1.0"/>
<line x1="108.00" y1="126.90" x2="123.70" y2="111.30" stroke="#3444b0" stroke-width="1.0"/>
<line x1="126.10" y1="144.90" x2="141.80" y2="129.30" stroke="#3444b0" stroke-width="1.0"/>
<line x1="144.20" y1="162.90" x2="159.90" y2="147.30" stroke="#3444b0" stroke-width="1.0"/>
<line x1="162.30" y1="180.90" x2="178.00" y2="165.30" stroke="#3444b0" stroke-width="1.0"/>
<line x1="180.40" y1="198.90" x2="196.10" y2="183.30" stroke="#3444b0" stroke-width="1.0"/>
<line x1="198.50" y1="216.90" x2="214.20" y2="201.30" stroke="#3444b0" stroke-width="1.0"/>
<line x1="216.60" y1="234.90" x2="232.30" y2="219.30" stroke="#3444b0" stroke-width="1.0"/>
<line x1="234.70" y1="252.90" x2="250.40" y2="237.30" stroke="#3444b0" stroke-width="1.0"/>
<line x1="252.80" y1="270.90" x2="268.50" y2="255.30" stroke="#3444b0" stroke-width="1.0"/>
<path d="M52.50,56.10h18.1v18.0h-18.1zM70.60,56.10h18.1v18.0h-18.1zM88.70,56.10h18.1v18.0h-18.1zM106.80,56.10h18.1v18.0h-18.1zM124.90,56.10h18.1v18.0h-18.1zM143.00,56.10h18.1v18.0h-18.1zM161.10,56.10h18.1v18.0h-18.1zM179.20,56.10h18.1v18.0h-18.1zM197.30,56.10h18.1v18.0h-18.1zM215.40,56.10h18.1v18.0h-18.1zM233.50,56.10h18.1v18.0h-18.1zM251.60,56.10h18.1v18.0h-18.1zM70.60,74.10h18.1v18.0h-18.1zM88.70,74.10h18.1v18.0h-18.1zM106.80,74.10h18.1v18.0h-18.1zM124.90,74.10h18.1v18.0h-18.1zM143.00,74.10h18.1v18.0h-18.1zM161.10,74.10h18.1v18.0h-18.1zM179.20,74.10h18.1v18.0h-18.1zM197.30,74.10h18.1v18.0h-18.1zM215.40,74.10h18.1v18.0h-18.1zM233.50,74.10h18.1v18.0h-18.1zM251.60,74.10h18.1v18.0h-18.1zM88.70,92.10h18.1v18.0h-18.1zM106.80,92.10h18.1v18.0h-18.1zM124.90,92.10h18.1v18.0h-18.1zM143.00,92.10h18.1v18.0h-18.1zM161.10,92.10h18.1v18.0h-18.1zM179.20,92.10h18.1v18.0h-18.1zM197.30,92.10h18.1v18.0h-18.1zM215.40,92.10h18.1v18.0h-18.1zM233.50,92.10h18.1v18.0h-18.1zM251.60,92.10h18.1v18.0h-18.1zM106.80,110.10h18.1v18.0h-18.1zM124.90,110.10h18.1v18.0h-18.1zM143.00,110.10h18.1v18.0h-18.1zM161.10,110.10h18.1v18.0h-18.1zM179.20,110.10h18.1v18.0h-18.1zM197.30,110.10h18.1v18.0h-18.1zM215.40,110.10h18.1v18.0h-18.1zM233.50,110.10h18.1v18.0h-18.1zM251.60,110.10h18.1v18.0h-18.1zM124.90,128.10h18.1v18.0h-18.1zM143.00,128.10h18.1v18.0h-18.1zM161.10,128.10h18.1v18.0h-18.1zM179.20,128.10h18.1v18.0h-18.1zM197.30,128.10h18.1v18.0h-18.1zM215.40,128.10h18.1v18.0h-18.1zM233.50,128.10h18.1v18.0h-18.1zM251.60,128.10h18.1v18.0h-18.1zM143.00,146.10h18.1v18.0h-18.1zM161.10,146.10h18.1v18.0h-18.1zM179.20,146.10h18.1v18.0h-18.1zM197.30,146.10h18.1v18.0h-18.1zM215.40,146.10h18.1v18.0h-18.1zM233.50,146.10h18.1v18.0h-18.1zM251.60,146.10h18.1v18.0h-18.1zM161.10,164.10h18.1v18.0h-18.1zM179.20,164.10h18.1v18.0h-18.1zM197.30,164.10h18.1v18.0h-18.1zM215.40,164.10h18.1v18.0h-18.1zM233.50,164.10h18.1v18.0h-18.1zM251.60,164.10h18.1v18.0h-18.1zM179.20,182.10h18.1v18.0h-18.1zM197.30,182.10h18.1v18.0h-18.1zM215.40,182.10h18.1v18.0h-18.1zM233.50,182.10h18.1v18.0h-18.1zM251.60,182.10h18.1v18.0h-18.1zM197.30,200.10h18.1v18.0h-18.1zM215.40,200.10h18.1v18.0h-18.1zM233.50,200.10h18.1v18.0h-18.1zM251.60,200.10h18.1v18.0h-18.1zM215.40,218.10h18.1v18.0h-18.1zM233.50,218.10h18.1v18.0h-18.1zM251.60,218.10h18.1v18.0h-18.1zM233.50,236.10h18.1v18.0h-18.1zM251.60,236.10h18.1v18.0h-18.1zM251.60,254.10h18.1v18.0h-18.1z" fill="none" stroke="#1a1a1a" stroke-width="1.5"/>
<text x="49.00" y="66.64" font-size="6.8" text-anchor="end" fill="#000" stroke="#000" stroke-width="0.15">ADP</text>
<text x="67.15" y="84.81" font-size="6.8" text-anchor="end" fill="#000" stroke="#000" stroke-width="0.15">CRP</text>
<text x="85.30" y="102.98" font-size="6.8" text-anchor="end" fill="#000" stroke="#000" stroke-width="0.15">TRAP</text>
<text x="103.45" y="121.15" font-size="6.8" text-anchor="end" fill="#000" stroke="#000" stroke-width="0.15">ADP</text>
<text x="121.60" y="139.32" font-size="6.8" text-anchor="end" fill="#000" stroke="#000" stroke-width="0.15">CRP</text>
<text x="139.75" y="157.49" font-size="6.8" text-anchor="end" fill="#000" stroke="#000" stroke-width="0.15">TRAP</text>
<text x="157.90" y="175.66" font-size="6.8" text-anchor="end" fill="#000" stroke="#000" stroke-width="0.15">ADP</text>
<text x="176.05" y="193.83" font-size="6.8" text-anchor="end" fill="#000" stroke="#000" stroke-width="0.15">CRP</text>
<text x="194.20" y="212.00" font-size="6.8" text-anchor="end" fill="#000" stroke="#000" stroke-width="0.15">TRAP</text>
<text x="212.35" y="230.17" font-size="6.8" text-anchor="end" fill="#000" stroke="#000" stroke-width="0.15">ADP</text>
<text x="230.50" y="248.34" font-size="6.8" text-anchor="end" fill="#000" stroke="#000" stroke-width="0.15">CRP</text>
<text x="248.65" y="266.51" font-size="6.8" text-anchor="end" fill="#000" stroke="#000" stroke-width="0.15">TRAP</text>
<line x1="15.40" y1="76.30" x2="120.50" y2="180.50" stroke="#000" stroke-width="1.3"/>
<line x1="124.80" y1="184.50" x2="214.60" y2="271.50" stroke="#000" stroke-width="1.3"/>
<text x="41.30" y="92.90" font-size="9" text-anchor="middle" fill="#000" stroke="#000" stroke-width="0.15" textLength="42.00" lengthAdjust="spacingAndGlyphs" transform="rotate(45 41.30 89.80)">Fibrinogen</text>
<text x="59.60" y="136.20" font-size="9" text-anchor="middle" fill="#000" stroke="#000" stroke-width="0.15" textLength="40.40" lengthAdjust="spacingAndGlyphs" transform="rotate(45 59.60 133.10)">Sensitivity</text>
<text x="105.00" y="156.10" font-size="9" text-anchor="middle" fill="#000" stroke="#000" stroke-width="0.15" textLength="38.50" lengthAdjust="spacingAndGlyphs" transform="rotate(45 105.00 153.00)">P-selectin</text>
<text x="147.50" y="198.50" font-size="9" text-anchor="middle" fill="#000" stroke="#000" stroke-width="0.15" textLength="42.00" lengthAdjust="spacingAndGlyphs" transform="rotate(45 147.50 195.40)">Fibrinogen</text>
<text x="163.20" y="237.90" font-size="9" text-anchor="middle" fill="#000" stroke="#000" stroke-width="0.15" textLength="35.00" lengthAdjust="spacingAndGlyphs" transform="rotate(45 163.20 234.80)">Capacity</text>
<text x="206.10" y="253.10" font-size="9" text-anchor="middle" fill="#000" stroke="#000" stroke-width="0.15" textLength="38.50" lengthAdjust="spacingAndGlyphs" transform="rotate(45 206.10 250.00)">P-selectin</text>
<text x="296.90" y="17.04" font-size="10.3" text-anchor="start" fill="#000" font-weight="bold">B</text>
<text x="383.30" y="25.58" font-size="9.4" text-anchor="middle" fill="#000" stroke="#000" stroke-width="0.15">CRP</text>
<polyline points="341.30,118.29 341.80,118.28 342.30,118.28 342.80,118.28 343.30,118.28 343.80,118.28 344.30,118.28 344.80,118.27 345.30,118.27 345.80,118.27 346.30,118.27 346.80,118.27 347.30,118.26 347.80,118.26 348.30,118.26 348.80,118.25 349.30,118.25 349.80,118.24 350.30,118.24 350.80,118.23 351.30,118.23 351.80,118.22 352.30,118.22 352.80,118.21 353.30,118.20 353.80,118.19 354.30,118.18 354.80,118.17 355.30,118.16 355.80,118.15 356.30,118.14 356.80,118.13 357.30,118.11 357.80,118.09 358.30,118.08 358.80,118.06 359.30,118.04 359.80,118.02 360.30,117.99 360.80,117.97 361.30,117.94 361.80,117.91 362.30,117.88 362.80,117.84 363.30,117.80 363.80,117.76 364.30,117.72 364.80,117.67 365.30,117.62 365.80,117.56 366.30,117.50 366.80,117.43 367.30,117.36 367.80,117.28 368.30,117.20 368.80,117.11 369.30,117.01 369.80,116.91 370.30,116.79 370.80,116.67 371.30,116.54 371.80,116.39 372.30,116.24 372.80,116.07 373.30,115.89 373.80,115.70 374.30,115.49 374.80,115.27 375.30,115.03 375.80,114.77 376.30,114.50 376.80,114.20 377.30,113.88 377.80,113.54 378.30,113.18 378.80,112.79 379.30,112.38 379.80,111.94 380.30,111.47 380.80,110.97 381.30,110.44 381.80,109.88 382.30,109.28 382.80,108.66 383.30,107.99 383.80,107.30 384.30,106.56 384.80,105.80 385.30,104.99 385.80,104.16 386.30,103.28 386.80,102.38 387.30,101.44 387.80,100.47 388.30,99.47 388.80,98.45 389.30,97.40 389.80,96.32 390.30,95.23 390.80,94.12 391.30,93.00 391.80,91.87 392.30,90.73 392.80,89.59 393.30,88.46 393.80,87.32 394.30,86.20 394.80,85.09 395.30,83.99 395.80,82.92 396.30,81.86 396.80,80.83 397.30,79.83 397.80,78.85 398.30,77.91 398.80,77.00 399.30,76.12 399.80,75.27 400.30,74.46 400.80,73.69 401.30,72.95 401.80,72.24 402.30,71.57 402.80,70.94 403.30,70.34 403.80,69.77 404.30,69.23 404.80,68.73 405.30,68.25 405.80,67.81 406.30,67.39 406.80,66.99 407.30,66.63 407.80,66.28 408.30,65.96 408.80,65.66 409.30,65.38 409.80,65.12 410.30,64.88 410.80,64.65 411.30,64.44 411.80,64.24 412.30,64.06 412.80,63.89 413.30,63.74 413.80,63.59 414.30,63.46 414.80,63.33 415.30,63.22 415.80,63.11 416.30,63.01 416.80,62.92 417.30,62.83 417.80,62.75 418.30,62.68 418.80,62.61 419.30,62.55 419.80,62.49 420.30,62.44 420.80,62.39 421.30,62.35 421.80,62.30 422.30,62.27 422.80,62.23 423.30,62.20 423.80,62.17 424.30,62.14 424.80,62.11 425.30,62.09 425.80,62.07 426.30,62.05 426.80,62.03 427.30,62.01 427.80,61.99 428.30,61.98 428.80,61.96 429.30,61.95 429.80,61.94 430.30,61.93 430.80,61.92 431.30,61.91 431.80,61.90 432.30,61.89 432.80,61.89 433.30,61.88" fill="none" stroke="#33e633" stroke-width="1.4"/>
<polyline points="341.30,118.30 341.80,118.30 342.30,118.30 342.80,118.30 343.30,118.30 343.80,118.30 344.30,118.30 344.80,118.30 345.30,118.30 345.80,118.30 346.30,118.30 346.80,118.30 347.30,118.30 347.80,118.30 348.30,118.30 348.80,118.30 349.30,118.30 349.80,118.30 350.30,118.30 350.80,118.30 351.30,118.30 351.80,118.30 352.30,118.30 352.80,118.30 353.30,118.30 353.80,118.30 354.30,118.30 354.80,118.30 355.30,118.30 355.80,118.30 356.30,118.30 356.80,118.30 357.30,118.30 357.80,118.30 358.30,118.30 358.80,118.30 359.30,118.30 359.80,118.30 360.30,118.30 360.80,118.30 361.30,118.30 361.80,118.30 362.30,118.30 362.80,118.30 363.30,118.30 363.80,118.30 364.30,118.30 364.80,118.30 365.30,118.30 365.80,118.30 366.30,118.30 366.80,118.30 367.30,118.30 367.80,118.30 368.30,118.30 368.80,118.30 369.30,118.30 369.80,118.29 370.30,118.29 370.80,118.29 371.30,118.29 371.80,118.29 372.30,118.29 372.80,118.29 373.30,118.29 373.80,118.29 374.30,118.28 374.80,118.28 375.30,118.28 375.80,118.28 376.30,118.28 376.80,118.27 377.30,118.27 377.80,118.26 378.30,118.26 378.80,118.25 379.30,118.25 379.80,118.24 380.30,118.23 380.80,118.23 381.30,118.22 381.80,118.21 382.30,118.19 382.80,118.18 383.30,118.16 383.80,118.15 384.30,118.13 384.80,118.10 385.30,118.08 385.80,118.05 386.30,118.02 386.80,117.98 387.30,117.94 387.80,117.89 388.30,117.84 388.80,117.78 389.30,117.72 389.80,117.64 390.30,117.56 390.80,117.46 391.30,117.35 391.80,117.23 392.30,117.09 392.80,116.94 393.30,116.77 393.80,116.58 394.30,116.36 394.80,116.11 395.30,115.84 395.80,115.53 396.30,115.19 396.80,114.81 397.30,114.38 397.80,113.90 398.30,113.37 398.80,112.78 399.30,112.12 399.80,111.40 400.30,110.60 400.80,109.72 401.30,108.75 401.80,107.70 402.30,106.55 402.80,105.30 403.30,103.95 403.80,102.49 404.30,100.94 404.80,99.28 405.30,97.52 405.80,95.68 406.30,93.74 406.80,91.73 407.30,89.66 407.80,87.53 408.30,85.37 408.80,83.18 409.30,80.98 409.80,78.80 410.30,76.64 410.80,74.52 411.30,72.46 411.80,70.46 412.30,68.55 412.80,66.72 413.30,64.98 413.80,63.34 414.30,61.81 414.80,60.38 415.30,59.05 415.80,57.82 416.30,56.69 416.80,55.65 417.30,54.70 417.80,53.84 418.30,53.05 418.80,52.34 419.30,51.70 419.80,51.12 420.30,50.60 420.80,50.13 421.30,49.71 421.80,49.34 422.30,49.00 422.80,48.70 423.30,48.44 423.80,48.20 424.30,47.98 424.80,47.79 425.30,47.63 425.80,47.48 426.30,47.34 426.80,47.23 427.30,47.12 427.80,47.03 428.30,46.94 428.80,46.87 429.30,46.81 429.80,46.75 430.30,46.70 430.80,46.65 431.30,46.61 431.80,46.58 432.30,46.54 432.80,46.52 433.30,46.49" fill="none" stroke="#3322b4" stroke-width="1.4"/>
<polyline points="341.30,118.30 341.80,118.30 342.30,118.30 342.80,118.30 343.30,118.30 343.80,118.30 344.30,118.30 344.80,118.30 345.30,118.30 345.80,118.30 346.30,118.30 346.80,118.30 347.30,118.30 347.80,118.30 348.30,118.30 348.80,118.30 349.30,118.30 349.80,118.30 350.30,118.30 350.80,118.30 351.30,118.30 351.80,118.30 352.30,118.30 352.80,118.30 353.30,118.30 353.80,118.30 354.30,118.30 354.80,118.30 355.30,118.30 355.80,118.29 356.30,118.29 356.80,118.29 357.30,118.29 357.80,118.29 358.30,118.29 358.80,118.29 359.30,118.29 359.80,118.29 360.30,118.29 360.80,118.29 361.30,118.29 361.80,118.28 362.30,118.28 362.80,118.28 363.30,118.28 363.80,118.28 364.30,118.28 364.80,118.27 365.30,118.27 365.80,118.27 366.30,118.26 366.80,118.26 367.30,118.26 367.80,118.25 368.30,118.25 368.80,118.24 369.30,118.24 369.80,118.23 370.30,118.23 370.80,118.22 371.30,118.21 371.80,118.20 372.30,118.19 372.80,118.18 373.30,118.17 373.80,118.16 374.30,118.15 374.80,118.13 375.30,118.12 375.80,118.10 376.30,118.08 376.80,118.06 377.30,118.04 377.80,118.01 378.30,117.98 378.80,117.95 379.30,117.92 379.80,117.89 380.30,117.85 380.80,117.80 381.30,117.76 381.80,117.71 382.30,117.65 382.80,117.59 383.30,117.52 383.80,117.45 384.30,117.37 384.80,117.28 385.30,117.19 385.80,117.08 386.30,116.97 386.80,116.85 387.30,116.71 387.80,116.57 388.30,116.41 388.80,116.24 389.30,116.05 389.80,115.84 390.30,115.62 390.80,115.38 391.30,115.12 391.80,114.84 392.30,114.53 392.80,114.20 393.30,113.84 393.80,113.46 394.30,113.04 394.80,112.60 395.30,112.12 395.80,111.60 396.30,111.05 396.80,110.47 397.30,109.84 397.80,109.18 398.30,108.47 398.80,107.72 399.30,106.93 399.80,106.10 400.30,105.23 400.80,104.31 401.30,103.36 401.80,102.37 402.30,101.34 402.80,100.28 403.30,99.19 403.80,98.06 404.30,96.92 404.80,95.76 405.30,94.58 405.80,93.39 406.30,92.19 406.80,90.99 407.30,89.80 407.80,88.61 408.30,87.44 408.80,86.29 409.30,85.16 409.80,84.06 410.30,82.98 410.80,81.94 411.30,80.93 411.80,79.96 412.30,79.03 412.80,78.14 413.30,77.29 413.80,76.49 414.30,75.72 414.80,75.00 415.30,74.32 415.80,73.68 416.30,73.08 416.80,72.51 417.30,71.98 417.80,71.49 418.30,71.03 418.80,70.60 419.30,70.21 419.80,69.84 420.30,69.50 420.80,69.18 421.30,68.89 421.80,68.62 422.30,68.37 422.80,68.14 423.30,67.93 423.80,67.74 424.30,67.56 424.80,67.39 425.30,67.24 425.80,67.10 426.30,66.98 426.80,66.86 427.30,66.75 427.80,66.65 428.30,66.56 428.80,66.48 429.30,66.41 429.80,66.34 430.30,66.27 430.80,66.22 431.30,66.16 431.80,66.12 432.30,66.07 432.80,66.03 433.30,65.99" fill="none" stroke="#1f50d0" stroke-width="1.4"/>
<polyline points="341.30,116.50 341.80,116.50 342.30,116.50 342.80,116.50 343.30,116.50 343.80,116.50 344.30,116.50 344.80,116.50 345.30,116.50 345.80,116.49 346.30,116.49 346.80,116.49 347.30,116.49 347.80,116.49 348.30,116.49 348.80,116.49 349.30,116.49 349.80,116.49 350.30,116.49 350.80,116.48 351.30,116.48 351.80,116.48 352.30,116.48 352.80,116.48 353.30,116.47 353.80,116.47 354.30,116.47 354.80,116.46 355.30,116.46 355.80,116.45 356.30,116.45 356.80,116.44 357.30,116.43 357.80,116.42 358.30,116.42 358.80,116.41 359.30,116.39 359.80,116.38 360.30,116.37 360.80,116.35 361.30,116.34 361.80,116.32 362.30,116.29 362.80,116.27 363.30,116.24 363.80,116.21 364.30,116.18 364.80,116.14 365.30,116.10 365.80,116.05 366.30,116.00 366.80,115.94 367.30,115.88 367.80,115.81 368.30,115.73 368.80,115.64 369.30,115.54 369.80,115.43 370.30,115.30 370.80,115.16 371.30,115.01 371.80,114.84 372.30,114.65 372.80,114.44 373.30,114.20 373.80,113.94 374.30,113.65 374.80,113.33 375.30,112.98 375.80,112.58 376.30,112.15 376.80,111.67 377.30,111.15 377.80,110.57 378.30,109.93 378.80,109.24 379.30,108.47 379.80,107.64 380.30,106.74 380.80,105.76 381.30,104.70 381.80,103.55 382.30,102.32 382.80,101.00 383.30,99.59 383.80,98.10 384.30,96.52 384.80,94.85 385.30,93.11 385.80,91.29 386.30,89.41 386.80,87.47 387.30,85.48 387.80,83.46 388.30,81.41 388.80,79.35 389.30,77.29 389.80,75.24 390.30,73.22 390.80,71.23 391.30,69.29 391.80,67.41 392.30,65.59 392.80,63.85 393.30,62.18 393.80,60.60 394.30,59.11 394.80,57.70 395.30,56.38 395.80,55.15 396.30,54.00 396.80,52.94 397.30,51.96 397.80,51.06 398.30,50.23 398.80,49.46 399.30,48.77 399.80,48.13 400.30,47.55 400.80,47.03 401.30,46.55 401.80,46.12 402.30,45.72 402.80,45.37 403.30,45.05 403.80,44.76 404.30,44.50 404.80,44.26 405.30,44.05 405.80,43.86 406.30,43.69 406.80,43.54 407.30,43.40 407.80,43.27 408.30,43.16 408.80,43.06 409.30,42.97 409.80,42.89 410.30,42.82 410.80,42.76 411.30,42.70 411.80,42.65 412.30,42.60 412.80,42.56 413.30,42.52 413.80,42.49 414.30,42.46 414.80,42.43 415.30,42.41 415.80,42.38 416.30,42.36 416.80,42.35 417.30,42.33 417.80,42.32 418.30,42.31 418.80,42.29 419.30,42.28 419.80,42.28 420.30,42.27 420.80,42.26 421.30,42.25 421.80,42.25 422.30,42.24 422.80,42.24 423.30,42.23 423.80,42.23 424.30,42.23 424.80,42.22 425.30,42.22 425.80,42.22 426.30,42.22 426.80,42.22 427.30,42.21 427.80,42.21 428.30,42.21 428.80,42.21 429.30,42.21 429.80,42.21 430.30,42.21 430.80,42.21 431.30,42.21 431.80,42.21 432.30,42.20 432.80,42.20 433.30,42.20" fill="none" stroke="#d21f34" stroke-width="1.4"/>
<rect x="340.5" y="31.3" width="93.69999999999999" height="90.9" fill="none" stroke="#000" stroke-width="1.6"/>
<line x1="335.50" y1="120.40" x2="340.50" y2="120.40" stroke="#000" stroke-width="1.3"/>
<line x1="335.50" y1="99.00" x2="340.50" y2="99.00" stroke="#000" stroke-width="1.3"/>
<line x1="335.50" y1="77.60" x2="340.50" y2="77.60" stroke="#000" stroke-width="1.3"/>
<line x1="335.50" y1="56.20" x2="340.50" y2="56.20" stroke="#000" stroke-width="1.3"/>
<line x1="335.50" y1="34.80" x2="340.50" y2="34.80" stroke="#000" stroke-width="1.3"/>
<text x="333.20" y="123.18" font-size="7.5" text-anchor="end" fill="#111" stroke="#111" stroke-width="0.15">0</text>
<text x="333.20" y="81.78" font-size="7.5" text-anchor="end" fill="#111" stroke="#111" stroke-width="0.15">10000</text>
<text x="333.20" y="38.78" font-size="7.5" text-anchor="end" fill="#111" stroke="#111" stroke-width="0.15">20000</text>
<line x1="366.00" y1="122.20" x2="366.00" y2="127.20" stroke="#000" stroke-width="1.3"/>
<text x="364.80" y="136.48" font-size="7.2" text-anchor="middle" fill="#222" stroke="#222" stroke-width="0.15">−9</text>
<line x1="387.47" y1="122.20" x2="387.47" y2="127.20" stroke="#000" stroke-width="1.3"/>
<text x="386.27" y="136.48" font-size="7.2" text-anchor="middle" fill="#222" stroke="#222" stroke-width="0.15">−8</text>
<line x1="408.94" y1="122.20" x2="408.94" y2="127.20" stroke="#000" stroke-width="1.3"/>
<text x="407.74" y="136.48" font-size="7.2" text-anchor="middle" fill="#222" stroke="#222" stroke-width="0.15">−7</text>
<line x1="430.41" y1="122.20" x2="430.41" y2="127.20" stroke="#000" stroke-width="1.3"/>
<text x="429.21" y="136.48" font-size="7.2" text-anchor="middle" fill="#222" stroke="#222" stroke-width="0.15">−6</text>
<line x1="348.70" y1="126.30" x2="354.50" y2="120.30" stroke="#000" stroke-width="1.4"/>
<line x1="354.10" y1="126.30" x2="360.50" y2="120.30" stroke="#000" stroke-width="1.4"/>
<text x="302.60" y="80.16" font-size="9.2" text-anchor="middle" fill="#111" stroke="#111" stroke-width="0.15" textLength="27.90" lengthAdjust="spacingAndGlyphs" transform="rotate(-90 302.60 77.00)">P-selectin</text>
<text x="397.00" y="147.20" font-size="8.8" text-anchor="middle" fill="#222" font-weight="bold" textLength="54.40" lengthAdjust="spacingAndGlyphs">Log(concentration)</text>
<text x="3.80" y="293.55" font-size="10.6" text-anchor="start" fill="#000" font-weight="bold">C</text>
<rect x="54.30" y="295" width="62.7" height="10.10" fill="#c4e6ec" stroke="#222" stroke-width="1.3"/>
<rect x="54.30" y="305.1" width="62.7" height="9.80" fill="#c4e6ec" stroke="#222" stroke-width="1.3"/>
<rect x="54.30" y="314.9" width="62.7" height="60.60" fill="#fff" stroke="#111" stroke-width="1.3"/>
<text x="82.35" y="301.70" font-size="7.4" text-anchor="middle" fill="#111" stroke="#111" stroke-width="0.15">Fibrinogen</text>
<text x="82.35" y="312.35" font-size="7.7" text-anchor="middle" fill="#111" stroke="#111" stroke-width="0.15">ADP</text>
<rect x="120.40" y="295" width="62.7" height="10.10" fill="#c4e6ec" stroke="#222" stroke-width="1.3"/>
<rect x="120.40" y="305.1" width="62.7" height="9.80" fill="#c4e6ec" stroke="#222" stroke-width="1.3"/>
<rect x="120.40" y="314.9" width="62.7" height="60.60" fill="#fff" stroke="#111" stroke-width="1.3"/>
<text x="151.75" y="301.70" font-size="7.4" text-anchor="middle" fill="#111" stroke="#111" stroke-width="0.15">Fibrinogen</text>
<text x="151.75" y="312.35" font-size="7.7" text-anchor="middle" fill="#111" stroke="#111" stroke-width="0.15">CRP</text>
<rect x="186.50" y="295" width="62.7" height="10.10" fill="#c4e6ec" stroke="#222" stroke-width="1.3"/>
<rect x="186.50" y="305.1" width="62.7" height="9.80" fill="#c4e6ec" stroke="#222" stroke-width="1.3"/>
<rect x="186.50" y="314.9" width="62.7" height="60.60" fill="#fff" stroke="#111" stroke-width="1.3"/>
<text x="217.85" y="301.70" font-size="7.4" text-anchor="middle" fill="#111" stroke="#111" stroke-width="0.15">Fibrinogen</text>
<text x="217.85" y="312.35" font-size="7.7" text-anchor="middle" fill="#111" stroke="#111" stroke-width="0.15">TRAP</text>
<rect x="252.60" y="295" width="62.7" height="10.10" fill="#c4e6ec" stroke="#222" stroke-width="1.3"/>
<rect x="252.60" y="305.1" width="62.7" height="9.80" fill="#c4e6ec" stroke="#222" stroke-width="1.3"/>
<rect x="252.60" y="314.9" width="62.7" height="60.60" fill="#fff" stroke="#111" stroke-width="1.3"/>
<text x="283.95" y="301.70" font-size="7.4" text-anchor="middle" fill="#111" stroke="#111" stroke-width="0.15">Pselectin</text>
<text x="283.95" y="312.35" font-size="7.7" text-anchor="middle" fill="#111" stroke="#111" stroke-width="0.15">ADP</text>
<rect x="318.70" y="295" width="62.7" height="10.10" fill="#c4e6ec" stroke="#222" stroke-width="1.3"/>
<rect x="318.70" y="305.1" width="62.7" height="9.80" fill="#c4e6ec" stroke="#222" stroke-width="1.3"/>
<rect x="318.70" y="314.9" width="62.7" height="60.60" fill="#fff" stroke="#111" stroke-width="1.3"/>
<text x="350.05" y="301.70" font-size="7.4" text-anchor="middle" fill="#111" stroke="#111" stroke-width="0.15">Pselectin</text>
<text x="350.05" y="312.35" font-size="7.7" text-anchor="middle" fill="#111" stroke="#111" stroke-width="0.15">CRP</text>
<rect x="384.80" y="295" width="62.7" height="10.10" fill="#c4e6ec" stroke="#222" stroke-width="1.3"/>
<rect x="384.80" y="305.1" width="62.7" height="9.80" fill="#c4e6ec" stroke="#222" stroke-width="1.3"/>
<rect x="384.80" y="314.9" width="62.7" height="60.60" fill="#fff" stroke="#111" stroke-width="1.3"/>
<text x="416.15" y="301.70" font-size="7.4" text-anchor="middle" fill="#111" stroke="#111" stroke-width="0.15">Pselectin</text>
<text x="416.15" y="312.35" font-size="7.7" text-anchor="middle" fill="#111" stroke="#111" stroke-width="0.15">TRAP</text>
<rect x="54.30" y="378.8" width="62.7" height="10.20" fill="#c4e6ec" stroke="#222" stroke-width="1.3"/>
<rect x="54.30" y="389" width="62.7" height="9.60" fill="#c4e6ec" stroke="#222" stroke-width="1.3"/>
<rect x="54.30" y="398.6" width="62.7" height="60.80" fill="#fff" stroke="#111" stroke-width="1.3"/>
<text x="82.35" y="385.55" font-size="7.4" text-anchor="middle" fill="#111" stroke="#111" stroke-width="0.15">Fibrinogen</text>
<text x="82.35" y="396.15" font-size="7.7" text-anchor="middle" fill="#111" stroke="#111" stroke-width="0.15">ADP</text>
<rect x="120.40" y="378.8" width="62.7" height="10.20" fill="#c4e6ec" stroke="#222" stroke-width="1.3"/>
<rect x="120.40" y="389" width="62.7" height="9.60" fill="#c4e6ec" stroke="#222" stroke-width="1.3"/>
<rect x="120.40" y="398.6" width="62.7" height="60.80" fill="#fff" stroke="#111" stroke-width="1.3"/>
<text x="151.75" y="385.55" font-size="7.4" text-anchor="middle" fill="#111" stroke="#111" stroke-width="0.15">Fibrinogen</text>
<text x="151.75" y="396.15" font-size="7.7" text-anchor="middle" fill="#111" stroke="#111" stroke-width="0.15">CRP</text>
<rect x="186.50" y="378.8" width="62.7" height="10.20" fill="#c4e6ec" stroke="#222" stroke-width="1.3"/>
<rect x="186.50" y="389" width="62.7" height="9.60" fill="#c4e6ec" stroke="#222" stroke-width="1.3"/>
<rect x="186.50" y="398.6" width="62.7" height="60.80" fill="#fff" stroke="#111" stroke-width="1.3"/>
<text x="217.85" y="385.55" font-size="7.4" text-anchor="middle" fill="#111" stroke="#111" stroke-width="0.15">Fibrinogen</text>
<text x="217.85" y="396.15" font-size="7.7" text-anchor="middle" fill="#111" stroke="#111" stroke-width="0.15">TRAP</text>
<rect x="252.60" y="378.8" width="62.7" height="10.20" fill="#c4e6ec" stroke="#222" stroke-width="1.3"/>
<rect x="252.60" y="389" width="62.7" height="9.60" fill="#c4e6ec" stroke="#222" stroke-width="1.3"/>
<rect x="252.60" y="398.6" width="62.7" height="60.80" fill="#fff" stroke="#111" stroke-width="1.3"/>
<text x="283.95" y="385.55" font-size="7.4" text-anchor="middle" fill="#111" stroke="#111" stroke-width="0.15">Pselectin</text>
<text x="283.95" y="396.15" font-size="7.7" text-anchor="middle" fill="#111" stroke="#111" stroke-width="0.15">ADP</text>
<rect x="318.70" y="378.8" width="62.7" height="10.20" fill="#c4e6ec" stroke="#222" stroke-width="1.3"/>
<rect x="318.70" y="389" width="62.7" height="9.60" fill="#c4e6ec" stroke="#222" stroke-width="1.3"/>
<rect x="318.70" y="398.6" width="62.7" height="60.80" fill="#fff" stroke="#111" stroke-width="1.3"/>
<text x="350.05" y="385.55" font-size="7.4" text-anchor="middle" fill="#111" stroke="#111" stroke-width="0.15">Pselectin</text>
<text x="350.05" y="396.15" font-size="7.7" text-anchor="middle" fill="#111" stroke="#111" stroke-width="0.15">CRP</text>
<rect x="384.80" y="378.8" width="62.7" height="10.20" fill="#c4e6ec" stroke="#222" stroke-width="1.3"/>
<rect x="384.80" y="389" width="62.7" height="9.60" fill="#c4e6ec" stroke="#222" stroke-width="1.3"/>
<rect x="384.80" y="398.6" width="62.7" height="60.80" fill="#fff" stroke="#111" stroke-width="1.3"/>
<text x="416.15" y="385.55" font-size="7.4" text-anchor="middle" fill="#111" stroke="#111" stroke-width="0.15">Pselectin</text>
<text x="416.15" y="396.15" font-size="7.7" text-anchor="middle" fill="#111" stroke="#111" stroke-width="0.15">TRAP</text>
<path d="M62.40,335.90V333.50H78.60V335.90" fill="none" stroke="#111" stroke-width="1"/>
<text x="70.00" y="331.66" font-size="5.4" text-anchor="middle" fill="#222" stroke="#222" stroke-width="0.15">0.6</text>
<path d="M127.30,355.00V352.60H143.70V355.00" fill="none" stroke="#111" stroke-width="1"/>
<text x="135.10" y="350.96" font-size="5.4" text-anchor="middle" fill="#222" stroke="#222" stroke-width="0.15">0.63</text>
<path d="M192.20,339.30V336.90H208.50V339.30" fill="none" stroke="#111" stroke-width="1"/>
<text x="199.80" y="334.36" font-size="5.4" text-anchor="middle" fill="#222" stroke="#222" stroke-width="0.15">0.97</text>
<path d="M259.10,339.30V336.90H275.10V339.30" fill="none" stroke="#111" stroke-width="1"/>
<text x="267.40" y="335.06" font-size="5.4" text-anchor="middle" fill="#222" stroke="#222" stroke-width="0.15">0.39</text>
<path d="M322.70,329.50V327.10H338.70V329.50" fill="none" stroke="#111" stroke-width="1"/>
<text x="330.30" y="325.76" font-size="5.4" text-anchor="middle" fill="#222" stroke="#222" stroke-width="0.15">0.35</text>
<path d="M323.20,337.70V335.30H353.70V337.70" fill="none" stroke="#111" stroke-width="1"/>
<text x="338.30" y="334.46" font-size="5.4" text-anchor="middle" fill="#222" stroke="#222" stroke-width="0.15">1.1e-5</text>
<path d="M323.20,346.00V343.60H368.50V346.00" fill="none" stroke="#111" stroke-width="1"/>
<text x="346.90" y="342.26" font-size="5.4" text-anchor="middle" fill="#222" stroke="#222" stroke-width="0.15">0.00013</text>
<path d="M390.40,322.90V320.50H406.40V322.90" fill="none" stroke="#111" stroke-width="1"/>
<text x="398.50" y="319.56" font-size="5.4" text-anchor="middle" fill="#222" stroke="#222" stroke-width="0.15">0.52</text>
<path d="M390.40,329.10V326.70H421.50V329.10" fill="none" stroke="#111" stroke-width="1"/>
<text x="410.50" y="325.76" font-size="5.4" text-anchor="middle" fill="#222" stroke="#222" stroke-width="0.15">1.1e-5</text>
<path d="M390.40,335.60V333.20H436.90V335.60" fill="none" stroke="#111" stroke-width="1"/>
<text x="414.20" y="331.86" font-size="5.4" text-anchor="middle" fill="#222" stroke="#222" stroke-width="0.15">0.00013</text>
<path d="M62.40,407.90V405.50H78.50V407.90" fill="none" stroke="#111" stroke-width="1"/>
<text x="69.90" y="404.66" font-size="5.4" text-anchor="middle" fill="#222" stroke="#222" stroke-width="0.15">0.74</text>
<path d="M62.40,415.30V412.90H92.80V415.30" fill="none" stroke="#111" stroke-width="1"/>
<text x="77.60" y="411.96" font-size="5.4" text-anchor="middle" fill="#222" stroke="#222" stroke-width="0.15">1.1e-5</text>
<path d="M62.40,424.30V421.90H107.90V424.30" fill="none" stroke="#111" stroke-width="1"/>
<text x="82.30" y="420.86" font-size="5.4" text-anchor="middle" fill="#222" stroke="#222" stroke-width="0.15">0.00018</text>
<path d="M128.40,409.20V406.80H144.00V409.20" fill="none" stroke="#111" stroke-width="1"/>
<text x="135.90" y="404.96" font-size="5.4" text-anchor="middle" fill="#222" stroke="#222" stroke-width="0.15">0.63</text>
<path d="M128.40,414.90V412.50H159.30V414.90" fill="none" stroke="#111" stroke-width="1"/>
<text x="143.60" y="411.96" font-size="5.4" text-anchor="middle" fill="#222" stroke="#222" stroke-width="0.15">4.3e-5</text>
<path d="M128.40,422.60V420.20H173.90V422.60" fill="none" stroke="#111" stroke-width="1"/>
<text x="148.30" y="418.36" font-size="5.4" text-anchor="middle" fill="#222" stroke="#222" stroke-width="0.15">0.00013</text>
<path d="M194.40,409.20V406.80H210.50V409.20" fill="none" stroke="#111" stroke-width="1"/>
<text x="202.50" y="405.16" font-size="5.4" text-anchor="middle" fill="#222" stroke="#222" stroke-width="0.15">0.8</text>
<path d="M194.40,418.70V416.30H225.30V418.70" fill="none" stroke="#111" stroke-width="1"/>
<text x="210.30" y="415.46" font-size="5.4" text-anchor="middle" fill="#222" stroke="#222" stroke-width="0.15">4.3e-5</text>
<path d="M194.40,428.60V426.20H240.10V428.60" fill="none" stroke="#111" stroke-width="1"/>
<text x="214.30" y="424.86" font-size="5.4" text-anchor="middle" fill="#222" stroke="#222" stroke-width="0.15">0.00013</text>
<path d="M259.80,409.50V407.10H276.30V409.50" fill="none" stroke="#111" stroke-width="1"/>
<text x="267.50" y="406.06" font-size="5.4" text-anchor="middle" fill="#222" stroke="#222" stroke-width="0.15">0.39</text>
<path d="M259.80,417.60V415.20H290.80V417.60" fill="none" stroke="#111" stroke-width="1"/>
<text x="273.80" y="414.06" font-size="5.4" text-anchor="middle" fill="#222" stroke="#222" stroke-width="0.15">1.1e-5</text>
<path d="M259.80,428.60V426.20H305.60V428.60" fill="none" stroke="#111" stroke-width="1"/>
<text x="281.00" y="424.56" font-size="5.4" text-anchor="middle" fill="#222" stroke="#222" stroke-width="0.15">1.1e-5</text>
<path d="M325.00,407.10V404.70H341.60V407.10" fill="none" stroke="#111" stroke-width="1"/>
<text x="334.90" y="403.36" font-size="5.4" text-anchor="middle" fill="#222" stroke="#222" stroke-width="0.15">0.8</text>
<path d="M325.00,413.60V411.20H356.40V413.60" fill="none" stroke="#111" stroke-width="1"/>
<text x="340.90" y="409.66" font-size="5.4" text-anchor="middle" fill="#222" stroke="#222" stroke-width="0.15">0.00013</text>
<path d="M325.00,418.90V416.50H371.90V418.90" fill="none" stroke="#111" stroke-width="1"/>
<text x="349.30" y="415.06" font-size="5.4" text-anchor="middle" fill="#222" stroke="#222" stroke-width="0.15">0.00013</text>
<path d="M392.40,407.10V404.70H409.60V407.10" fill="none" stroke="#111" stroke-width="1"/>
<text x="400.20" y="403.36" font-size="5.4" text-anchor="middle" fill="#222" stroke="#222" stroke-width="0.15">0.63</text>
<path d="M392.40,414.90V412.50H423.10V414.90" fill="none" stroke="#111" stroke-width="1"/>
<text x="408.30" y="410.96" font-size="5.4" text-anchor="middle" fill="#222" stroke="#222" stroke-width="0.15">0.019</text>
<path d="M392.40,421.40V419.00H437.90V421.40" fill="none" stroke="#111" stroke-width="1"/>
<text x="417.40" y="417.76" font-size="5.4" text-anchor="middle" fill="#222" stroke="#222" stroke-width="0.15">0.028</text>
<circle cx="64.50" cy="340.70" r="1.3" fill="#1e1a98"/>
<circle cx="67.10" cy="340.70" r="1.3" fill="#1e1a98"/>
<circle cx="64.50" cy="344.20" r="1.3" fill="#1e1a98"/>
<circle cx="67.10" cy="344.20" r="1.3" fill="#1e1a98"/>
<circle cx="60.20" cy="346.10" r="1.3" fill="#1e1a98"/>
<circle cx="62.56" cy="346.10" r="1.3" fill="#1e1a98"/>
<circle cx="64.92" cy="346.10" r="1.3" fill="#1e1a98"/>
<circle cx="67.28" cy="346.10" r="1.3" fill="#1e1a98"/>
<circle cx="69.64" cy="346.10" r="1.3" fill="#1e1a98"/>
<circle cx="72.00" cy="346.10" r="1.3" fill="#1e1a98"/>
<circle cx="64.50" cy="342.50" r="1.3" fill="#1e1a98"/>
<circle cx="67.10" cy="342.50" r="1.3" fill="#1e1a98"/>
<circle cx="65.90" cy="348.90" r="1.3" fill="#1e1a98"/>
<circle cx="78.50" cy="340.70" r="1.3" fill="#cc1f33"/>
<circle cx="80.65" cy="340.70" r="1.3" fill="#cc1f33"/>
<circle cx="82.80" cy="340.70" r="1.3" fill="#cc1f33"/>
<circle cx="76.30" cy="343.00" r="1.3" fill="#cc1f33"/>
<circle cx="78.65" cy="343.00" r="1.3" fill="#cc1f33"/>
<circle cx="81.00" cy="343.00" r="1.3" fill="#cc1f33"/>
<circle cx="83.35" cy="343.00" r="1.3" fill="#cc1f33"/>
<circle cx="85.70" cy="343.00" r="1.3" fill="#cc1f33"/>
<circle cx="77.50" cy="345.30" r="1.3" fill="#cc1f33"/>
<circle cx="79.67" cy="345.30" r="1.3" fill="#cc1f33"/>
<circle cx="81.83" cy="345.30" r="1.3" fill="#cc1f33"/>
<circle cx="84.00" cy="345.30" r="1.3" fill="#cc1f33"/>
<circle cx="78.50" cy="347.00" r="1.3" fill="#cc1f33"/>
<circle cx="80.25" cy="347.00" r="1.3" fill="#cc1f33"/>
<circle cx="82.00" cy="347.00" r="1.3" fill="#cc1f33"/>
<circle cx="80.70" cy="348.80" r="1.3" fill="#cc1f33"/>
<circle cx="83.30" cy="321.00" r="1.3" fill="#1d47c6"/>
<circle cx="85.36" cy="321.00" r="1.3" fill="#1d47c6"/>
<circle cx="87.41" cy="321.00" r="1.3" fill="#1d47c6"/>
<circle cx="89.47" cy="321.00" r="1.3" fill="#1d47c6"/>
<circle cx="91.53" cy="321.00" r="1.3" fill="#1d47c6"/>
<circle cx="93.59" cy="321.00" r="1.3" fill="#1d47c6"/>
<circle cx="95.64" cy="321.00" r="1.3" fill="#1d47c6"/>
<circle cx="97.70" cy="321.00" r="1.3" fill="#1d47c6"/>
<circle cx="97.70" cy="321.00" r="1.3" fill="#38e838"/>
<circle cx="99.89" cy="321.00" r="1.3" fill="#38e838"/>
<circle cx="102.08" cy="321.00" r="1.3" fill="#38e838"/>
<circle cx="104.27" cy="321.00" r="1.3" fill="#38e838"/>
<circle cx="106.46" cy="321.00" r="1.3" fill="#38e838"/>
<circle cx="108.64" cy="321.00" r="1.3" fill="#38e838"/>
<circle cx="110.83" cy="321.00" r="1.3" fill="#38e838"/>
<circle cx="113.02" cy="321.00" r="1.3" fill="#38e838"/>
<circle cx="115.21" cy="321.00" r="1.3" fill="#38e838"/>
<circle cx="117.40" cy="321.00" r="1.3" fill="#38e838"/>
<circle cx="125.10" cy="358.80" r="1.3" fill="#1e1a98"/>
<circle cx="127.22" cy="358.80" r="1.3" fill="#1e1a98"/>
<circle cx="129.33" cy="358.80" r="1.3" fill="#1e1a98"/>
<circle cx="131.45" cy="358.80" r="1.3" fill="#1e1a98"/>
<circle cx="133.57" cy="358.80" r="1.3" fill="#1e1a98"/>
<circle cx="135.68" cy="358.80" r="1.3" fill="#1e1a98"/>
<circle cx="137.80" cy="358.80" r="1.3" fill="#1e1a98"/>
<circle cx="131.10" cy="361.50" r="1.3" fill="#1e1a98"/>
<circle cx="129.10" cy="364.10" r="1.3" fill="#1e1a98"/>
<circle cx="131.20" cy="364.10" r="1.3" fill="#1e1a98"/>
<circle cx="133.30" cy="364.10" r="1.3" fill="#1e1a98"/>
<circle cx="131.10" cy="366.80" r="1.3" fill="#1e1a98"/>
<circle cx="131.10" cy="369.20" r="1.3" fill="#1e1a98"/>
<circle cx="141.90" cy="358.80" r="1.3" fill="#cc1f33"/>
<circle cx="144.12" cy="358.80" r="1.3" fill="#cc1f33"/>
<circle cx="146.35" cy="358.80" r="1.3" fill="#cc1f33"/>
<circle cx="148.58" cy="358.80" r="1.3" fill="#cc1f33"/>
<circle cx="150.80" cy="358.80" r="1.3" fill="#cc1f33"/>
<circle cx="143.00" cy="361.60" r="1.3" fill="#cc1f33"/>
<circle cx="145.17" cy="361.60" r="1.3" fill="#cc1f33"/>
<circle cx="147.33" cy="361.60" r="1.3" fill="#cc1f33"/>
<circle cx="149.50" cy="361.60" r="1.3" fill="#cc1f33"/>
<circle cx="144.00" cy="364.10" r="1.3" fill="#cc1f33"/>
<circle cx="146.20" cy="364.10" r="1.3" fill="#cc1f33"/>
<circle cx="148.40" cy="364.10" r="1.3" fill="#cc1f33"/>
<circle cx="145.90" cy="369.20" r="1.3" fill="#cc1f33"/>
<circle cx="160.90" cy="351.40" r="1.3" fill="#1d47c6"/>
<circle cx="158.80" cy="354.00" r="1.3" fill="#1d47c6"/>
<circle cx="163.00" cy="354.00" r="1.3" fill="#1d47c6"/>
<circle cx="160.90" cy="356.50" r="1.3" fill="#1d47c6"/>
<circle cx="160.90" cy="354.00" r="1.3" fill="#1d47c6"/>
<circle cx="153.20" cy="321.20" r="1.3" fill="#1d47c6"/>
<circle cx="155.34" cy="321.20" r="1.3" fill="#1d47c6"/>
<circle cx="157.49" cy="321.20" r="1.3" fill="#1d47c6"/>
<circle cx="159.63" cy="321.20" r="1.3" fill="#1d47c6"/>
<circle cx="161.77" cy="321.20" r="1.3" fill="#1d47c6"/>
<circle cx="163.91" cy="321.20" r="1.3" fill="#1d47c6"/>
<circle cx="166.06" cy="321.20" r="1.3" fill="#1d47c6"/>
<circle cx="168.20" cy="321.20" r="1.3" fill="#1d47c6"/>
<circle cx="172.00" cy="321.20" r="1.3" fill="#38e838"/>
<circle cx="174.33" cy="321.20" r="1.3" fill="#38e838"/>
<circle cx="176.67" cy="321.20" r="1.3" fill="#38e838"/>
<circle cx="179.00" cy="321.20" r="1.3" fill="#38e838"/>
<circle cx="166.50" cy="351.30" r="1.3" fill="#38e838"/>
<circle cx="168.61" cy="351.30" r="1.3" fill="#38e838"/>
<circle cx="170.72" cy="351.30" r="1.3" fill="#38e838"/>
<circle cx="172.84" cy="351.30" r="1.3" fill="#38e838"/>
<circle cx="174.95" cy="351.30" r="1.3" fill="#38e838"/>
<circle cx="177.06" cy="351.30" r="1.3" fill="#38e838"/>
<circle cx="179.18" cy="351.30" r="1.3" fill="#38e838"/>
<circle cx="181.29" cy="351.30" r="1.3" fill="#38e838"/>
<circle cx="183.40" cy="351.30" r="1.3" fill="#38e838"/>
<circle cx="187.80" cy="346.40" r="1.3" fill="#1e1a98"/>
<circle cx="190.03" cy="346.40" r="1.3" fill="#1e1a98"/>
<circle cx="192.27" cy="346.40" r="1.3" fill="#1e1a98"/>
<circle cx="194.50" cy="346.40" r="1.3" fill="#1e1a98"/>
<circle cx="196.73" cy="346.40" r="1.3" fill="#1e1a98"/>
<circle cx="198.97" cy="346.40" r="1.3" fill="#1e1a98"/>
<circle cx="201.20" cy="346.40" r="1.3" fill="#1e1a98"/>
<circle cx="203.43" cy="346.40" r="1.3" fill="#1e1a98"/>
<circle cx="205.67" cy="346.40" r="1.3" fill="#1e1a98"/>
<circle cx="207.90" cy="346.40" r="1.3" fill="#1e1a98"/>
<circle cx="196.80" cy="343.00" r="1.3" fill="#1e1a98"/>
<circle cx="196.80" cy="344.60" r="1.3" fill="#1e1a98"/>
<circle cx="207.90" cy="346.40" r="1.3" fill="#cc1f33"/>
<circle cx="210.01" cy="346.40" r="1.3" fill="#cc1f33"/>
<circle cx="212.13" cy="346.40" r="1.3" fill="#cc1f33"/>
<circle cx="214.24" cy="346.40" r="1.3" fill="#cc1f33"/>
<circle cx="216.36" cy="346.40" r="1.3" fill="#cc1f33"/>
<circle cx="218.47" cy="346.40" r="1.3" fill="#cc1f33"/>
<circle cx="220.59" cy="346.40" r="1.3" fill="#cc1f33"/>
<circle cx="222.70" cy="346.40" r="1.3" fill="#cc1f33"/>
<circle cx="211.50" cy="341.10" r="1.3" fill="#cc1f33"/>
<circle cx="226.00" cy="338.40" r="1.3" fill="#1d47c6"/>
<circle cx="226.00" cy="340.20" r="1.3" fill="#1d47c6"/>
<circle cx="226.00" cy="342.00" r="1.3" fill="#1d47c6"/>
<circle cx="216.20" cy="320.90" r="1.3" fill="#1d47c6"/>
<circle cx="218.52" cy="320.90" r="1.3" fill="#1d47c6"/>
<circle cx="220.84" cy="320.90" r="1.3" fill="#1d47c6"/>
<circle cx="223.16" cy="320.90" r="1.3" fill="#1d47c6"/>
<circle cx="225.48" cy="320.90" r="1.3" fill="#1d47c6"/>
<circle cx="227.80" cy="320.90" r="1.3" fill="#1d47c6"/>
<circle cx="227.80" cy="320.90" r="1.3" fill="#38e838"/>
<circle cx="229.90" cy="320.90" r="1.3" fill="#38e838"/>
<circle cx="232.00" cy="320.90" r="1.3" fill="#38e838"/>
<circle cx="234.10" cy="320.90" r="1.3" fill="#38e838"/>
<circle cx="236.20" cy="320.90" r="1.3" fill="#38e838"/>
<circle cx="238.30" cy="320.90" r="1.3" fill="#38e838"/>
<circle cx="240.40" cy="320.90" r="1.3" fill="#38e838"/>
<circle cx="242.50" cy="320.90" r="1.3" fill="#38e838"/>
<circle cx="244.60" cy="320.90" r="1.3" fill="#38e838"/>
<circle cx="246.70" cy="320.90" r="1.3" fill="#38e838"/>
<circle cx="248.80" cy="320.90" r="1.3" fill="#38e838"/>
<circle cx="254.20" cy="346.40" r="1.3" fill="#1e1a98"/>
<circle cx="256.34" cy="346.40" r="1.3" fill="#1e1a98"/>
<circle cx="258.49" cy="346.40" r="1.3" fill="#1e1a98"/>
<circle cx="260.63" cy="346.40" r="1.3" fill="#1e1a98"/>
<circle cx="262.77" cy="346.40" r="1.3" fill="#1e1a98"/>
<circle cx="264.91" cy="346.40" r="1.3" fill="#1e1a98"/>
<circle cx="267.06" cy="346.40" r="1.3" fill="#1e1a98"/>
<circle cx="269.20" cy="346.40" r="1.3" fill="#1e1a98"/>
<circle cx="258.00" cy="343.60" r="1.3" fill="#1e1a98"/>
<circle cx="260.00" cy="343.60" r="1.3" fill="#1e1a98"/>
<circle cx="262.00" cy="343.60" r="1.3" fill="#1e1a98"/>
<circle cx="264.00" cy="343.60" r="1.3" fill="#1e1a98"/>
<circle cx="266.00" cy="343.60" r="1.3" fill="#1e1a98"/>
<circle cx="261.60" cy="351.30" r="1.3" fill="#1e1a98"/>
<circle cx="269.20" cy="346.40" r="1.3" fill="#cc1f33"/>
<circle cx="271.34" cy="346.40" r="1.3" fill="#cc1f33"/>
<circle cx="273.49" cy="346.40" r="1.3" fill="#cc1f33"/>
<circle cx="275.63" cy="346.40" r="1.3" fill="#cc1f33"/>
<circle cx="277.77" cy="346.40" r="1.3" fill="#cc1f33"/>
<circle cx="279.91" cy="346.40" r="1.3" fill="#cc1f33"/>
<circle cx="282.06" cy="346.40" r="1.3" fill="#cc1f33"/>
<circle cx="284.20" cy="346.40" r="1.3" fill="#cc1f33"/>
<circle cx="273.50" cy="343.60" r="1.3" fill="#cc1f33"/>
<circle cx="275.67" cy="343.60" r="1.3" fill="#cc1f33"/>
<circle cx="277.83" cy="343.60" r="1.3" fill="#cc1f33"/>
<circle cx="280.00" cy="343.60" r="1.3" fill="#cc1f33"/>
<circle cx="276.60" cy="348.80" r="1.3" fill="#cc1f33"/>
<circle cx="279.00" cy="320.70" r="1.3" fill="#1d47c6"/>
<circle cx="281.02" cy="320.70" r="1.3" fill="#1d47c6"/>
<circle cx="283.03" cy="320.70" r="1.3" fill="#1d47c6"/>
<circle cx="285.05" cy="320.70" r="1.3" fill="#1d47c6"/>
<circle cx="287.07" cy="320.70" r="1.3" fill="#1d47c6"/>
<circle cx="289.08" cy="320.70" r="1.3" fill="#1d47c6"/>
<circle cx="291.10" cy="320.70" r="1.3" fill="#1d47c6"/>
<circle cx="291.10" cy="320.70" r="1.3" fill="#38e838"/>
<circle cx="293.25" cy="320.70" r="1.3" fill="#38e838"/>
<circle cx="295.41" cy="320.70" r="1.3" fill="#38e838"/>
<circle cx="297.56" cy="320.70" r="1.3" fill="#38e838"/>
<circle cx="299.72" cy="320.70" r="1.3" fill="#38e838"/>
<circle cx="301.87" cy="320.70" r="1.3" fill="#38e838"/>
<circle cx="304.03" cy="320.70" r="1.3" fill="#38e838"/>
<circle cx="306.18" cy="320.70" r="1.3" fill="#38e838"/>
<circle cx="308.34" cy="320.70" r="1.3" fill="#38e838"/>
<circle cx="310.49" cy="320.70" r="1.3" fill="#38e838"/>
<circle cx="312.65" cy="320.70" r="1.3" fill="#38e838"/>
<circle cx="314.80" cy="320.70" r="1.3" fill="#38e838"/>
<circle cx="322.30" cy="361.50" r="1.3" fill="#1e1a98"/>
<circle cx="324.77" cy="361.50" r="1.3" fill="#1e1a98"/>
<circle cx="327.25" cy="361.50" r="1.3" fill="#1e1a98"/>
<circle cx="329.73" cy="361.50" r="1.3" fill="#1e1a98"/>
<circle cx="332.20" cy="361.50" r="1.3" fill="#1e1a98"/>
<circle cx="325.00" cy="358.20" r="1.3" fill="#1e1a98"/>
<circle cx="327.00" cy="358.20" r="1.3" fill="#1e1a98"/>
<circle cx="329.00" cy="358.20" r="1.3" fill="#1e1a98"/>
<circle cx="325.80" cy="363.60" r="1.3" fill="#1e1a98"/>
<circle cx="328.00" cy="363.60" r="1.3" fill="#1e1a98"/>
<circle cx="325.80" cy="365.60" r="1.3" fill="#1e1a98"/>
<circle cx="328.00" cy="365.60" r="1.3" fill="#1e1a98"/>
<circle cx="326.90" cy="367.50" r="1.3" fill="#1e1a98"/>
<circle cx="326.90" cy="369.30" r="1.3" fill="#1e1a98"/>
<circle cx="336.70" cy="361.50" r="1.3" fill="#cc1f33"/>
<circle cx="338.68" cy="361.50" r="1.3" fill="#cc1f33"/>
<circle cx="340.66" cy="361.50" r="1.3" fill="#cc1f33"/>
<circle cx="342.64" cy="361.50" r="1.3" fill="#cc1f33"/>
<circle cx="344.62" cy="361.50" r="1.3" fill="#cc1f33"/>
<circle cx="346.60" cy="361.50" r="1.3" fill="#cc1f33"/>
<circle cx="338.50" cy="358.20" r="1.3" fill="#cc1f33"/>
<circle cx="340.67" cy="358.20" r="1.3" fill="#cc1f33"/>
<circle cx="342.83" cy="358.20" r="1.3" fill="#cc1f33"/>
<circle cx="345.00" cy="358.20" r="1.3" fill="#cc1f33"/>
<circle cx="339.50" cy="363.60" r="1.3" fill="#cc1f33"/>
<circle cx="342.00" cy="363.60" r="1.3" fill="#cc1f33"/>
<circle cx="344.50" cy="363.60" r="1.3" fill="#cc1f33"/>
<circle cx="341.00" cy="365.60" r="1.3" fill="#cc1f33"/>
<circle cx="343.00" cy="365.60" r="1.3" fill="#cc1f33"/>
<circle cx="342.00" cy="368.80" r="1.3" fill="#cc1f33"/>
<circle cx="349.40" cy="353.80" r="1.3" fill="#1d47c6"/>
<circle cx="351.51" cy="353.80" r="1.3" fill="#1d47c6"/>
<circle cx="353.63" cy="353.80" r="1.3" fill="#1d47c6"/>
<circle cx="355.74" cy="353.80" r="1.3" fill="#1d47c6"/>
<circle cx="357.86" cy="353.80" r="1.3" fill="#1d47c6"/>
<circle cx="359.97" cy="353.80" r="1.3" fill="#1d47c6"/>
<circle cx="362.09" cy="353.80" r="1.3" fill="#1d47c6"/>
<circle cx="364.20" cy="353.80" r="1.3" fill="#1d47c6"/>
<circle cx="353.00" cy="351.10" r="1.3" fill="#1d47c6"/>
<circle cx="355.00" cy="351.10" r="1.3" fill="#1d47c6"/>
<circle cx="357.00" cy="351.10" r="1.3" fill="#1d47c6"/>
<circle cx="359.00" cy="351.10" r="1.3" fill="#1d47c6"/>
<circle cx="356.40" cy="356.60" r="1.3" fill="#1d47c6"/>
<circle cx="362.60" cy="348.50" r="1.3" fill="#38e838"/>
<circle cx="364.84" cy="348.50" r="1.3" fill="#38e838"/>
<circle cx="367.08" cy="348.50" r="1.3" fill="#38e838"/>
<circle cx="369.31" cy="348.50" r="1.3" fill="#38e838"/>
<circle cx="371.55" cy="348.50" r="1.3" fill="#38e838"/>
<circle cx="373.79" cy="348.50" r="1.3" fill="#38e838"/>
<circle cx="376.02" cy="348.50" r="1.3" fill="#38e838"/>
<circle cx="378.26" cy="348.50" r="1.3" fill="#38e838"/>
<circle cx="380.50" cy="348.50" r="1.3" fill="#38e838"/>
<circle cx="370.90" cy="351.20" r="1.3" fill="#38e838"/>
<circle cx="370.90" cy="354.20" r="1.3" fill="#38e838"/>
<circle cx="385.20" cy="343.90" r="1.3" fill="#1e1a98"/>
<circle cx="387.40" cy="343.90" r="1.3" fill="#1e1a98"/>
<circle cx="389.60" cy="343.90" r="1.3" fill="#1e1a98"/>
<circle cx="391.80" cy="343.90" r="1.3" fill="#1e1a98"/>
<circle cx="394.00" cy="343.90" r="1.3" fill="#1e1a98"/>
<circle cx="396.20" cy="343.90" r="1.3" fill="#1e1a98"/>
<circle cx="398.40" cy="343.90" r="1.3" fill="#1e1a98"/>
<circle cx="400.60" cy="343.90" r="1.3" fill="#1e1a98"/>
<circle cx="392.00" cy="341.10" r="1.3" fill="#1e1a98"/>
<circle cx="390.00" cy="346.90" r="1.3" fill="#1e1a98"/>
<circle cx="392.25" cy="346.90" r="1.3" fill="#1e1a98"/>
<circle cx="394.50" cy="346.90" r="1.3" fill="#1e1a98"/>
<circle cx="400.60" cy="343.90" r="1.3" fill="#cc1f33"/>
<circle cx="402.77" cy="343.90" r="1.3" fill="#cc1f33"/>
<circle cx="404.94" cy="343.90" r="1.3" fill="#cc1f33"/>
<circle cx="407.11" cy="343.90" r="1.3" fill="#cc1f33"/>
<circle cx="409.29" cy="343.90" r="1.3" fill="#cc1f33"/>
<circle cx="411.46" cy="343.90" r="1.3" fill="#cc1f33"/>
<circle cx="413.63" cy="343.90" r="1.3" fill="#cc1f33"/>
<circle cx="415.80" cy="343.90" r="1.3" fill="#cc1f33"/>
<circle cx="406.80" cy="341.10" r="1.3" fill="#cc1f33"/>
<circle cx="405.00" cy="346.90" r="1.3" fill="#cc1f33"/>
<circle cx="407.00" cy="346.90" r="1.3" fill="#cc1f33"/>
<circle cx="409.00" cy="346.90" r="1.3" fill="#cc1f33"/>
<circle cx="410.50" cy="338.60" r="1.3" fill="#1d47c6"/>
<circle cx="412.65" cy="338.60" r="1.3" fill="#1d47c6"/>
<circle cx="414.80" cy="338.60" r="1.3" fill="#1d47c6"/>
<circle cx="416.95" cy="338.60" r="1.3" fill="#1d47c6"/>
<circle cx="419.10" cy="338.60" r="1.3" fill="#1d47c6"/>
<circle cx="421.25" cy="338.60" r="1.3" fill="#1d47c6"/>
<circle cx="423.40" cy="338.60" r="1.3" fill="#1d47c6"/>
<circle cx="422.20" cy="341.40" r="1.3" fill="#1d47c6"/>
<circle cx="423.40" cy="338.60" r="1.3" fill="#38e838"/>
<circle cx="425.53" cy="338.60" r="1.3" fill="#38e838"/>
<circle cx="427.65" cy="338.60" r="1.3" fill="#38e838"/>
<circle cx="429.78" cy="338.60" r="1.3" fill="#38e838"/>
<circle cx="431.91" cy="338.60" r="1.3" fill="#38e838"/>
<circle cx="434.04" cy="338.60" r="1.3" fill="#38e838"/>
<circle cx="436.16" cy="338.60" r="1.3" fill="#38e838"/>
<circle cx="438.29" cy="338.60" r="1.3" fill="#38e838"/>
<circle cx="440.42" cy="338.60" r="1.3" fill="#38e838"/>
<circle cx="442.55" cy="338.60" r="1.3" fill="#38e838"/>
<circle cx="444.67" cy="338.60" r="1.3" fill="#38e838"/>
<circle cx="446.80" cy="338.60" r="1.3" fill="#38e838"/>
<circle cx="63.40" cy="436.60" r="1.3" fill="#1e1a98"/>
<circle cx="63.40" cy="438.40" r="1.3" fill="#1e1a98"/>
<circle cx="63.40" cy="440.20" r="1.3" fill="#1e1a98"/>
<circle cx="63.40" cy="442.00" r="1.3" fill="#1e1a98"/>
<circle cx="63.40" cy="443.80" r="1.3" fill="#1e1a98"/>
<circle cx="60.30" cy="441.30" r="1.3" fill="#1e1a98"/>
<circle cx="62.33" cy="441.30" r="1.3" fill="#1e1a98"/>
<circle cx="64.37" cy="441.30" r="1.3" fill="#1e1a98"/>
<circle cx="66.40" cy="441.30" r="1.3" fill="#1e1a98"/>
<circle cx="63.40" cy="447.00" r="1.3" fill="#1e1a98"/>
<circle cx="63.40" cy="449.30" r="1.3" fill="#1e1a98"/>
<circle cx="61.50" cy="453.10" r="1.3" fill="#1e1a98"/>
<circle cx="63.50" cy="453.10" r="1.3" fill="#1e1a98"/>
<circle cx="65.50" cy="453.10" r="1.3" fill="#1e1a98"/>
<circle cx="78.50" cy="435.50" r="1.3" fill="#cc1f33"/>
<circle cx="78.50" cy="439.20" r="1.3" fill="#cc1f33"/>
<circle cx="78.50" cy="441.00" r="1.3" fill="#cc1f33"/>
<circle cx="76.30" cy="443.60" r="1.3" fill="#cc1f33"/>
<circle cx="78.50" cy="443.60" r="1.3" fill="#cc1f33"/>
<circle cx="80.70" cy="443.60" r="1.3" fill="#cc1f33"/>
<circle cx="78.50" cy="446.20" r="1.3" fill="#cc1f33"/>
<circle cx="78.50" cy="448.80" r="1.3" fill="#cc1f33"/>
<circle cx="78.50" cy="450.95" r="1.3" fill="#cc1f33"/>
<circle cx="78.50" cy="453.10" r="1.3" fill="#cc1f33"/>
<circle cx="76.40" cy="452.90" r="1.3" fill="#cc1f33"/>
<circle cx="78.50" cy="452.90" r="1.3" fill="#cc1f33"/>
<circle cx="80.60" cy="452.90" r="1.3" fill="#cc1f33"/>
<circle cx="84.30" cy="456.90" r="1.3" fill="#1d47c6"/>
<circle cx="86.36" cy="456.90" r="1.3" fill="#1d47c6"/>
<circle cx="88.41" cy="456.90" r="1.3" fill="#1d47c6"/>
<circle cx="90.47" cy="456.90" r="1.3" fill="#1d47c6"/>
<circle cx="92.53" cy="456.90" r="1.3" fill="#1d47c6"/>
<circle cx="94.59" cy="456.90" r="1.3" fill="#1d47c6"/>
<circle cx="96.64" cy="456.90" r="1.3" fill="#1d47c6"/>
<circle cx="98.70" cy="456.90" r="1.3" fill="#1d47c6"/>
<circle cx="98.70" cy="456.90" r="1.3" fill="#38e838"/>
<circle cx="101.04" cy="456.90" r="1.3" fill="#38e838"/>
<circle cx="103.38" cy="456.90" r="1.3" fill="#38e838"/>
<circle cx="105.71" cy="456.90" r="1.3" fill="#38e838"/>
<circle cx="108.05" cy="456.90" r="1.3" fill="#38e838"/>
<circle cx="110.39" cy="456.90" r="1.3" fill="#38e838"/>
<circle cx="112.73" cy="456.90" r="1.3" fill="#38e838"/>
<circle cx="115.06" cy="456.90" r="1.3" fill="#38e838"/>
<circle cx="117.40" cy="456.90" r="1.3" fill="#38e838"/>
<circle cx="129.40" cy="421.80" r="1.3" fill="#1e1a98"/>
<circle cx="129.40" cy="425.50" r="1.3" fill="#1e1a98"/>
<circle cx="129.40" cy="426.95" r="1.3" fill="#1e1a98"/>
<circle cx="129.40" cy="428.40" r="1.3" fill="#1e1a98"/>
<circle cx="129.40" cy="431.60" r="1.3" fill="#1e1a98"/>
<circle cx="129.40" cy="433.40" r="1.3" fill="#1e1a98"/>
<circle cx="127.20" cy="435.30" r="1.3" fill="#1e1a98"/>
<circle cx="129.40" cy="435.30" r="1.3" fill="#1e1a98"/>
<circle cx="131.60" cy="435.30" r="1.3" fill="#1e1a98"/>
<circle cx="129.40" cy="439.30" r="1.3" fill="#1e1a98"/>
<circle cx="127.60" cy="451.20" r="1.3" fill="#1e1a98"/>
<circle cx="129.40" cy="451.20" r="1.3" fill="#1e1a98"/>
<circle cx="131.20" cy="451.20" r="1.3" fill="#1e1a98"/>
<circle cx="144.10" cy="423.80" r="1.3" fill="#cc1f33"/>
<circle cx="144.10" cy="427.80" r="1.3" fill="#cc1f33"/>
<circle cx="142.20" cy="432.60" r="1.3" fill="#cc1f33"/>
<circle cx="144.10" cy="432.60" r="1.3" fill="#cc1f33"/>
<circle cx="146.00" cy="432.60" r="1.3" fill="#cc1f33"/>
<circle cx="142.40" cy="434.60" r="1.3" fill="#cc1f33"/>
<circle cx="144.10" cy="434.60" r="1.3" fill="#cc1f33"/>
<circle cx="145.80" cy="434.60" r="1.3" fill="#cc1f33"/>
<circle cx="144.10" cy="436.50" r="1.3" fill="#cc1f33"/>
<circle cx="144.10" cy="441.50" r="1.3" fill="#cc1f33"/>
<circle cx="142.30" cy="451.20" r="1.3" fill="#cc1f33"/>
<circle cx="144.15" cy="451.20" r="1.3" fill="#cc1f33"/>
<circle cx="146.00" cy="451.20" r="1.3" fill="#cc1f33"/>
<circle cx="159.00" cy="448.80" r="1.3" fill="#1d47c6"/>
<circle cx="159.00" cy="450.80" r="1.3" fill="#1d47c6"/>
<circle cx="159.00" cy="452.80" r="1.3" fill="#1d47c6"/>
<circle cx="157.40" cy="452.90" r="1.3" fill="#1d47c6"/>
<circle cx="160.60" cy="452.90" r="1.3" fill="#1d47c6"/>
<circle cx="153.70" cy="454.90" r="1.3" fill="#1d47c6"/>
<circle cx="155.98" cy="454.90" r="1.3" fill="#1d47c6"/>
<circle cx="158.26" cy="454.90" r="1.3" fill="#1d47c6"/>
<circle cx="160.54" cy="454.90" r="1.3" fill="#1d47c6"/>
<circle cx="162.82" cy="454.90" r="1.3" fill="#1d47c6"/>
<circle cx="165.10" cy="454.90" r="1.3" fill="#1d47c6"/>
<circle cx="167.80" cy="452.90" r="1.3" fill="#38e838"/>
<circle cx="170.22" cy="452.90" r="1.3" fill="#38e838"/>
<circle cx="172.64" cy="452.90" r="1.3" fill="#38e838"/>
<circle cx="175.06" cy="452.90" r="1.3" fill="#38e838"/>
<circle cx="177.48" cy="452.90" r="1.3" fill="#38e838"/>
<circle cx="179.90" cy="452.90" r="1.3" fill="#38e838"/>
<circle cx="170.00" cy="454.90" r="1.3" fill="#38e838"/>
<circle cx="172.33" cy="454.90" r="1.3" fill="#38e838"/>
<circle cx="174.67" cy="454.90" r="1.3" fill="#38e838"/>
<circle cx="177.00" cy="454.90" r="1.3" fill="#38e838"/>
<circle cx="194.90" cy="435.20" r="1.3" fill="#1e1a98"/>
<circle cx="194.90" cy="437.10" r="1.3" fill="#1e1a98"/>
<circle cx="193.20" cy="439.30" r="1.3" fill="#1e1a98"/>
<circle cx="195.15" cy="439.30" r="1.3" fill="#1e1a98"/>
<circle cx="197.10" cy="439.30" r="1.3" fill="#1e1a98"/>
<circle cx="193.20" cy="445.30" r="1.3" fill="#1e1a98"/>
<circle cx="195.00" cy="445.30" r="1.3" fill="#1e1a98"/>
<circle cx="196.80" cy="445.30" r="1.3" fill="#1e1a98"/>
<circle cx="193.20" cy="449.00" r="1.3" fill="#1e1a98"/>
<circle cx="195.00" cy="449.00" r="1.3" fill="#1e1a98"/>
<circle cx="196.80" cy="449.00" r="1.3" fill="#1e1a98"/>
<circle cx="193.20" cy="453.00" r="1.3" fill="#1e1a98"/>
<circle cx="195.00" cy="453.00" r="1.3" fill="#1e1a98"/>
<circle cx="196.80" cy="453.00" r="1.3" fill="#1e1a98"/>
<circle cx="209.80" cy="431.80" r="1.3" fill="#cc1f33"/>
<circle cx="209.80" cy="437.40" r="1.3" fill="#cc1f33"/>
<circle cx="207.80" cy="441.50" r="1.3" fill="#cc1f33"/>
<circle cx="209.85" cy="441.50" r="1.3" fill="#cc1f33"/>
<circle cx="211.90" cy="441.50" r="1.3" fill="#cc1f33"/>
<circle cx="207.80" cy="447.00" r="1.3" fill="#cc1f33"/>
<circle cx="209.85" cy="447.00" r="1.3" fill="#cc1f33"/>
<circle cx="211.90" cy="447.00" r="1.3" fill="#cc1f33"/>
<circle cx="207.80" cy="450.80" r="1.3" fill="#cc1f33"/>
<circle cx="209.85" cy="450.80" r="1.3" fill="#cc1f33"/>
<circle cx="211.90" cy="450.80" r="1.3" fill="#cc1f33"/>
<circle cx="207.80" cy="452.90" r="1.3" fill="#cc1f33"/>
<circle cx="209.85" cy="452.90" r="1.3" fill="#cc1f33"/>
<circle cx="211.90" cy="452.90" r="1.3" fill="#cc1f33"/>
<circle cx="224.90" cy="451.10" r="1.3" fill="#1d47c6"/>
<circle cx="221.10" cy="454.20" r="1.3" fill="#1d47c6"/>
<circle cx="223.03" cy="454.20" r="1.3" fill="#1d47c6"/>
<circle cx="224.95" cy="454.20" r="1.3" fill="#1d47c6"/>
<circle cx="226.88" cy="454.20" r="1.3" fill="#1d47c6"/>
<circle cx="228.80" cy="454.20" r="1.3" fill="#1d47c6"/>
<circle cx="220.10" cy="456.40" r="1.3" fill="#1d47c6"/>
<circle cx="222.53" cy="456.40" r="1.3" fill="#1d47c6"/>
<circle cx="224.95" cy="456.40" r="1.3" fill="#1d47c6"/>
<circle cx="227.38" cy="456.40" r="1.3" fill="#1d47c6"/>
<circle cx="229.80" cy="456.40" r="1.3" fill="#1d47c6"/>
<circle cx="232.60" cy="454.90" r="1.3" fill="#38e838"/>
<circle cx="234.93" cy="454.90" r="1.3" fill="#38e838"/>
<circle cx="237.27" cy="454.90" r="1.3" fill="#38e838"/>
<circle cx="239.60" cy="454.90" r="1.3" fill="#38e838"/>
<circle cx="241.93" cy="454.90" r="1.3" fill="#38e838"/>
<circle cx="244.27" cy="454.90" r="1.3" fill="#38e838"/>
<circle cx="246.60" cy="454.90" r="1.3" fill="#38e838"/>
<circle cx="235.00" cy="456.90" r="1.3" fill="#38e838"/>
<circle cx="237.25" cy="456.90" r="1.3" fill="#38e838"/>
<circle cx="239.50" cy="456.90" r="1.3" fill="#38e838"/>
<circle cx="241.75" cy="456.90" r="1.3" fill="#38e838"/>
<circle cx="244.00" cy="456.90" r="1.3" fill="#38e838"/>
<circle cx="260.90" cy="436.90" r="1.3" fill="#1e1a98"/>
<circle cx="260.90" cy="438.67" r="1.3" fill="#1e1a98"/>
<circle cx="260.90" cy="440.44" r="1.3" fill="#1e1a98"/>
<circle cx="260.90" cy="442.21" r="1.3" fill="#1e1a98"/>
<circle cx="260.90" cy="443.99" r="1.3" fill="#1e1a98"/>
<circle cx="260.90" cy="445.76" r="1.3" fill="#1e1a98"/>
<circle cx="260.90" cy="447.53" r="1.3" fill="#1e1a98"/>
<circle cx="260.90" cy="449.30" r="1.3" fill="#1e1a98"/>
<circle cx="259.20" cy="443.20" r="1.3" fill="#1e1a98"/>
<circle cx="261.00" cy="443.20" r="1.3" fill="#1e1a98"/>
<circle cx="262.80" cy="443.20" r="1.3" fill="#1e1a98"/>
<circle cx="259.20" cy="445.40" r="1.3" fill="#1e1a98"/>
<circle cx="261.00" cy="445.40" r="1.3" fill="#1e1a98"/>
<circle cx="262.80" cy="445.40" r="1.3" fill="#1e1a98"/>
<circle cx="259.20" cy="449.20" r="1.3" fill="#1e1a98"/>
<circle cx="261.00" cy="449.20" r="1.3" fill="#1e1a98"/>
<circle cx="262.80" cy="449.20" r="1.3" fill="#1e1a98"/>
<circle cx="273.60" cy="442.80" r="1.3" fill="#cc1f33"/>
<circle cx="275.75" cy="442.80" r="1.3" fill="#cc1f33"/>
<circle cx="277.90" cy="442.80" r="1.3" fill="#cc1f33"/>
<circle cx="272.40" cy="445.10" r="1.3" fill="#cc1f33"/>
<circle cx="274.83" cy="445.10" r="1.3" fill="#cc1f33"/>
<circle cx="277.27" cy="445.10" r="1.3" fill="#cc1f33"/>
<circle cx="279.70" cy="445.10" r="1.3" fill="#cc1f33"/>
<circle cx="275.90" cy="445.10" r="1.3" fill="#cc1f33"/>
<circle cx="275.90" cy="447.05" r="1.3" fill="#cc1f33"/>
<circle cx="275.90" cy="449.00" r="1.3" fill="#cc1f33"/>
<circle cx="274.00" cy="449.00" r="1.3" fill="#cc1f33"/>
<circle cx="276.00" cy="449.00" r="1.3" fill="#cc1f33"/>
<circle cx="278.00" cy="449.00" r="1.3" fill="#cc1f33"/>
<circle cx="281.60" cy="456.90" r="1.3" fill="#1d47c6"/>
<circle cx="283.91" cy="456.90" r="1.3" fill="#1d47c6"/>
<circle cx="286.23" cy="456.90" r="1.3" fill="#1d47c6"/>
<circle cx="288.54" cy="456.90" r="1.3" fill="#1d47c6"/>
<circle cx="290.86" cy="456.90" r="1.3" fill="#1d47c6"/>
<circle cx="293.17" cy="456.90" r="1.3" fill="#1d47c6"/>
<circle cx="295.49" cy="456.90" r="1.3" fill="#1d47c6"/>
<circle cx="297.80" cy="456.90" r="1.3" fill="#1d47c6"/>
<circle cx="297.80" cy="456.90" r="1.3" fill="#38e838"/>
<circle cx="300.16" cy="456.90" r="1.3" fill="#38e838"/>
<circle cx="302.51" cy="456.90" r="1.3" fill="#38e838"/>
<circle cx="304.87" cy="456.90" r="1.3" fill="#38e838"/>
<circle cx="307.23" cy="456.90" r="1.3" fill="#38e838"/>
<circle cx="309.59" cy="456.90" r="1.3" fill="#38e838"/>
<circle cx="311.94" cy="456.90" r="1.3" fill="#38e838"/>
<circle cx="314.30" cy="456.90" r="1.3" fill="#38e838"/>
<circle cx="305.90" cy="452.90" r="1.3" fill="#38e838"/>
<circle cx="324.40" cy="417.70" r="1.3" fill="#1e1a98"/>
<circle cx="327.10" cy="417.70" r="1.3" fill="#1e1a98"/>
<circle cx="329.80" cy="417.70" r="1.3" fill="#1e1a98"/>
<circle cx="326.90" cy="421.80" r="1.3" fill="#1e1a98"/>
<circle cx="326.90" cy="425.50" r="1.3" fill="#1e1a98"/>
<circle cx="326.90" cy="427.40" r="1.3" fill="#1e1a98"/>
<circle cx="324.80" cy="429.40" r="1.3" fill="#1e1a98"/>
<circle cx="326.90" cy="429.40" r="1.3" fill="#1e1a98"/>
<circle cx="329.00" cy="429.40" r="1.3" fill="#1e1a98"/>
<circle cx="326.90" cy="433.00" r="1.3" fill="#1e1a98"/>
<circle cx="326.90" cy="435.90" r="1.3" fill="#1e1a98"/>
<circle cx="341.30" cy="416.90" r="1.3" fill="#cc1f33"/>
<circle cx="341.30" cy="418.63" r="1.3" fill="#cc1f33"/>
<circle cx="341.30" cy="420.37" r="1.3" fill="#cc1f33"/>
<circle cx="341.30" cy="422.10" r="1.3" fill="#cc1f33"/>
<circle cx="341.30" cy="423.83" r="1.3" fill="#cc1f33"/>
<circle cx="341.30" cy="425.57" r="1.3" fill="#cc1f33"/>
<circle cx="341.30" cy="427.30" r="1.3" fill="#cc1f33"/>
<circle cx="341.30" cy="429.03" r="1.3" fill="#cc1f33"/>
<circle cx="341.30" cy="430.77" r="1.3" fill="#cc1f33"/>
<circle cx="341.30" cy="432.50" r="1.3" fill="#cc1f33"/>
<circle cx="339.20" cy="427.60" r="1.3" fill="#cc1f33"/>
<circle cx="341.35" cy="427.60" r="1.3" fill="#cc1f33"/>
<circle cx="343.50" cy="427.60" r="1.3" fill="#cc1f33"/>
<circle cx="341.30" cy="435.30" r="1.3" fill="#cc1f33"/>
<circle cx="356.70" cy="431.50" r="1.3" fill="#1d47c6"/>
<circle cx="356.70" cy="434.80" r="1.3" fill="#1d47c6"/>
<circle cx="355.40" cy="436.90" r="1.3" fill="#1d47c6"/>
<circle cx="358.00" cy="436.90" r="1.3" fill="#1d47c6"/>
<circle cx="354.00" cy="439.30" r="1.3" fill="#1d47c6"/>
<circle cx="356.75" cy="439.30" r="1.3" fill="#1d47c6"/>
<circle cx="359.50" cy="439.30" r="1.3" fill="#1d47c6"/>
<circle cx="356.70" cy="443.40" r="1.3" fill="#1d47c6"/>
<circle cx="356.70" cy="448.80" r="1.3" fill="#1d47c6"/>
<circle cx="364.40" cy="438.80" r="1.3" fill="#38e838"/>
<circle cx="366.46" cy="438.80" r="1.3" fill="#38e838"/>
<circle cx="368.51" cy="438.80" r="1.3" fill="#38e838"/>
<circle cx="370.57" cy="438.80" r="1.3" fill="#38e838"/>
<circle cx="372.63" cy="438.80" r="1.3" fill="#38e838"/>
<circle cx="374.69" cy="438.80" r="1.3" fill="#38e838"/>
<circle cx="376.74" cy="438.80" r="1.3" fill="#38e838"/>
<circle cx="378.80" cy="438.80" r="1.3" fill="#38e838"/>
<circle cx="369.60" cy="441.20" r="1.3" fill="#38e838"/>
<circle cx="371.30" cy="441.20" r="1.3" fill="#38e838"/>
<circle cx="373.00" cy="441.20" r="1.3" fill="#38e838"/>
<circle cx="390.00" cy="423.80" r="1.3" fill="#1e1a98"/>
<circle cx="391.93" cy="423.80" r="1.3" fill="#1e1a98"/>
<circle cx="393.87" cy="423.80" r="1.3" fill="#1e1a98"/>
<circle cx="395.80" cy="423.80" r="1.3" fill="#1e1a98"/>
<circle cx="392.70" cy="427.50" r="1.3" fill="#1e1a98"/>
<circle cx="391.00" cy="430.20" r="1.3" fill="#1e1a98"/>
<circle cx="392.75" cy="430.20" r="1.3" fill="#1e1a98"/>
<circle cx="394.50" cy="430.20" r="1.3" fill="#1e1a98"/>
<circle cx="392.70" cy="432.70" r="1.3" fill="#1e1a98"/>
<circle cx="392.70" cy="434.43" r="1.3" fill="#1e1a98"/>
<circle cx="392.70" cy="436.17" r="1.3" fill="#1e1a98"/>
<circle cx="392.70" cy="437.90" r="1.3" fill="#1e1a98"/>
<circle cx="407.30" cy="423.50" r="1.3" fill="#cc1f33"/>
<circle cx="407.30" cy="425.30" r="1.3" fill="#cc1f33"/>
<circle cx="407.30" cy="427.10" r="1.3" fill="#cc1f33"/>
<circle cx="407.30" cy="428.90" r="1.3" fill="#cc1f33"/>
<circle cx="407.30" cy="430.70" r="1.3" fill="#cc1f33"/>
<circle cx="407.30" cy="432.50" r="1.3" fill="#cc1f33"/>
<circle cx="407.30" cy="434.30" r="1.3" fill="#cc1f33"/>
<circle cx="407.30" cy="436.10" r="1.3" fill="#cc1f33"/>
<circle cx="407.30" cy="437.90" r="1.3" fill="#cc1f33"/>
<circle cx="405.50" cy="427.20" r="1.3" fill="#cc1f33"/>
<circle cx="407.40" cy="427.20" r="1.3" fill="#cc1f33"/>
<circle cx="409.30" cy="427.20" r="1.3" fill="#cc1f33"/>
<circle cx="405.50" cy="429.80" r="1.3" fill="#cc1f33"/>
<circle cx="407.40" cy="429.80" r="1.3" fill="#cc1f33"/>
<circle cx="409.30" cy="429.80" r="1.3" fill="#cc1f33"/>
<circle cx="420.50" cy="429.30" r="1.3" fill="#1d47c6"/>
<circle cx="422.75" cy="429.30" r="1.3" fill="#1d47c6"/>
<circle cx="425.00" cy="429.30" r="1.3" fill="#1d47c6"/>
<circle cx="419.40" cy="433.30" r="1.3" fill="#1d47c6"/>
<circle cx="421.53" cy="433.30" r="1.3" fill="#1d47c6"/>
<circle cx="423.67" cy="433.30" r="1.3" fill="#1d47c6"/>
<circle cx="425.80" cy="433.30" r="1.3" fill="#1d47c6"/>
<circle cx="422.70" cy="435.00" r="1.3" fill="#1d47c6"/>
<circle cx="422.70" cy="436.83" r="1.3" fill="#1d47c6"/>
<circle cx="422.70" cy="438.67" r="1.3" fill="#1d47c6"/>
<circle cx="422.70" cy="440.50" r="1.3" fill="#1d47c6"/>
<circle cx="422.70" cy="442.33" r="1.3" fill="#1d47c6"/>
<circle cx="422.70" cy="444.17" r="1.3" fill="#1d47c6"/>
<circle cx="422.70" cy="446.00" r="1.3" fill="#1d47c6"/>
<circle cx="430.40" cy="435.40" r="1.3" fill="#38e838"/>
<circle cx="432.46" cy="435.40" r="1.3" fill="#38e838"/>
<circle cx="434.51" cy="435.40" r="1.3" fill="#38e838"/>
<circle cx="436.57" cy="435.40" r="1.3" fill="#38e838"/>
<circle cx="438.63" cy="435.40" r="1.3" fill="#38e838"/>
<circle cx="440.69" cy="435.40" r="1.3" fill="#38e838"/>
<circle cx="442.74" cy="435.40" r="1.3" fill="#38e838"/>
<circle cx="444.80" cy="435.40" r="1.3" fill="#38e838"/>
<circle cx="437.30" cy="431.00" r="1.3" fill="#38e838"/>
<circle cx="437.30" cy="433.00" r="1.3" fill="#38e838"/>
<circle cx="437.30" cy="435.00" r="1.3" fill="#38e838"/>
<line x1="52.00" y1="324.60" x2="54.40" y2="324.60" stroke="#000" stroke-width="1"/>
<text x="51.60" y="327.08" font-size="7.2" text-anchor="end" fill="#222" stroke="#222" stroke-width="0.15">No response</text>
<line x1="52.00" y1="336.60" x2="54.40" y2="336.60" stroke="#000" stroke-width="1"/>
<text x="51.60" y="339.08" font-size="7.2" text-anchor="end" fill="#222" stroke="#222" stroke-width="0.15">−5</text>
<line x1="52.00" y1="348.80" x2="54.40" y2="348.80" stroke="#000" stroke-width="1"/>
<text x="51.60" y="351.28" font-size="7.2" text-anchor="end" fill="#222" stroke="#222" stroke-width="0.15">−6</text>
<line x1="52.00" y1="361.20" x2="54.40" y2="361.20" stroke="#000" stroke-width="1"/>
<text x="51.60" y="363.68" font-size="7.2" text-anchor="end" fill="#222" stroke="#222" stroke-width="0.15">−7</text>
<line x1="52.00" y1="373.20" x2="54.40" y2="373.20" stroke="#000" stroke-width="1"/>
<text x="51.60" y="375.68" font-size="7.2" text-anchor="end" fill="#222" stroke="#222" stroke-width="0.15">−8</text>
<line x1="52.00" y1="456.30" x2="54.40" y2="456.30" stroke="#000" stroke-width="1"/>
<text x="51.60" y="458.85" font-size="7.4" text-anchor="end" fill="#222" stroke="#222" stroke-width="0.15">0</text>
<line x1="52.00" y1="444.20" x2="54.40" y2="444.20" stroke="#000" stroke-width="1"/>
<text x="51.60" y="446.75" font-size="7.4" text-anchor="end" fill="#222" stroke="#222" stroke-width="0.15">10000</text>
<line x1="52.00" y1="432.10" x2="54.40" y2="432.10" stroke="#000" stroke-width="1"/>
<text x="51.60" y="434.65" font-size="7.4" text-anchor="end" fill="#222" stroke="#222" stroke-width="0.15">20000</text>
<line x1="52.00" y1="420.10" x2="54.40" y2="420.10" stroke="#000" stroke-width="1"/>
<text x="51.60" y="422.65" font-size="7.4" text-anchor="end" fill="#222" stroke="#222" stroke-width="0.15">30000</text>
<line x1="52.00" y1="408.20" x2="54.40" y2="408.20" stroke="#000" stroke-width="1"/>
<text x="51.60" y="410.75" font-size="7.4" text-anchor="end" fill="#222" stroke="#222" stroke-width="0.15">40000</text>
<text x="33.30" y="352.14" font-size="10" text-anchor="middle" fill="#111" stroke="#111" stroke-width="0.15" textLength="28.70" lengthAdjust="spacingAndGlyphs" transform="rotate(-90 33.30 348.70)">Sensitivity</text>
<text x="19.80" y="431.07" font-size="9.8" text-anchor="middle" fill="#111" stroke="#111" stroke-width="0.15" textLength="52.70" lengthAdjust="spacingAndGlyphs" transform="rotate(-90 19.80 427.70)">Response capacity</text>
<line x1="63.00" y1="459.40" x2="63.00" y2="461.60" stroke="#000" stroke-width="1"/>
<text x="65.20" y="466.30" font-size="6.9" text-anchor="end" fill="#111" stroke="#111" stroke-width="0.18" transform="rotate(-45 65.20 466.3)">Vehicle</text>
<line x1="78.00" y1="459.40" x2="78.00" y2="461.60" stroke="#000" stroke-width="1"/>
<text x="80.20" y="466.30" font-size="6.9" text-anchor="end" fill="#111" stroke="#111" stroke-width="0.18" transform="rotate(-45 80.20 466.3)">Aspirin</text>
<line x1="93.00" y1="459.40" x2="93.00" y2="461.60" stroke="#000" stroke-width="1"/>
<text x="95.20" y="466.30" font-size="6.9" text-anchor="end" fill="#111" stroke="#111" stroke-width="0.18" transform="rotate(-45 95.20 466.3)">Cangrelor</text>
<line x1="108.00" y1="459.40" x2="108.00" y2="461.60" stroke="#000" stroke-width="1"/>
<text x="110.20" y="466.30" font-size="6.9" text-anchor="end" fill="#111" stroke="#111" stroke-width="0.18" transform="rotate(-45 110.20 466.3)">Cangrelor+Aspirin</text>
<line x1="129.10" y1="459.40" x2="129.10" y2="461.60" stroke="#000" stroke-width="1"/>
<text x="131.30" y="466.30" font-size="6.9" text-anchor="end" fill="#111" stroke="#111" stroke-width="0.18" transform="rotate(-45 131.30 466.3)">Vehicle</text>
<line x1="144.10" y1="459.40" x2="144.10" y2="461.60" stroke="#000" stroke-width="1"/>
<text x="146.30" y="466.30" font-size="6.9" text-anchor="end" fill="#111" stroke="#111" stroke-width="0.18" transform="rotate(-45 146.30 466.3)">Aspirin</text>
<line x1="159.10" y1="459.40" x2="159.10" y2="461.60" stroke="#000" stroke-width="1"/>
<text x="161.30" y="466.30" font-size="6.9" text-anchor="end" fill="#111" stroke="#111" stroke-width="0.18" transform="rotate(-45 161.30 466.3)">Cangrelor</text>
<line x1="174.10" y1="459.40" x2="174.10" y2="461.60" stroke="#000" stroke-width="1"/>
<text x="176.30" y="466.30" font-size="6.9" text-anchor="end" fill="#111" stroke="#111" stroke-width="0.18" transform="rotate(-45 176.30 466.3)">Cangrelor+Aspirin</text>
<line x1="195.20" y1="459.40" x2="195.20" y2="461.60" stroke="#000" stroke-width="1"/>
<text x="197.40" y="466.30" font-size="6.9" text-anchor="end" fill="#111" stroke="#111" stroke-width="0.18" transform="rotate(-45 197.40 466.3)">Vehicle</text>
<line x1="210.20" y1="459.40" x2="210.20" y2="461.60" stroke="#000" stroke-width="1"/>
<text x="212.40" y="466.30" font-size="6.9" text-anchor="end" fill="#111" stroke="#111" stroke-width="0.18" transform="rotate(-45 212.40 466.3)">Aspirin</text>
<line x1="225.20" y1="459.40" x2="225.20" y2="461.60" stroke="#000" stroke-width="1"/>
<text x="227.40" y="466.30" font-size="6.9" text-anchor="end" fill="#111" stroke="#111" stroke-width="0.18" transform="rotate(-45 227.40 466.3)">Cangrelor</text>
<line x1="240.20" y1="459.40" x2="240.20" y2="461.60" stroke="#000" stroke-width="1"/>
<text x="242.40" y="466.30" font-size="6.9" text-anchor="end" fill="#111" stroke="#111" stroke-width="0.18" transform="rotate(-45 242.40 466.3)">Cangrelor+Aspirin</text>
<line x1="261.30" y1="459.40" x2="261.30" y2="461.60" stroke="#000" stroke-width="1"/>
<text x="263.50" y="466.30" font-size="6.9" text-anchor="end" fill="#111" stroke="#111" stroke-width="0.18" transform="rotate(-45 263.50 466.3)">Vehicle</text>
<line x1="276.30" y1="459.40" x2="276.30" y2="461.60" stroke="#000" stroke-width="1"/>
<text x="278.50" y="466.30" font-size="6.9" text-anchor="end" fill="#111" stroke="#111" stroke-width="0.18" transform="rotate(-45 278.50 466.3)">Aspirin</text>
<line x1="291.30" y1="459.40" x2="291.30" y2="461.60" stroke="#000" stroke-width="1"/>
<text x="293.50" y="466.30" font-size="6.9" text-anchor="end" fill="#111" stroke="#111" stroke-width="0.18" transform="rotate(-45 293.50 466.3)">Cangrelor</text>
<line x1="306.30" y1="459.40" x2="306.30" y2="461.60" stroke="#000" stroke-width="1"/>
<text x="308.50" y="466.30" font-size="6.9" text-anchor="end" fill="#111" stroke="#111" stroke-width="0.18" transform="rotate(-45 308.50 466.3)">Cangrelor+Aspirin</text>
<line x1="327.40" y1="459.40" x2="327.40" y2="461.60" stroke="#000" stroke-width="1"/>
<text x="329.60" y="466.30" font-size="6.9" text-anchor="end" fill="#111" stroke="#111" stroke-width="0.18" transform="rotate(-45 329.60 466.3)">Vehicle</text>
<line x1="342.40" y1="459.40" x2="342.40" y2="461.60" stroke="#000" stroke-width="1"/>
<text x="344.60" y="466.30" font-size="6.9" text-anchor="end" fill="#111" stroke="#111" stroke-width="0.18" transform="rotate(-45 344.60 466.3)">Aspirin</text>
<line x1="357.40" y1="459.40" x2="357.40" y2="461.60" stroke="#000" stroke-width="1"/>
<text x="359.60" y="466.30" font-size="6.9" text-anchor="end" fill="#111" stroke="#111" stroke-width="0.18" transform="rotate(-45 359.60 466.3)">Cangrelor</text>
<line x1="372.40" y1="459.40" x2="372.40" y2="461.60" stroke="#000" stroke-width="1"/>
<text x="374.60" y="466.30" font-size="6.9" text-anchor="end" fill="#111" stroke="#111" stroke-width="0.18" transform="rotate(-45 374.60 466.3)">Cangrelor+Aspirin</text>
<line x1="393.50" y1="459.40" x2="393.50" y2="461.60" stroke="#000" stroke-width="1"/>
<text x="395.70" y="466.30" font-size="6.9" text-anchor="end" fill="#111" stroke="#111" stroke-width="0.18" transform="rotate(-45 395.70 466.3)">Vehicle</text>
<line x1="408.50" y1="459.40" x2="408.50" y2="461.60" stroke="#000" stroke-width="1"/>
<text x="410.70" y="466.30" font-size="6.9" text-anchor="end" fill="#111" stroke="#111" stroke-width="0.18" transform="rotate(-45 410.70 466.3)">Aspirin</text>
<line x1="423.50" y1="459.40" x2="423.50" y2="461.60" stroke="#000" stroke-width="1"/>
<text x="425.70" y="466.30" font-size="6.9" text-anchor="end" fill="#111" stroke="#111" stroke-width="0.18" transform="rotate(-45 425.70 466.3)">Cangrelor</text>
<line x1="438.50" y1="459.40" x2="438.50" y2="461.60" stroke="#000" stroke-width="1"/>
<text x="440.70" y="466.30" font-size="6.9" text-anchor="end" fill="#111" stroke="#111" stroke-width="0.18" transform="rotate(-45 440.70 466.3)">Cangrelor+Aspirin</text>
<text x="449.20" y="326.61" font-size="7" text-anchor="start" fill="#222" stroke="#222" stroke-width="0.15">Inhibitor</text>
<circle cx="452.2" cy="334.95" r="2.1" fill="#cc1f33"/>
<text x="457.00" y="337.38" font-size="7.05" text-anchor="start" fill="#111" stroke="#111" stroke-width="0.15">Aspirin</text>
<circle cx="452.2" cy="345.70" r="2.1" fill="#1d47c6"/>
<text x="457.00" y="348.13" font-size="7.05" text-anchor="start" fill="#111" stroke="#111" stroke-width="0.15">Cangrelor</text>
<circle cx="452.2" cy="356.45" r="2.1" fill="#38e838"/>
<text x="457.00" y="358.88" font-size="7.05" text-anchor="start" fill="#111" stroke="#111" stroke-width="0.15">Cangrelor+Aspirin</text>
<circle cx="452.2" cy="367.20" r="2.1" fill="#1e1a98"/>
<text x="457.00" y="369.63" font-size="7.05" text-anchor="start" fill="#111" stroke="#111" stroke-width="0.15">Vehicle</text>
<text x="449.20" y="407.81" font-size="7" text-anchor="start" fill="#222" stroke="#222" stroke-width="0.15">Inhibitor</text>
<circle cx="452.2" cy="416.15" r="2.1" fill="#cc1f33"/>
<text x="457.00" y="418.58" font-size="7.05" text-anchor="start" fill="#111" stroke="#111" stroke-width="0.15">Aspirin</text>
<circle cx="452.2" cy="426.90" r="2.1" fill="#1d47c6"/>
<text x="457.00" y="429.33" font-size="7.05" text-anchor="start" fill="#111" stroke="#111" stroke-width="0.15">Cangrelor</text>
<circle cx="452.2" cy="437.65" r="2.1" fill="#38e838"/>
<text x="457.00" y="440.08" font-size="7.05" text-anchor="start" fill="#111" stroke="#111" stroke-width="0.15">Cangrelor+Aspirin</text>
<circle cx="452.2" cy="448.40" r="2.1" fill="#1e1a98"/>
<text x="457.00" y="450.83" font-size="7.05" text-anchor="start" fill="#111" stroke="#111" stroke-width="0.15">Vehicle</text>
<text x="61.90" y="527.74" font-size="10" text-anchor="start" fill="#000" font-weight="bold">D</text>
<line x1="165.30" y1="531.00" x2="165.30" y2="612.20" stroke="#000" stroke-width="1.1" stroke-dasharray="2.4,1.6"/>
<line x1="89.00" y1="612.20" x2="233.00" y2="612.20" stroke="#000" stroke-width="1.1" stroke-dasharray="2.4,1.6"/>
<line x1="165.30" y1="612.20" x2="99.59" y2="582.30" stroke="#1a3cc2" stroke-width="1.35"/>
<polygon points="95.40,580.40 101.70,580.08 99.95,582.47 99.30,585.36" fill="#1a3cc2"/>
<line x1="165.30" y1="612.20" x2="108.43" y2="574.44" stroke="#c8162c" stroke-width="1.4"/>
<polygon points="104.60,571.90 110.87,572.58 108.77,574.67 107.66,577.41" fill="#c8162c"/>
<line x1="165.30" y1="612.20" x2="105.81" y2="571.78" stroke="#c8162c" stroke-width="1.4"/>
<polygon points="102.00,569.20 108.26,569.95 106.14,572.01 105.00,574.75" fill="#c8162c"/>
<line x1="165.30" y1="612.20" x2="121.79" y2="548.20" stroke="#c8162c" stroke-width="1.35"/>
<polygon points="119.20,544.40 124.75,547.40 122.01,548.53 119.95,550.66" fill="#c8162c"/>
<line x1="165.30" y1="612.20" x2="137.45" y2="548.71" stroke="#1a3cc2" stroke-width="1.35"/>
<polygon points="135.60,544.50 140.51,548.46 137.61,549.08 135.19,550.79" fill="#1a3cc2"/>
<line x1="165.30" y1="612.20" x2="209.37" y2="575.45" stroke="#2a1498" stroke-width="1.35"/>
<polygon points="212.90,572.50 210.46,578.31 209.06,575.70 206.74,573.86" fill="#2a1498"/>
<line x1="165.30" y1="612.20" x2="221.90" y2="567.16" stroke="#2a1498" stroke-width="1.35"/>
<polygon points="225.50,564.30 222.92,570.06 221.59,567.41 219.31,565.52" fill="#2a1498"/>
<line x1="165.30" y1="612.20" x2="215.04" y2="562.74" stroke="#3ae83a" stroke-width="1.4"/>
<polygon points="218.30,559.50 216.37,565.50 214.75,563.03 212.28,561.39" fill="#3ae83a"/>
<line x1="165.30" y1="612.20" x2="216.33" y2="561.83" stroke="#3ae83a" stroke-width="1.4"/>
<polygon points="219.60,558.60 217.65,564.60 216.04,562.11 213.58,560.47" fill="#3ae83a"/>
<line x1="165.30" y1="612.20" x2="218.24" y2="562.74" stroke="#2a1498" stroke-width="1.35"/>
<polygon points="221.60,559.60 219.49,565.54 217.95,563.01 215.53,561.30" fill="#2a1498"/>
<line x1="89.00" y1="531.70" x2="89.00" y2="616.40" stroke="#000" stroke-width="1.6"/>
<line x1="88.20" y1="616.00" x2="232.60" y2="616.00" stroke="#000" stroke-width="1.6"/>
<line x1="86.60" y1="536.20" x2="89.00" y2="536.20" stroke="#000" stroke-width="1"/>
<text x="86.10" y="538.81" font-size="7.6" text-anchor="end" fill="#222" stroke="#222" stroke-width="0.15">0.8</text>
<line x1="86.60" y1="554.90" x2="89.00" y2="554.90" stroke="#000" stroke-width="1"/>
<text x="86.10" y="557.51" font-size="7.6" text-anchor="end" fill="#222" stroke="#222" stroke-width="0.15">0.6</text>
<line x1="86.60" y1="574.00" x2="89.00" y2="574.00" stroke="#000" stroke-width="1"/>
<text x="86.10" y="576.61" font-size="7.6" text-anchor="end" fill="#222" stroke="#222" stroke-width="0.15">0.4</text>
<line x1="86.60" y1="592.90" x2="89.00" y2="592.90" stroke="#000" stroke-width="1"/>
<text x="86.10" y="595.51" font-size="7.6" text-anchor="end" fill="#222" stroke="#222" stroke-width="0.15">0.2</text>
<line x1="86.60" y1="612.00" x2="89.00" y2="612.00" stroke="#000" stroke-width="1"/>
<text x="86.10" y="614.61" font-size="7.6" text-anchor="end" fill="#222" stroke="#222" stroke-width="0.15">0.0</text>
<line x1="121.90" y1="616.00" x2="121.90" y2="618.40" stroke="#000" stroke-width="1"/>
<text x="121.30" y="626.15" font-size="7.4" text-anchor="middle" fill="#222" stroke="#222" stroke-width="0.15">−0.5</text>
<line x1="165.30" y1="616.00" x2="165.30" y2="618.40" stroke="#000" stroke-width="1"/>
<text x="165.90" y="626.15" font-size="7.4" text-anchor="middle" fill="#222" stroke="#222" stroke-width="0.15">0.0</text>
<line x1="207.70" y1="616.00" x2="207.70" y2="618.40" stroke="#000" stroke-width="1"/>
<text x="208.30" y="626.15" font-size="7.4" text-anchor="middle" fill="#222" stroke="#222" stroke-width="0.15">0.5</text>
<text x="65.30" y="577.91" font-size="10.2" text-anchor="middle" fill="#111" font-weight="bold" textLength="17.20" lengthAdjust="spacingAndGlyphs" transform="rotate(-90 65.30 574.40)">PCA 2</text>
<text x="160.75" y="639.91" font-size="10.2" text-anchor="middle" fill="#111" font-weight="bold" textLength="16.90" lengthAdjust="spacingAndGlyphs">PCA 1</text>
<text x="100.70" y="538.94" font-size="7.1" text-anchor="start" fill="#1a3cc2" stroke="#1a3cc2" stroke-width="0.15" textLength="27.70" lengthAdjust="spacingAndGlyphs">Capacity</text>
<text x="196.20" y="538.94" font-size="7.1" text-anchor="start" fill="#2a1498" stroke="#2a1498" stroke-width="0.15" textLength="31.80" lengthAdjust="spacingAndGlyphs">Sensitivity</text>
<text x="248.50" y="526.54" font-size="10" text-anchor="start" fill="#000" font-weight="bold">E</text>
<ellipse cx="347.1" cy="584.3" rx="60" ry="52.9" fill="none" stroke="#111" stroke-width="1.2"/>
<line x1="347.10" y1="527.50" x2="347.10" y2="642.00" stroke="#000" stroke-width="1.1" stroke-dasharray="2.4,1.6"/>
<line x1="280.70" y1="584.30" x2="412.50" y2="584.30" stroke="#000" stroke-width="1.1" stroke-dasharray="2.4,1.6"/>
<line x1="347.10" y1="584.30" x2="313.67" y2="568.74" stroke="#3ae83a" stroke-width="1.35"/>
<polygon points="309.50,566.80 315.80,566.53 314.03,568.91 313.35,571.79" fill="#3ae83a"/>
<line x1="347.10" y1="584.30" x2="310.70" y2="573.06" stroke="#2a1498" stroke-width="1.35"/>
<polygon points="306.30,571.70 312.51,570.58 311.08,573.18 310.79,576.12" fill="#2a1498"/>
<line x1="347.10" y1="584.30" x2="312.54" y2="578.73" stroke="#3ae83a" stroke-width="1.35"/>
<polygon points="308.00,578.00 313.99,576.03 312.94,578.80 313.07,581.75" fill="#3ae83a"/>
<line x1="347.10" y1="584.30" x2="308.79" y2="581.35" stroke="#2a1498" stroke-width="1.35"/>
<polygon points="304.20,581.00 310.01,578.54 309.19,581.38 309.56,584.32" fill="#2a1498"/>
<line x1="347.10" y1="584.30" x2="315.26" y2="608.52" stroke="#3ae83a" stroke-width="1.35"/>
<polygon points="311.60,611.30 314.30,605.60 315.58,608.27 317.81,610.22" fill="#3ae83a"/>
<line x1="347.10" y1="584.30" x2="315.98" y2="614.97" stroke="#2a1498" stroke-width="1.35"/>
<polygon points="312.70,618.20 314.65,612.20 316.26,614.69 318.72,616.33" fill="#2a1498"/>
<line x1="347.10" y1="584.30" x2="365.91" y2="564.81" stroke="#1a3cc2" stroke-width="1.35"/>
<polygon points="369.10,561.50 367.30,567.54 365.63,565.10 363.12,563.52" fill="#1a3cc2"/>
<line x1="347.10" y1="584.30" x2="375.83" y2="577.38" stroke="#1a3cc2" stroke-width="1.35"/>
<polygon points="380.30,576.30 375.54,580.43 375.44,577.47 374.18,574.79" fill="#1a3cc2"/>
<line x1="347.10" y1="584.30" x2="393.53" y2="579.02" stroke="#1a3cc2" stroke-width="1.35"/>
<polygon points="398.10,578.50 392.86,582.01 393.13,579.06 392.21,576.25" fill="#1a3cc2"/>
<line x1="347.10" y1="584.30" x2="376.24" y2="588.36" stroke="#c8162c" stroke-width="1.35"/>
<polygon points="380.80,589.00 374.85,591.10 375.85,588.31 375.65,585.35" fill="#c8162c"/>
<line x1="347.10" y1="584.30" x2="388.59" y2="596.59" stroke="#c8162c" stroke-width="1.35"/>
<polygon points="393.00,597.90 386.81,599.09 388.21,596.48 388.45,593.53" fill="#c8162c"/>
<line x1="347.10" y1="584.30" x2="388.09" y2="599.68" stroke="#c8162c" stroke-width="1.35"/>
<polygon points="392.40,601.30 386.14,602.05 387.72,599.54 388.18,596.62" fill="#c8162c"/>
<line x1="280.70" y1="527.20" x2="280.70" y2="642.90" stroke="#000" stroke-width="1.6"/>
<line x1="279.90" y1="642.20" x2="411.40" y2="642.20" stroke="#000" stroke-width="1.6"/>
<line x1="278.40" y1="531.50" x2="280.70" y2="531.50" stroke="#000" stroke-width="1"/>
<text x="277.80" y="534.11" font-size="7.6" text-anchor="end" fill="#222" stroke="#222" stroke-width="0.15">1.0</text>
<line x1="278.40" y1="557.90" x2="280.70" y2="557.90" stroke="#000" stroke-width="1"/>
<text x="277.80" y="560.51" font-size="7.6" text-anchor="end" fill="#222" stroke="#222" stroke-width="0.15">0.5</text>
<line x1="278.40" y1="584.30" x2="280.70" y2="584.30" stroke="#000" stroke-width="1"/>
<text x="277.80" y="586.91" font-size="7.6" text-anchor="end" fill="#222" stroke="#222" stroke-width="0.15">0.0</text>
<line x1="278.40" y1="610.20" x2="280.70" y2="610.20" stroke="#000" stroke-width="1"/>
<text x="277.80" y="612.81" font-size="7.6" text-anchor="end" fill="#222" stroke="#222" stroke-width="0.15">−0.5</text>
<line x1="278.40" y1="637.30" x2="280.70" y2="637.30" stroke="#000" stroke-width="1"/>
<text x="277.80" y="639.91" font-size="7.6" text-anchor="end" fill="#222" stroke="#222" stroke-width="0.15">−1.0</text>
<line x1="287.10" y1="642.20" x2="287.10" y2="644.60" stroke="#000" stroke-width="1"/>
<text x="286.30" y="652.45" font-size="7.4" text-anchor="middle" fill="#222" stroke="#222" stroke-width="0.15">−1.0</text>
<line x1="317.00" y1="642.20" x2="317.00" y2="644.60" stroke="#000" stroke-width="1"/>
<text x="316.20" y="652.45" font-size="7.4" text-anchor="middle" fill="#222" stroke="#222" stroke-width="0.15">−0.5</text>
<line x1="347.10" y1="642.20" x2="347.10" y2="644.60" stroke="#000" stroke-width="1"/>
<text x="347.10" y="652.45" font-size="7.4" text-anchor="middle" fill="#222" stroke="#222" stroke-width="0.15">0.0</text>
<line x1="377.00" y1="642.20" x2="377.00" y2="644.60" stroke="#000" stroke-width="1"/>
<text x="377.00" y="652.45" font-size="7.4" text-anchor="middle" fill="#222" stroke="#222" stroke-width="0.15">0.5</text>
<line x1="407.10" y1="642.20" x2="407.10" y2="644.60" stroke="#000" stroke-width="1"/>
<text x="407.10" y="652.45" font-size="7.4" text-anchor="middle" fill="#222" stroke="#222" stroke-width="0.15">1.0</text>
<text x="255.40" y="587.81" font-size="10.2" text-anchor="middle" fill="#111" font-weight="bold" textLength="17.20" lengthAdjust="spacingAndGlyphs" transform="rotate(-90 255.40 584.30)">PCA 3</text>
<text x="345.50" y="663.51" font-size="10.2" text-anchor="middle" fill="#111" font-weight="bold" textLength="16.90" lengthAdjust="spacingAndGlyphs">PCA 1</text>
<text x="282.00" y="536.44" font-size="7.1" text-anchor="start" fill="#2a1498" stroke="#2a1498" stroke-width="0.15" textLength="31.10" lengthAdjust="spacingAndGlyphs">Sensitivity</text>
<text x="380.80" y="536.04" font-size="7.1" text-anchor="start" fill="#1a3cc2" stroke="#1a3cc2" stroke-width="0.15" textLength="27.10" lengthAdjust="spacingAndGlyphs">Capacity</text>
<text x="300.00" y="568.64" font-size="6.5" text-anchor="middle" fill="#3220a8" stroke="#3220a8" stroke-width="0.15">ADP</text>
<text x="295.80" y="580.04" font-size="6.5" text-anchor="middle" fill="#3220a8" stroke="#3220a8" stroke-width="0.15">TRAP</text>
<text x="306.30" y="618.34" font-size="6.5" text-anchor="middle" fill="#3220a8" stroke="#3220a8" stroke-width="0.15">CRP</text>
<text x="363.80" y="551.04" font-size="6.5" text-anchor="start" fill="#2445bd" stroke="#2445bd" stroke-width="0.15" textLength="25.90" lengthAdjust="spacingAndGlyphs">P-selectin</text>
<text x="370.20" y="559.14" font-size="6.5" text-anchor="start" fill="#2445bd" stroke="#2445bd" stroke-width="0.15" textLength="13.10" lengthAdjust="spacingAndGlyphs">CRP</text>
<text x="376.10" y="572.84" font-size="6.5" text-anchor="start" fill="#2445bd" stroke="#2445bd" stroke-width="0.15" textLength="15.30" lengthAdjust="spacingAndGlyphs">TRAP</text>
<text x="393.50" y="576.44" font-size="6.5" text-anchor="start" fill="#2445bd" stroke="#2445bd" stroke-width="0.15" textLength="12.20" lengthAdjust="spacingAndGlyphs">ADP</text>
<text x="380.80" y="591.24" font-size="6.5" text-anchor="start" fill="#2445bd" stroke="#2445bd" stroke-width="0.15" textLength="12.70" lengthAdjust="spacingAndGlyphs">CRP</text>
<text x="393.00" y="598.04" font-size="6.5" text-anchor="start" fill="#2445bd" stroke="#2445bd" stroke-width="0.15" textLength="12.70" lengthAdjust="spacingAndGlyphs">ADP</text>
<text x="387.10" y="608.64" font-size="6.5" text-anchor="start" fill="#2445bd" stroke="#2445bd" stroke-width="0.15" textLength="14.80" lengthAdjust="spacingAndGlyphs">TRAP</text>
<text x="369.80" y="614.14" font-size="6.5" text-anchor="start" fill="#2445bd" stroke="#2445bd" stroke-width="0.15" textLength="27.90" lengthAdjust="spacingAndGlyphs">Fibrinogen</text>
<line x1="443.10" y1="532.50" x2="433.20" y2="532.50" stroke="#c8162c" stroke-width="1.5"/>
<polygon points="429.00,532.50 434.20,529.50 433.60,532.50 434.20,535.50" fill="#c8162c"/>
<text x="446.00" y="534.91" font-size="7.0" text-anchor="start" fill="#111" stroke="#111" stroke-width="0.15">Cap, fibr</text>
<line x1="443.10" y1="545.00" x2="433.20" y2="545.00" stroke="#1a3cc2" stroke-width="1.5"/>
<polygon points="429.00,545.00 434.20,542.00 433.60,545.00 434.20,548.00" fill="#1a3cc2"/>
<text x="446.00" y="547.41" font-size="7.0" text-anchor="start" fill="#111" stroke="#111" stroke-width="0.15">Cap, P-sel</text>
<line x1="443.10" y1="556.00" x2="433.20" y2="556.00" stroke="#3ae83a" stroke-width="1.5"/>
<polygon points="429.00,556.00 434.20,553.00 433.60,556.00 434.20,559.00" fill="#3ae83a"/>
<text x="446.00" y="558.41" font-size="7.0" text-anchor="start" fill="#111" stroke="#111" stroke-width="0.15">sen, fibr</text>
<line x1="443.10" y1="569.00" x2="433.20" y2="569.00" stroke="#2a1498" stroke-width="1.5"/>
<polygon points="429.00,569.00 434.20,566.00 433.60,569.00 434.20,572.00" fill="#2a1498"/>
<text x="446.00" y="571.41" font-size="7.0" text-anchor="start" fill="#111" stroke="#111" stroke-width="0.15">sen, P-sel</text>
<rect x="0.65" y="0.6" width="518.7" height="668.75" fill="none" stroke="#000" stroke-width="1.3"/>
</svg>
</body></html>
